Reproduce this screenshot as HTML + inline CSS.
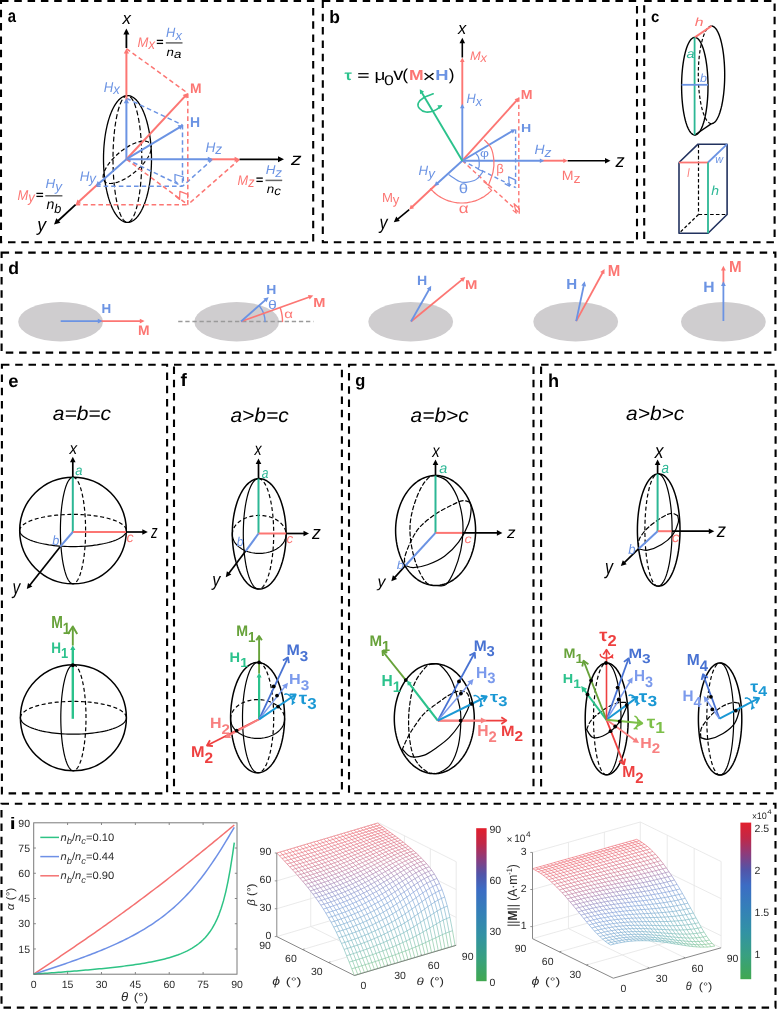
<!DOCTYPE html>
<html><head><meta charset="utf-8"><style>
html,body{margin:0;padding:0;background:#fff;}
svg{display:block;will-change:transform;}
text{font-family:"Liberation Sans",sans-serif;font-kerning:none;text-rendering:geometricPrecision;}
</style></head><body>
<svg width="777" height="1009" viewBox="0 0 777 1009">
<rect width="777" height="1009" fill="#fff"/>
<rect x="1" y="0.9" width="312.2" height="241.3" fill="none" stroke="#000" stroke-width="2.1" stroke-dasharray="7.5 5.8"/>
<rect x="322.8" y="0.9" width="314.2" height="241.3" fill="none" stroke="#000" stroke-width="2.1" stroke-dasharray="7.5 5.8"/>
<rect x="644.2" y="0.9" width="130.4" height="241.3" fill="none" stroke="#000" stroke-width="2.1" stroke-dasharray="7.5 5.8"/>
<rect x="1.6" y="252.6" width="773.8" height="100" fill="none" stroke="#000" stroke-width="2.1" stroke-dasharray="7.5 5.8"/>
<rect x="1.9" y="364.8" width="165.2" height="428.6" fill="none" stroke="#000" stroke-width="2.1" stroke-dasharray="7.5 5.8"/>
<rect x="174" y="364.8" width="167.9" height="428.5" fill="none" stroke="#000" stroke-width="2.1" stroke-dasharray="7.5 5.8"/>
<rect x="349" y="364.8" width="184.5" height="428.5" fill="none" stroke="#000" stroke-width="2.1" stroke-dasharray="7.5 5.8"/>
<rect x="541.1" y="364.8" width="234.5" height="428.5" fill="none" stroke="#000" stroke-width="2.1" stroke-dasharray="7.5 5.8"/>
<rect x="1.5" y="803.8" width="774" height="203.8" fill="none" stroke="#000" stroke-width="2.1" stroke-dasharray="7.5 5.8"/>
<text x="7.77" y="22.42" font-size="18.07" fill="#000" font-weight="bold" font-style="normal" textLength="8.24" lengthAdjust="spacingAndGlyphs" >a</text>
<text x="329.35" y="22.52" font-size="17.97" fill="#000" font-weight="bold" font-style="normal" textLength="10.67" lengthAdjust="spacingAndGlyphs" >b</text>
<text x="651.02" y="22.44" font-size="15.88" fill="#000" font-weight="bold" font-style="normal" textLength="8.32" lengthAdjust="spacingAndGlyphs" >c</text>
<text x="8.38" y="273.73" font-size="17.57" fill="#000" font-weight="bold" font-style="normal" textLength="10.79" lengthAdjust="spacingAndGlyphs" >d</text>
<text x="8.38" y="386.93" font-size="17.89" fill="#000" font-weight="bold" font-style="normal" textLength="10.25" lengthAdjust="spacingAndGlyphs" >e</text>
<text x="180.57" y="386" font-size="17.94" fill="#000" font-weight="bold" font-style="normal" textLength="6.39" lengthAdjust="spacingAndGlyphs" >f</text>
<text x="355.22" y="386.21" font-size="16.92" fill="#000" font-weight="bold" font-style="normal" textLength="10.08" lengthAdjust="spacingAndGlyphs" >g</text>
<text x="547.93" y="386.9" font-size="18.49" fill="#000" font-weight="bold" font-style="normal" textLength="11.09" lengthAdjust="spacingAndGlyphs" >h</text>
<text x="9.82" y="828.7" font-size="16.7" fill="#000" font-weight="bold" font-style="normal" textLength="5.87" lengthAdjust="spacingAndGlyphs" >i</text>
<polyline points="151.5,159 151.47,162.32 151.37,165.63 151.2,168.92 150.98,172.18 150.68,175.41 150.33,178.59 149.91,181.72 149.43,184.79 148.88,187.78 148.28,190.7 147.63,193.53 146.92,196.27 146.15,198.9 145.34,201.42 144.47,203.83 143.56,206.12 142.6,208.27 141.61,210.29 140.57,212.17 139.5,213.91 138.4,215.49 137.26,216.92 136.1,218.19 134.92,219.3 133.71,220.24 132.49,221.01 131.25,221.62 130.01,222.05 128.76,222.31 127.5,222.4 126.24,222.31 124.99,222.05 123.75,221.62 122.51,221.01 121.29,220.24 120.08,219.3 118.9,218.19 117.74,216.92 116.6,215.49 115.5,213.91 114.43,212.17 113.39,210.29 112.4,208.27 111.44,206.12 110.53,203.83 109.66,201.42 108.85,198.9 108.08,196.27 107.37,193.53 106.72,190.7 106.12,187.78 105.57,184.79 105.09,181.72 104.67,178.59 104.32,175.41 104.02,172.18 103.8,168.92 103.63,165.63 103.53,162.32 103.5,159 103.53,155.68 103.63,152.37 103.8,149.08 104.02,145.82 104.32,142.59 104.67,139.41 105.09,136.28 105.57,133.21 106.12,130.22 106.72,127.3 107.37,124.47 108.08,121.73 108.85,119.1 109.66,116.58 110.53,114.17 111.44,111.88 112.4,109.73 113.39,107.71 114.43,105.83 115.5,104.09 116.6,102.51 117.74,101.08 118.9,99.81 120.08,98.7 121.29,97.76 122.51,96.99 123.75,96.38 124.99,95.95 126.24,95.69 127.5,95.6 128.76,95.69 130.01,95.95 131.25,96.38 132.49,96.99 133.71,97.76 134.92,98.7 136.1,99.81 137.26,101.08 138.4,102.51 139.5,104.09 140.57,105.83 141.61,107.71 142.6,109.73 143.56,111.88 144.47,114.17 145.34,116.58 146.15,119.1 146.92,121.73 147.63,124.47 148.28,127.3 148.88,130.22 149.43,133.21 149.91,136.28 150.33,139.41 150.68,142.59 150.98,145.82 151.2,149.08 151.37,152.37 151.47,155.68 151.5,159" fill="none" stroke="#000" stroke-width="1.3" stroke-linejoin="round"/>
<polyline points="141.8,159 141.78,162.32 141.72,165.63 141.62,168.92 141.49,172.18 141.31,175.41 141.1,178.59 140.84,181.72 140.56,184.79 140.23,187.78 139.87,190.7 139.48,193.53 139.05,196.27 138.59,198.9 138.1,201.42 137.58,203.83 137.04,206.12 136.46,208.27 135.86,210.29 135.24,212.17 134.6,213.91 133.94,215.49 133.26,216.92 132.56,218.19 131.85,219.3 131.13,220.24 130.39,221.01 129.65,221.62 128.91,222.05 128.15,222.31 127.4,222.4 126.65,222.31 125.89,222.05 125.15,221.62 124.41,221.01 123.67,220.24 122.95,219.3 122.24,218.19 121.54,216.92 120.86,215.49 120.2,213.91 119.56,212.17 118.94,210.29 118.34,208.27 117.76,206.12 117.22,203.83 116.7,201.42 116.21,198.9 115.75,196.27 115.32,193.53 114.93,190.7 114.57,187.78 114.24,184.79 113.96,181.72 113.7,178.59 113.49,175.41 113.31,172.18 113.18,168.92 113.08,165.63 113.02,162.32 113,159 113.02,155.68 113.08,152.37 113.18,149.08 113.31,145.82 113.49,142.59 113.7,139.41 113.96,136.28 114.24,133.21 114.57,130.22 114.93,127.3 115.32,124.47 115.75,121.73 116.21,119.1 116.7,116.58 117.22,114.17 117.76,111.88 118.34,109.73 118.94,107.71 119.56,105.83 120.2,104.09 120.86,102.51 121.54,101.08 122.24,99.81 122.95,98.7 123.67,97.76 124.41,96.99 125.15,96.38 125.89,95.95 126.65,95.69 127.4,95.6 128.15,95.69 128.91,95.95 129.65,96.38 130.39,96.99 131.13,97.76 131.85,98.7 132.56,99.81 133.26,101.08 133.94,102.51 134.6,104.09 135.24,105.83 135.86,107.71 136.46,109.73 137.04,111.88 137.58,114.17 138.1,116.58 138.59,119.1 139.05,121.73 139.48,124.47 139.87,127.3 140.23,130.22 140.56,133.21 140.84,136.28 141.1,139.41 141.31,142.59 141.49,145.82 141.62,149.08 141.72,152.37 141.78,155.68 141.8,159" fill="none" stroke="#000" stroke-width="1.2" stroke-linejoin="round" stroke-dasharray="5 2.6"/>
<polyline points="149.94,143.35 150.33,143.88 150.65,144.45 150.9,145.08 151.09,145.75 151.22,146.46 151.28,147.22 151.28,148.03 151.2,148.87 151.07,149.74 150.86,150.65 150.6,151.6 150.26,152.57 149.87,153.57 149.41,154.59 148.89,155.64 148.32,156.7 147.68,157.78 146.99,158.87 146.24,159.97 145.44,161.08 144.6,162.19 143.7,163.3 142.76,164.4 141.78,165.51 140.75,166.6 139.69,167.68 138.6,168.75 137.47,169.79 136.32,170.82 135.14,171.83 133.94,172.81 132.72,173.76 131.48,174.67 130.24,175.56 128.98,176.41 127.72,177.22 126.46,177.98 125.2,178.71 123.95,179.39 122.7,180.02 121.47,180.61 120.25,181.14 119.06,181.63 117.88,182.06 116.73,182.43 115.61,182.76 114.52,183.02 113.47,183.23 112.45,183.38 111.47,183.47 110.54,183.51 109.65,183.48 108.81,183.4 108.02,183.26 107.29,183.07 106.61,182.81 105.98,182.5 105.41,182.14 104.91,181.72 104.46,181.25 104.07,180.72 103.75,180.15 103.5,179.52 103.31,178.85 103.18,178.14 103.12,177.38 103.12,176.57 103.2,175.73 103.33,174.86 103.54,173.95 103.8,173 104.14,172.03 104.53,171.03 104.99,170.01 105.51,168.96 106.08,167.9 106.72,166.82 107.41,165.73 108.16,164.63 108.96,163.52 109.8,162.41 110.7,161.3 111.64,160.2 112.62,159.09 113.65,158 114.71,156.92 115.8,155.85 116.93,154.81 118.08,153.78 119.26,152.77 120.46,151.79 121.68,150.84 122.92,149.93 124.16,149.04 125.42,148.19 126.68,147.38 127.94,146.62 129.2,145.89 130.45,145.21 131.7,144.58 132.93,143.99 134.15,143.46 135.34,142.97 136.52,142.54 137.67,142.17 138.79,141.84 139.88,141.58 140.93,141.37 141.95,141.22 142.93,141.13 143.86,141.09 144.75,141.12 145.59,141.2 146.38,141.34 147.11,141.53 147.79,141.79 148.42,142.1 148.99,142.46 149.49,142.88 149.94,143.35" fill="none" stroke="#000" stroke-width="1.2" stroke-linejoin="round" stroke-dasharray="4.2 2.4"/>
<line x1="126.4" y1="98.3" x2="182.5" y2="125" stroke="#6B93E3" stroke-width="1.5" stroke-linecap="butt" stroke-dasharray="4.6 3"/>
<line x1="182.5" y1="125" x2="182.5" y2="186.3" stroke="#6B93E3" stroke-width="1.5" stroke-linecap="butt" stroke-dasharray="4.6 3"/>
<line x1="96" y1="186.3" x2="182.5" y2="186.3" stroke="#6B93E3" stroke-width="1.5" stroke-linecap="butt" stroke-dasharray="4.6 3"/>
<line x1="212.5" y1="159.3" x2="182.5" y2="186.3" stroke="#6B93E3" stroke-width="1.5" stroke-linecap="butt" stroke-dasharray="4.6 3"/>
<line x1="126.4" y1="159.2" x2="182.5" y2="186.3" stroke="#6B93E3" stroke-width="1.5" stroke-linecap="butt" stroke-dasharray="4.6 3"/>
<line x1="126.4" y1="48.6" x2="187.8" y2="93.2" stroke="#FC7673" stroke-width="1.5" stroke-linecap="butt" stroke-dasharray="4.6 3"/>
<line x1="187.8" y1="93.5" x2="187.8" y2="204.7" stroke="#FC7673" stroke-width="1.5" stroke-linecap="butt" stroke-dasharray="4.6 3"/>
<line x1="75.6" y1="204.7" x2="187.8" y2="204.7" stroke="#FC7673" stroke-width="1.5" stroke-linecap="butt" stroke-dasharray="4.6 3"/>
<line x1="239.5" y1="159.3" x2="187.8" y2="204.7" stroke="#FC7673" stroke-width="1.5" stroke-linecap="butt" stroke-dasharray="4.6 3"/>
<line x1="126.4" y1="159.2" x2="187.8" y2="204.7" stroke="#FC7673" stroke-width="1.5" stroke-linecap="butt" stroke-dasharray="4.6 3"/>
<polyline points="183.4,181 183.4,177 175,174.5 175,181 177.5,183.3" fill="none" stroke="#6B93E3" stroke-width="1.3" stroke-linejoin="round"/>
<polyline points="175.4,195.9 179.6,199.4 179.9,191.3 187.7,194.3 187.7,198.4" fill="none" stroke="#FC7673" stroke-width="1.3" stroke-linejoin="round"/>
<line x1="126.4" y1="48" x2="126.4" y2="32.8" stroke="#000" stroke-width="1.8" stroke-linecap="butt"/>
<polygon points="126.4,28.6 129.4,34.6 123.4,34.6" fill="#000"/>
<line x1="239.5" y1="159.3" x2="279.8" y2="159.3" stroke="#000" stroke-width="1.8" stroke-linecap="butt"/>
<polygon points="284,159.3 278,162.3 278,156.3" fill="#000"/>
<line x1="75.6" y1="204.7" x2="57.09" y2="221.75" stroke="#000" stroke-width="1.8" stroke-linecap="butt"/>
<polygon points="54,224.6 56.38,218.33 60.45,222.74" fill="#000"/>
<line x1="126.4" y1="101" x2="126.4" y2="52.1" stroke="#FC7673" stroke-width="2" stroke-linecap="butt"/>
<polygon points="126.4,48.6 129,53.6 123.8,53.6" fill="#FC7673"/>
<line x1="210" y1="159.3" x2="236.1" y2="159.3" stroke="#FC7673" stroke-width="2" stroke-linecap="butt"/>
<polygon points="239.6,159.3 234.6,161.9 234.6,156.7" fill="#FC7673"/>
<line x1="97.5" y1="184.6" x2="78.18" y2="202.33" stroke="#FC7673" stroke-width="2" stroke-linecap="butt"/>
<polygon points="75.6,204.7 77.53,199.4 81.04,203.23" fill="#FC7673"/>
<line x1="126.4" y1="159.2" x2="126.4" y2="101.8" stroke="#6B93E3" stroke-width="2" stroke-linecap="butt"/>
<polygon points="126.4,98.3 129,103.3 123.8,103.3" fill="#6B93E3"/>
<line x1="126.4" y1="159.3" x2="209.3" y2="159.3" stroke="#6B93E3" stroke-width="2" stroke-linecap="butt"/>
<polygon points="212.8,159.3 207.8,161.9 207.8,156.7" fill="#6B93E3"/>
<line x1="126.4" y1="159.2" x2="98.32" y2="183.98" stroke="#6B93E3" stroke-width="2" stroke-linecap="butt"/>
<polygon points="95.7,186.3 97.73,181.04 101.17,184.94" fill="#6B93E3"/>
<line x1="126.4" y1="159.2" x2="185.62" y2="95.56" stroke="#FC7673" stroke-width="2" stroke-linecap="butt"/>
<polygon points="188,93 186.5,98.43 182.69,94.89" fill="#FC7673"/>
<line x1="126.4" y1="159.2" x2="180.3" y2="126.8" stroke="#6B93E3" stroke-width="2" stroke-linecap="butt"/>
<polygon points="183.3,125 180.35,129.8 177.68,125.35" fill="#6B93E3"/>
<text x="122.58" y="24.2" font-size="17.22" fill="#000" font-weight="normal" font-style="italic" textLength="8.43" lengthAdjust="spacingAndGlyphs" >x</text>
<text x="291.12" y="165" font-size="17.6" fill="#000" font-weight="normal" font-style="italic" textLength="10.57" lengthAdjust="spacingAndGlyphs" >z</text>
<text x="37.3" y="231.05" font-size="19.03" fill="#000" font-weight="normal" font-style="italic" textLength="8.81" lengthAdjust="spacingAndGlyphs" >y</text>
<text x="189.97" y="93.4" font-size="13.95" fill="#FC7673" font-weight="bold" font-style="normal" textLength="11.56" lengthAdjust="spacingAndGlyphs" >M</text>
<text x="189.97" y="126.9" font-size="14.24" fill="#6B93E3" font-weight="bold" font-style="normal" textLength="10.07" lengthAdjust="spacingAndGlyphs" >H</text>
<text x="103.79" y="91.67" font-size="14.06" fill="#6B93E3" font-weight="normal" font-style="italic" textLength="9.52" lengthAdjust="spacingAndGlyphs">H</text>
<text x="113.32" y="94.2" font-size="14.06" fill="#6B93E3" font-weight="normal" font-style="italic" textLength="6.59" lengthAdjust="spacingAndGlyphs">x</text>
<text x="205.48" y="151.62" font-size="13.99" fill="#6B93E3" font-weight="normal" font-style="italic" textLength="9.87" lengthAdjust="spacingAndGlyphs">H</text>
<text x="215.35" y="154" font-size="13.99" fill="#6B93E3" font-weight="normal" font-style="italic" textLength="6.84" lengthAdjust="spacingAndGlyphs">z</text>
<text x="79.69" y="180.6" font-size="13.95" fill="#6B93E3" font-weight="normal" font-style="italic" textLength="9.65" lengthAdjust="spacingAndGlyphs">H</text>
<text x="89.34" y="183.11" font-size="13.95" fill="#6B93E3" font-weight="normal" font-style="italic" textLength="6.68" lengthAdjust="spacingAndGlyphs">y</text>
<text x="137.6" y="47.02" font-size="13.99" fill="#FC7673" font-weight="normal" font-style="italic" textLength="10.89" lengthAdjust="spacingAndGlyphs">M</text>
<text x="148.48" y="49.4" font-size="13.99" fill="#FC7673" font-weight="normal" font-style="italic" textLength="6.53" lengthAdjust="spacingAndGlyphs">x</text>
<line x1="156.8" y1="40.4" x2="163.1" y2="40.4" stroke="#000" stroke-width="1.3" stroke-linecap="butt"/>
<line x1="156.8" y1="43.4" x2="163.1" y2="43.4" stroke="#000" stroke-width="1.3" stroke-linecap="butt"/>
<line x1="165.8" y1="42.9" x2="182.5" y2="42.9" stroke="#666" stroke-width="1.5" stroke-linecap="butt"/>
<text x="166.1" y="37" font-size="13.51" fill="#6B93E3" font-weight="normal" font-style="italic" textLength="9.29" lengthAdjust="spacingAndGlyphs">H</text>
<text x="175.39" y="39.7" font-size="13.51" fill="#6B93E3" font-weight="normal" font-style="italic" textLength="6.43" lengthAdjust="spacingAndGlyphs">x</text>
<text x="166.58" y="55.78" font-size="11.86" fill="#000" font-weight="normal" font-style="italic" textLength="7.39" lengthAdjust="spacingAndGlyphs">n</text>
<text x="173.97" y="58.38" font-size="11.86" fill="#000" font-weight="normal" font-style="italic" textLength="7.39" lengthAdjust="spacingAndGlyphs">a</text>
<text x="17.5" y="199.75" font-size="14.17" fill="#FC7673" font-weight="normal" font-style="italic" textLength="10.78" lengthAdjust="spacingAndGlyphs">M</text>
<text x="28.28" y="202.16" font-size="14.17" fill="#FC7673" font-weight="normal" font-style="italic" textLength="6.47" lengthAdjust="spacingAndGlyphs">y</text>
<line x1="36.4" y1="193.4" x2="43.1" y2="193.4" stroke="#000" stroke-width="1.3" stroke-linecap="butt"/>
<line x1="36.4" y1="196.4" x2="43.1" y2="196.4" stroke="#000" stroke-width="1.3" stroke-linecap="butt"/>
<line x1="45.3" y1="195.8" x2="62.4" y2="195.8" stroke="#666" stroke-width="1.5" stroke-linecap="butt"/>
<text x="45.49" y="187.93" font-size="13.27" fill="#6B93E3" font-weight="normal" font-style="italic" textLength="9.71" lengthAdjust="spacingAndGlyphs">H</text>
<text x="55.2" y="190.85" font-size="13.27" fill="#6B93E3" font-weight="normal" font-style="italic" textLength="6.72" lengthAdjust="spacingAndGlyphs">y</text>
<text x="46.47" y="209.06" font-size="14.25" fill="#000" font-weight="normal" font-style="italic" textLength="7.86" lengthAdjust="spacingAndGlyphs">n</text>
<text x="54.32" y="213.47" font-size="12.82" fill="#000" font-weight="normal" font-style="italic" textLength="7.07" lengthAdjust="spacingAndGlyphs">b</text>
<text x="237.61" y="184.72" font-size="13.99" fill="#FC7673" font-weight="normal" font-style="italic" textLength="10.6" lengthAdjust="spacingAndGlyphs">M</text>
<text x="248.21" y="187.1" font-size="13.99" fill="#FC7673" font-weight="normal" font-style="italic" textLength="6.36" lengthAdjust="spacingAndGlyphs">z</text>
<line x1="256.4" y1="178.1" x2="262.8" y2="178.1" stroke="#000" stroke-width="1.3" stroke-linecap="butt"/>
<line x1="256.4" y1="181.4" x2="262.8" y2="181.4" stroke="#000" stroke-width="1.3" stroke-linecap="butt"/>
<line x1="265.5" y1="180.4" x2="282.2" y2="180.4" stroke="#666" stroke-width="1.5" stroke-linecap="butt"/>
<text x="265.69" y="174.15" font-size="12.73" fill="#6B93E3" font-weight="normal" font-style="italic" textLength="9.69" lengthAdjust="spacingAndGlyphs">H</text>
<text x="275.38" y="176.7" font-size="12.73" fill="#6B93E3" font-weight="normal" font-style="italic" textLength="6.71" lengthAdjust="spacingAndGlyphs">z</text>
<text x="266.88" y="192.95" font-size="12.18" fill="#000" font-weight="normal" font-style="italic" textLength="7.46" lengthAdjust="spacingAndGlyphs">n</text>
<text x="274.34" y="195.38" font-size="12.18" fill="#000" font-weight="normal" font-style="italic" textLength="6.71" lengthAdjust="spacingAndGlyphs">c</text>
<line x1="462.3" y1="160.7" x2="518.8" y2="212.5" stroke="#FC7673" stroke-width="1.4" stroke-linecap="butt" stroke-dasharray="4.2 3"/>
<line x1="518.8" y1="97.5" x2="518.8" y2="212.5" stroke="#FC7673" stroke-width="1.4" stroke-linecap="butt" stroke-dasharray="4.2 3"/>
<line x1="462.3" y1="160.7" x2="515.6" y2="187.5" stroke="#6B93E3" stroke-width="1.4" stroke-linecap="butt" stroke-dasharray="4.2 3"/>
<line x1="515.6" y1="129.5" x2="515.6" y2="187.5" stroke="#6B93E3" stroke-width="1.4" stroke-linecap="butt" stroke-dasharray="4.2 3"/>
<polyline points="504.7,183.6 509.4,186.1 508.6,176.9 515.3,179.9 515.3,184.3" fill="none" stroke="#6B93E3" stroke-width="1.2" stroke-linejoin="round"/>
<polyline points="512.8,210.1 516.3,213.1 514.1,203.7 519.3,208.6 519.3,213.8" fill="none" stroke="#FC7673" stroke-width="1.2" stroke-linejoin="round"/>
<line x1="462.3" y1="57.5" x2="462.3" y2="41.65" stroke="#000" stroke-width="1.6" stroke-linecap="butt"/>
<polygon points="462.3,37.8 465.1,43.3 459.5,43.3" fill="#000"/>
<line x1="567.6" y1="160.7" x2="606.65" y2="160.7" stroke="#000" stroke-width="1.6" stroke-linecap="butt"/>
<polygon points="610.5,160.7 605,163.5 605,157.9" fill="#000"/>
<line x1="409.2" y1="209.6" x2="396.78" y2="219.76" stroke="#000" stroke-width="1.6" stroke-linecap="butt"/>
<polygon points="393.8,222.2 396.28,216.55 399.83,220.88" fill="#000"/>
<line x1="462.3" y1="106" x2="462.3" y2="60.55" stroke="#FC7673" stroke-width="1.9" stroke-linecap="butt"/>
<polygon points="462.3,57.4 464.6,61.9 460,61.9" fill="#FC7673"/>
<line x1="542" y1="160.7" x2="564.65" y2="160.7" stroke="#FC7673" stroke-width="1.9" stroke-linecap="butt"/>
<polygon points="567.8,160.7 563.3,163 563.3,158.4" fill="#FC7673"/>
<line x1="436" y1="184.5" x2="411.5" y2="207.45" stroke="#FC7673" stroke-width="1.9" stroke-linecap="butt"/>
<polygon points="409.2,209.6 410.91,204.85 414.06,208.2" fill="#FC7673"/>
<line x1="462.3" y1="160.7" x2="462.3" y2="106.95" stroke="#6B93E3" stroke-width="1.9" stroke-linecap="butt"/>
<polygon points="462.3,103.8 464.6,108.3 460,108.3" fill="#6B93E3"/>
<line x1="462.3" y1="160.7" x2="541.15" y2="160.7" stroke="#6B93E3" stroke-width="1.9" stroke-linecap="butt"/>
<polygon points="544.3,160.7 539.8,163 539.8,158.4" fill="#6B93E3"/>
<line x1="462.3" y1="160.7" x2="436.63" y2="183.98" stroke="#6B93E3" stroke-width="1.9" stroke-linecap="butt"/>
<polygon points="434.3,186.1 436.09,181.37 439.18,184.78" fill="#6B93E3"/>
<line x1="462.3" y1="160.7" x2="517.19" y2="99.84" stroke="#FC7673" stroke-width="1.9" stroke-linecap="butt"/>
<polygon points="519.3,97.5 517.99,102.38 514.58,99.3" fill="#FC7673"/>
<line x1="462.3" y1="160.7" x2="512.79" y2="130.8" stroke="#6B93E3" stroke-width="1.9" stroke-linecap="butt"/>
<polygon points="515.5,129.2 512.8,133.47 510.46,129.51" fill="#6B93E3"/>
<line x1="462.3" y1="160.7" x2="421.41" y2="91.91" stroke="#2BC28C" stroke-width="1.9" stroke-linecap="butt"/>
<polygon points="419.8,89.2 424.16,91.84 420.04,94.29" fill="#2BC28C"/>
<path d="M433.2,93.8 C431.67,94.42 426.48,95.97 424,97.5 C421.52,99.03 419.05,101.17 418.3,103 C417.55,104.83 418.22,107 419.5,108.5 C420.78,110 423.5,111.67 426,112 C428.5,112.33 431.92,111.53 434.5,110.5 C437.08,109.47 440.33,106.58 441.5,105.8" fill="none" stroke="#2BC28C" stroke-width="1.6" stroke-linejoin="round" stroke-linecap="round"/>
<polygon points="442,105.2 439.75,109.29 437.34,105.14" fill="#2BC28C"/>
<path d="M475.6,153.3 C476.03,153.83 477.62,155.27 478.2,156.5 C478.78,157.73 478.95,158.98 479.1,160.7 C479.25,162.42 479.25,165.38 479.1,166.8 C478.95,168.22 477.62,168.42 478.2,169.2 C478.78,169.98 482.2,170.57 482.6,171.5 C483,172.43 481.37,173.72 480.6,174.8 C479.83,175.88 479.05,177.05 478,178 C476.95,178.95 476.3,179.77 474.3,180.5 C472.3,181.23 468.55,182.28 466,182.4 C463.45,182.52 461.83,182.47 459,181.2 C456.17,179.93 450.67,175.87 449,174.8" fill="none" stroke="#6B93E3" stroke-width="1.2" stroke-linejoin="round" stroke-linecap="round"/>
<path d="M484.6,140.2 C485.67,141.45 489.45,144.3 491,147.7 C492.55,151.1 493.57,156.52 493.9,160.6 C494.23,164.68 493.9,168.1 493,172.2 C492.1,176.3 489.25,183.03 488.5,185.2" fill="none" stroke="#FC7673" stroke-width="1.2" stroke-linejoin="round" stroke-linecap="round"/>
<line x1="488.5" y1="185.2" x2="483.5" y2="181.6" stroke="#FC7673" stroke-width="1.2" stroke-linecap="butt"/>
<path d="M430.48,188.73 C430.74,189.01 431.5,189.87 432.03,190.42 C432.56,190.96 433.11,191.5 433.67,192.02 C434.24,192.53 434.81,193.04 435.4,193.52 C435.99,194.01 436.6,194.48 437.21,194.93 C437.83,195.38 438.46,195.82 439.1,196.24 C439.74,196.66 440.39,197.06 441.05,197.44 C441.71,197.82 442.39,198.19 443.07,198.53 C443.75,198.88 444.44,199.2 445.14,199.51 C445.84,199.82 446.55,200.1 447.27,200.37 C447.98,200.64 448.71,200.89 449.44,201.12 C450.17,201.34 450.9,201.55 451.64,201.74 C452.38,201.92 453.13,202.09 453.88,202.24 C454.63,202.38 455.39,202.51 456.14,202.61 C456.9,202.72 457.66,202.8 458.42,202.86 C459.19,202.92 459.95,202.97 460.71,202.99 C461.48,203.01 462.24,203 463.01,202.98 C463.77,202.96 464.54,202.92 465.3,202.85 C466.06,202.79 466.82,202.7 467.58,202.6 C468.33,202.49 469.09,202.36 469.84,202.21 C470.59,202.07 471.33,201.9 472.07,201.71 C472.81,201.52 473.55,201.31 474.28,201.08 C475.01,200.85 475.73,200.6 476.45,200.33 C477.16,200.06 477.87,199.77 478.57,199.46 C479.27,199.15 479.96,198.82 480.64,198.48 C481.32,198.13 481.99,197.76 482.65,197.38 C483.32,197 483.97,196.59 484.6,196.17 C485.24,195.75 485.87,195.31 486.49,194.86 C487.1,194.41 487.7,193.93 488.29,193.45 C488.88,192.96 489.45,192.45 490.01,191.93 C490.57,191.41 491.38,190.6 491.65,190.33" fill="none" stroke="#FC7673" stroke-width="1.2" stroke-linejoin="round" stroke-linecap="round"/>
<line x1="430.48" y1="188.73" x2="432.18" y2="190.33" stroke="#FC7673" stroke-width="1.2" stroke-linecap="butt"/>
<line x1="491.65" y1="190.33" x2="488.05" y2="186.93" stroke="#FC7673" stroke-width="1.2" stroke-linecap="butt"/>
<text x="457.96" y="33.5" font-size="17.04" fill="#000" font-weight="normal" font-style="italic" textLength="8.26" lengthAdjust="spacingAndGlyphs" >x</text>
<text x="615.41" y="166.8" font-size="18.55" fill="#000" font-weight="normal" font-style="italic" textLength="9.14" lengthAdjust="spacingAndGlyphs" >z</text>
<text x="379.51" y="229" font-size="19.3" fill="#000" font-weight="normal" font-style="italic" textLength="8.07" lengthAdjust="spacingAndGlyphs" >y</text>
<text x="520.65" y="99.3" font-size="13.08" fill="#FC7673" font-weight="bold" font-style="normal" textLength="11.79" lengthAdjust="spacingAndGlyphs" >M</text>
<text x="521.06" y="132" font-size="11.63" fill="#6B93E3" font-weight="bold" font-style="normal" textLength="10.2" lengthAdjust="spacingAndGlyphs" >H</text>
<text x="469.9" y="60.06" font-size="12.44" fill="#FC7673" font-weight="normal" font-style="italic" textLength="10.7" lengthAdjust="spacingAndGlyphs">M</text>
<text x="480.6" y="62.3" font-size="12.44" fill="#FC7673" font-weight="normal" font-style="italic" textLength="6.42" lengthAdjust="spacingAndGlyphs">x</text>
<text x="466.61" y="103.17" font-size="13.48" fill="#6B93E3" font-weight="normal" font-style="italic" textLength="9.17" lengthAdjust="spacingAndGlyphs">H</text>
<text x="475.78" y="105.6" font-size="13.48" fill="#6B93E3" font-weight="normal" font-style="italic" textLength="6.35" lengthAdjust="spacingAndGlyphs">x</text>
<text x="534.57" y="154.19" font-size="13.36" fill="#6B93E3" font-weight="normal" font-style="italic" textLength="10.06" lengthAdjust="spacingAndGlyphs">H</text>
<text x="544.63" y="156.6" font-size="13.36" fill="#6B93E3" font-weight="normal" font-style="italic" textLength="6.96" lengthAdjust="spacingAndGlyphs">z</text>
<text x="418.59" y="175.28" font-size="13.48" fill="#6B93E3" font-weight="normal" font-style="italic" textLength="9.6" lengthAdjust="spacingAndGlyphs">H</text>
<text x="428.19" y="177.7" font-size="13.48" fill="#6B93E3" font-weight="normal" font-style="italic" textLength="6.64" lengthAdjust="spacingAndGlyphs">y</text>
<text x="561.84" y="180.27" font-size="13.48" fill="#FC7673" font-weight="normal" font-style="normal" textLength="11.79" lengthAdjust="spacingAndGlyphs">M</text>
<text x="573.63" y="182.7" font-size="13.48" fill="#FC7673" font-weight="normal" font-style="normal" textLength="7.08" lengthAdjust="spacingAndGlyphs">z</text>
<text x="381.92" y="201.58" font-size="13.2" fill="#FC7673" font-weight="normal" font-style="normal" textLength="10.94" lengthAdjust="spacingAndGlyphs">M</text>
<text x="392.86" y="203.96" font-size="13.2" fill="#FC7673" font-weight="normal" font-style="normal" textLength="6.57" lengthAdjust="spacingAndGlyphs">y</text>
<text x="480.13" y="157" font-size="11.1" fill="#6B93E3" font-weight="normal" font-style="normal" textLength="8.95" lengthAdjust="spacingAndGlyphs" >φ</text>
<text x="496.29" y="173.05" font-size="12.77" fill="#FC7673" font-weight="normal" font-style="normal" textLength="7.52" lengthAdjust="spacingAndGlyphs" >β</text>
<text x="458.73" y="193.47" font-size="13.35" fill="#6B93E3" font-weight="normal" font-style="normal" textLength="9.34" lengthAdjust="spacingAndGlyphs" >θ</text>
<text x="458.88" y="213.16" font-size="14.05" fill="#FC7673" font-weight="normal" font-style="normal" textLength="9.91" lengthAdjust="spacingAndGlyphs" >α</text>
<text x="344.45" y="79.95" font-size="14.3" fill="#2BC28C" font-weight="bold" font-style="normal" textLength="7.42" lengthAdjust="spacingAndGlyphs" >τ</text>
<line x1="358.2" y1="73.7" x2="368.6" y2="73.7" stroke="#000" stroke-width="1.25" stroke-linecap="butt"/>
<line x1="358.2" y1="77.2" x2="368.6" y2="77.2" stroke="#000" stroke-width="1.25" stroke-linecap="butt"/>
<text x="374.53" y="79.52" font-size="15" fill="#000" font-weight="normal" font-style="normal" textLength="10.85" lengthAdjust="spacingAndGlyphs" >μ</text>
<text x="384.11" y="84.56" font-size="14.12" fill="#000" font-weight="normal" font-style="normal" textLength="9.89" lengthAdjust="spacingAndGlyphs" >0</text>
<text x="393.23" y="80.1" font-size="17.6" fill="#000" font-weight="normal" font-style="normal" textLength="10.14" lengthAdjust="spacingAndGlyphs" >v</text>
<text x="402.2" y="79.93" font-size="15.78" fill="#000" font-weight="normal" font-style="normal" textLength="5.9" lengthAdjust="spacingAndGlyphs" >(</text>
<text x="409.12" y="80.1" font-size="14.68" fill="#FC7673" font-weight="bold" font-style="normal" textLength="14.65" lengthAdjust="spacingAndGlyphs" >M</text>
<text x="422.64" y="81.62" font-size="16.58" fill="#000" font-weight="normal" font-style="normal" textLength="13.1" lengthAdjust="spacingAndGlyphs" >×</text>
<text x="435.27" y="80.1" font-size="14.68" fill="#6B93E3" font-weight="bold" font-style="normal" textLength="13.27" lengthAdjust="spacingAndGlyphs" >H</text>
<text x="448.8" y="79.93" font-size="15.78" fill="#000" font-weight="normal" font-style="normal" textLength="5.78" lengthAdjust="spacingAndGlyphs" >)</text>
<polyline points="708,86.2 707.98,88.75 707.93,91.3 707.84,93.83 707.71,96.35 707.55,98.83 707.35,101.28 707.12,103.69 706.86,106.05 706.56,108.35 706.23,110.6 705.87,112.78 705.48,114.88 705.06,116.91 704.61,118.85 704.13,120.71 703.63,122.47 703.11,124.12 702.56,125.68 701.99,127.13 701.4,128.46 700.79,129.68 700.17,130.78 699.53,131.76 698.88,132.61 698.22,133.34 697.54,133.93 696.86,134.4 696.18,134.73 695.49,134.93 694.8,135 694.11,134.93 693.42,134.73 692.74,134.4 692.06,133.93 691.38,133.34 690.72,132.61 690.07,131.76 689.43,130.78 688.81,129.68 688.2,128.46 687.61,127.13 687.04,125.68 686.49,124.12 685.97,122.47 685.47,120.71 684.99,118.85 684.54,116.91 684.12,114.88 683.73,112.78 683.37,110.6 683.04,108.35 682.74,106.05 682.48,103.69 682.25,101.28 682.05,98.83 681.89,96.35 681.76,93.83 681.67,91.3 681.62,88.75 681.6,86.2 681.62,83.65 681.67,81.1 681.76,78.57 681.89,76.05 682.05,73.57 682.25,71.12 682.48,68.71 682.74,66.35 683.04,64.05 683.37,61.8 683.73,59.62 684.12,57.52 684.54,55.49 684.99,53.55 685.47,51.69 685.97,49.93 686.49,48.28 687.04,46.72 687.61,45.27 688.2,43.94 688.81,42.72 689.43,41.62 690.07,40.64 690.72,39.79 691.38,39.06 692.06,38.47 692.74,38 693.42,37.67 694.11,37.47 694.8,37.4 695.49,37.47 696.18,37.67 696.86,38 697.54,38.47 698.22,39.06 698.88,39.79 699.53,40.64 700.17,41.62 700.79,42.72 701.4,43.94 701.99,45.27 702.56,46.72 703.11,48.28 703.63,49.93 704.13,51.69 704.61,53.55 705.06,55.49 705.48,57.52 705.87,59.62 706.23,61.8 706.56,64.05 706.86,66.35 707.12,68.71 707.35,71.12 707.55,73.57 707.71,76.05 707.84,78.57 707.93,81.1 707.98,83.65 708,86.2" fill="none" stroke="#000" stroke-width="1.4" stroke-linejoin="round"/>
<polyline points="711.5,26 712.19,26.07 712.88,26.27 713.56,26.6 714.24,27.07 714.92,27.66 715.58,28.39 716.23,29.24 716.87,30.22 717.49,31.32 718.1,32.54 718.69,33.87 719.26,35.32 719.81,36.88 720.33,38.53 720.83,40.29 721.31,42.15 721.76,44.09 722.18,46.12 722.57,48.22 722.93,50.4 723.26,52.65 723.56,54.95 723.82,57.31 724.05,59.72 724.25,62.17 724.41,64.65 724.54,67.17 724.63,69.7 724.68,72.25 724.7,74.8 724.68,77.35 724.63,79.9 724.54,82.43 724.41,84.95 724.25,87.43 724.05,89.88 723.82,92.29 723.56,94.65 723.26,96.95 722.93,99.2 722.57,101.38 722.18,103.48 721.76,105.51 721.31,107.45 720.83,109.31 720.33,111.07 719.81,112.72 719.26,114.28 718.69,115.73 718.1,117.06 717.49,118.28 716.87,119.38 716.23,120.36 715.58,121.21 714.92,121.94 714.24,122.53 713.56,123 712.88,123.33 712.19,123.53 711.5,123.6" fill="none" stroke="#000" stroke-width="1.4" stroke-linejoin="round"/>
<polyline points="711.5,123.6 710.81,123.53 710.12,123.33 709.44,123 708.76,122.53 708.08,121.94 707.42,121.21 706.77,120.36 706.13,119.38 705.51,118.28 704.9,117.06 704.31,115.73 703.74,114.28 703.19,112.72 702.67,111.07 702.17,109.31 701.69,107.45 701.24,105.51 700.82,103.48 700.43,101.38 700.07,99.2 699.74,96.95 699.44,94.65 699.18,92.29 698.95,89.88 698.75,87.43 698.59,84.95 698.46,82.43 698.37,79.9 698.32,77.35 698.3,74.8 698.32,72.25 698.37,69.7 698.46,67.17 698.59,64.65 698.75,62.17 698.95,59.72 699.18,57.31 699.44,54.95 699.74,52.65 700.07,50.4 700.43,48.22 700.82,46.12 701.24,44.09 701.69,42.15 702.17,40.29 702.67,38.53 703.19,36.88 703.74,35.32 704.31,33.87 704.9,32.54 705.51,31.32 706.13,30.22 706.77,29.24 707.42,28.39 708.08,27.66 708.76,27.07 709.44,26.6 710.12,26.27 710.81,26.07 711.5,26" fill="none" stroke="#000" stroke-width="1.2" stroke-linejoin="round" stroke-dasharray="3.5 2.2"/>
<line x1="694.8" y1="37.4" x2="711.5" y2="26" stroke="#FC7673" stroke-width="2" stroke-linecap="butt"/>
<line x1="694.8" y1="135" x2="711.5" y2="123.6" stroke="#000" stroke-width="1.4" stroke-linecap="butt"/>
<line x1="694.6" y1="37.4" x2="694.6" y2="135" stroke="#2CB795" stroke-width="1.8" stroke-linecap="butt"/>
<line x1="681.6" y1="84.8" x2="708" y2="84.8" stroke="#6B93E3" stroke-width="1.8" stroke-linecap="butt"/>
<text x="694.74" y="26" font-size="11.87" fill="#FC7673" font-weight="normal" font-style="italic" textLength="8.79" lengthAdjust="spacingAndGlyphs" >h</text>
<text x="686.48" y="58.08" font-size="12.59" fill="#2CB795" font-weight="normal" font-style="italic" textLength="8.02" lengthAdjust="spacingAndGlyphs" >a</text>
<text x="700.02" y="81.58" font-size="11.85" fill="#6B93E3" font-weight="normal" font-style="italic" textLength="6.96" lengthAdjust="spacingAndGlyphs" >b</text>
<line x1="698.5" y1="144.2" x2="698.5" y2="214.5" stroke="#000" stroke-width="1.2" stroke-linecap="butt" stroke-dasharray="3.6 2.2"/>
<line x1="698.5" y1="214.5" x2="727.1" y2="214.5" stroke="#000" stroke-width="1.2" stroke-linecap="butt" stroke-dasharray="3.6 2.2"/>
<line x1="698.5" y1="214.5" x2="679" y2="233.3" stroke="#000" stroke-width="1.2" stroke-linecap="butt" stroke-dasharray="3.2 2.2"/>
<polyline points="679,162.5 698,144.2 727.1,144.2 727.1,214.5 708,233.3 679,233.3 679,162.5" fill="none" stroke="#22325F" stroke-width="1.6" stroke-linejoin="round"/>
<line x1="727.1" y1="144.2" x2="708" y2="162.5" stroke="#6B93E3" stroke-width="1.8" stroke-linecap="butt"/>
<line x1="679" y1="162.5" x2="708" y2="162.5" stroke="#FC7673" stroke-width="1.8" stroke-linecap="butt"/>
<line x1="708" y1="162.5" x2="708" y2="233.3" stroke="#2CB795" stroke-width="1.8" stroke-linecap="butt"/>
<text x="687.34" y="177" font-size="12.14" fill="#FC7673" font-weight="normal" font-style="italic" textLength="2.24" lengthAdjust="spacingAndGlyphs" >l</text>
<text x="715.26" y="163" font-size="11.36" fill="#6B93E3" font-weight="normal" font-style="italic" textLength="7.86" lengthAdjust="spacingAndGlyphs" >w</text>
<text x="711.27" y="195" font-size="12.97" fill="#2CB795" font-weight="normal" font-style="italic" textLength="7.77" lengthAdjust="spacingAndGlyphs" >h</text>
<ellipse cx="60.6" cy="321.8" rx="42.4" ry="19.7" fill="#CFCDCF"/>
<ellipse cx="236.7" cy="321.8" rx="42.4" ry="19.7" fill="#CFCDCF"/>
<ellipse cx="410.7" cy="321.8" rx="42.4" ry="19.7" fill="#CFCDCF"/>
<ellipse cx="575.7" cy="321.8" rx="42.4" ry="19.7" fill="#CFCDCF"/>
<ellipse cx="723.4" cy="321.8" rx="42.4" ry="19.7" fill="#CFCDCF"/>
<line x1="178.2" y1="321.5" x2="313.5" y2="321.5" stroke="#9A9A9A" stroke-width="1.4" stroke-linecap="butt" stroke-dasharray="4.3 2.8"/>
<line x1="100" y1="321.1" x2="141.24" y2="321.1" stroke="#FC7673" stroke-width="1.8" stroke-linecap="butt"/>
<polygon points="144.6,321.1 139.8,323.5 139.8,318.7" fill="#FC7673"/>
<line x1="60.7" y1="321.1" x2="99.24" y2="321.1" stroke="#6B93E3" stroke-width="1.8" stroke-linecap="butt"/>
<polygon points="102.6,321.1 97.8,323.5 97.8,318.7" fill="#6B93E3"/>
<text x="101.4" y="313" font-size="13.08" fill="#6B93E3" font-weight="bold" font-style="normal" textLength="9.7" lengthAdjust="spacingAndGlyphs" >H</text>
<text x="138.07" y="335" font-size="13.95" fill="#FC7673" font-weight="bold" font-style="normal" textLength="11.56" lengthAdjust="spacingAndGlyphs" >M</text>
<path d="M265,321.5 C264.99,321.26 264.99,320.55 264.96,320.07 C264.93,319.59 264.89,319.12 264.83,318.64 C264.77,318.17 264.7,317.7 264.62,317.23 C264.53,316.76 264.43,316.29 264.32,315.83 C264.21,315.37 264.08,314.91 263.94,314.45 C263.8,313.99 263.65,313.54 263.48,313.1 C263.31,312.65 263.13,312.21 262.94,311.77 C262.75,311.33 262.54,310.9 262.32,310.48 C262.1,310.06 261.87,309.64 261.63,309.23 C261.38,308.82 261.13,308.42 260.86,308.02 C260.59,307.63 260.31,307.24 260.02,306.86 C259.73,306.48 259.26,305.94 259.11,305.75" fill="none" stroke="#6B93E3" stroke-width="1.4" stroke-linejoin="round" stroke-linecap="round"/>
<path d="M282.5,321.5 C282.5,321.27 282.49,320.58 282.48,320.12 C282.46,319.67 282.44,319.21 282.41,318.75 C282.38,318.29 282.34,317.83 282.29,317.38 C282.25,316.92 282.2,316.47 282.14,316.01 C282.07,315.56 282.01,315.1 281.93,314.65 C281.86,314.2 281.77,313.75 281.68,313.3 C281.59,312.85 281.49,312.4 281.39,311.95 C281.28,311.51 281.17,311.06 281.05,310.62 C280.93,310.18 280.8,309.74 280.67,309.3 C280.53,308.86 280.31,308.21 280.24,307.99" fill="none" stroke="#FC7673" stroke-width="1.4" stroke-linejoin="round" stroke-linecap="round"/>
<line x1="241" y1="321.5" x2="310.14" y2="296.73" stroke="#FC7673" stroke-width="1.8" stroke-linecap="butt"/>
<polygon points="313.3,295.6 309.59,299.48 307.97,294.96" fill="#FC7673"/>
<line x1="241" y1="321.5" x2="266.08" y2="299.42" stroke="#6B93E3" stroke-width="1.8" stroke-linecap="butt"/>
<polygon points="268.6,297.2 266.58,302.17 263.41,298.57" fill="#6B93E3"/>
<text x="266.27" y="293.7" font-size="12.94" fill="#6B93E3" font-weight="bold" font-style="normal" textLength="10.07" lengthAdjust="spacingAndGlyphs" >H</text>
<text x="313.22" y="306.7" font-size="12.94" fill="#FC7673" font-weight="bold" font-style="normal" textLength="12.15" lengthAdjust="spacingAndGlyphs" >M</text>
<text x="267.98" y="308.98" font-size="12.54" fill="#6B93E3" font-weight="normal" font-style="normal" textLength="8.85" lengthAdjust="spacingAndGlyphs" >θ</text>
<text x="284.27" y="317.68" font-size="12.05" fill="#FC7673" font-weight="normal" font-style="normal" textLength="8.66" lengthAdjust="spacingAndGlyphs" >α</text>
<line x1="411" y1="321.5" x2="462.7" y2="279.13" stroke="#FC7673" stroke-width="1.8" stroke-linecap="butt"/>
<polygon points="465.3,277 463.11,281.9 460.07,278.19" fill="#FC7673"/>
<line x1="411" y1="321.5" x2="429.55" y2="288.72" stroke="#6B93E3" stroke-width="1.8" stroke-linecap="butt"/>
<polygon points="431.2,285.8 430.93,291.16 426.75,288.8" fill="#6B93E3"/>
<text x="417.06" y="285.4" font-size="13.37" fill="#6B93E3" font-weight="bold" font-style="normal" textLength="10.2" lengthAdjust="spacingAndGlyphs" >H</text>
<text x="465.01" y="289" font-size="12.65" fill="#FC7673" font-weight="bold" font-style="normal" textLength="12.39" lengthAdjust="spacingAndGlyphs" >M</text>
<line x1="576.2" y1="321.1" x2="602.99" y2="271.95" stroke="#FC7673" stroke-width="1.8" stroke-linecap="butt"/>
<polygon points="604.6,269 604.41,274.36 600.2,272.07" fill="#FC7673"/>
<line x1="576.2" y1="321.1" x2="584" y2="284.49" stroke="#6B93E3" stroke-width="1.8" stroke-linecap="butt"/>
<polygon points="584.7,281.2 586.05,286.39 581.35,285.39" fill="#6B93E3"/>
<text x="566.29" y="289" font-size="14.54" fill="#6B93E3" font-weight="bold" font-style="normal" textLength="10.93" lengthAdjust="spacingAndGlyphs" >H</text>
<text x="607.7" y="275.8" font-size="15.84" fill="#FC7673" font-weight="bold" font-style="normal" textLength="12.51" lengthAdjust="spacingAndGlyphs" >M</text>
<line x1="723.4" y1="284" x2="723.4" y2="269.06" stroke="#FC7673" stroke-width="1.8" stroke-linecap="butt"/>
<polygon points="723.4,265.7 725.8,270.5 721,270.5" fill="#FC7673"/>
<line x1="723.4" y1="321" x2="723.4" y2="284.56" stroke="#6B93E3" stroke-width="1.8" stroke-linecap="butt"/>
<polygon points="723.4,281.2 725.8,286 721,286" fill="#6B93E3"/>
<text x="703.25" y="292.3" font-size="14.97" fill="#6B93E3" font-weight="bold" font-style="normal" textLength="11.3" lengthAdjust="spacingAndGlyphs" >H</text>
<text x="728.99" y="271.5" font-size="15.84" fill="#FC7673" font-weight="bold" font-style="normal" textLength="12.63" lengthAdjust="spacingAndGlyphs" >M</text>
<text x="52.73" y="420.41" font-size="19.61" fill="#000" font-weight="normal" font-style="italic" textLength="58.41" lengthAdjust="spacingAndGlyphs" >a=b=c</text>
<circle cx="73" cy="530.5" r="53.3" fill="none" stroke="#000" stroke-width="1.5"/>
<polyline points="126.3,530.5 126.23,531.34 126.01,532.18 125.64,533.02 125.14,533.85 124.48,534.67 123.69,535.48 122.76,536.27 121.69,537.05 120.49,537.81 119.16,538.55 117.7,539.27 116.12,539.96 114.42,540.63 112.61,541.27 110.69,541.88 108.66,542.46 106.54,543.01 104.33,543.53 102.03,544 99.65,544.44 97.2,544.85 94.68,545.21 92.1,545.53 89.47,545.81 86.8,546.05 84.08,546.25 81.34,546.4 78.57,546.51 75.79,546.58 73,546.6 70.21,546.58 67.43,546.51 64.66,546.4 61.92,546.25 59.2,546.05 56.53,545.81 53.9,545.53 51.32,545.21 48.8,544.85 46.35,544.44 43.97,544 41.67,543.53 39.46,543.01 37.34,542.46 35.31,541.88 33.39,541.27 31.58,540.63 29.88,539.96 28.3,539.27 26.84,538.55 25.51,537.81 24.31,537.05 23.24,536.27 22.31,535.48 21.52,534.67 20.86,533.85 20.36,533.02 19.99,532.18 19.77,531.34 19.7,530.5" fill="none" stroke="#000" stroke-width="1.2" stroke-linejoin="round"/>
<polyline points="19.7,530.5 19.77,529.66 19.99,528.82 20.36,527.98 20.86,527.15 21.52,526.33 22.31,525.52 23.24,524.73 24.31,523.95 25.51,523.19 26.84,522.45 28.3,521.73 29.88,521.04 31.58,520.37 33.39,519.73 35.31,519.12 37.34,518.54 39.46,517.99 41.67,517.47 43.97,517 46.35,516.56 48.8,516.15 51.32,515.79 53.9,515.47 56.53,515.19 59.2,514.95 61.92,514.75 64.66,514.6 67.43,514.49 70.21,514.42 73,514.4 75.79,514.42 78.57,514.49 81.34,514.6 84.08,514.75 86.8,514.95 89.47,515.19 92.1,515.47 94.68,515.79 97.2,516.15 99.65,516.56 102.03,517 104.33,517.47 106.54,517.99 108.66,518.54 110.69,519.12 112.61,519.73 114.42,520.37 116.12,521.04 117.7,521.73 119.16,522.45 120.49,523.19 121.69,523.95 122.76,524.73 123.69,525.52 124.48,526.33 125.14,527.15 125.64,527.98 126.01,528.82 126.23,529.66 126.3,530.5" fill="none" stroke="#000" stroke-width="1.2" stroke-linejoin="round" stroke-dasharray="4 2.6"/>
<polyline points="73,583.8 72.34,583.73 71.68,583.51 71.03,583.14 70.38,582.64 69.74,581.98 69.11,581.19 68.48,580.26 67.88,579.19 67.28,577.99 66.7,576.66 66.14,575.2 65.59,573.62 65.07,571.92 64.57,570.11 64.09,568.19 63.64,566.16 63.21,564.04 62.81,561.83 62.43,559.53 62.09,557.15 61.77,554.7 61.49,552.18 61.24,549.6 61.02,546.97 60.83,544.3 60.68,541.58 60.56,538.84 60.47,536.07 60.42,533.29 60.4,530.5 60.42,527.71 60.47,524.93 60.56,522.16 60.68,519.42 60.83,516.7 61.02,514.03 61.24,511.4 61.49,508.82 61.77,506.3 62.09,503.85 62.43,501.47 62.81,499.17 63.21,496.96 63.64,494.84 64.09,492.81 64.57,490.89 65.07,489.08 65.59,487.38 66.14,485.8 66.7,484.34 67.28,483.01 67.88,481.81 68.48,480.74 69.11,479.81 69.74,479.02 70.38,478.36 71.03,477.86 71.68,477.49 72.34,477.27 73,477.2" fill="none" stroke="#000" stroke-width="1.2" stroke-linejoin="round"/>
<polyline points="73,477.2 73.66,477.27 74.32,477.49 74.97,477.86 75.62,478.36 76.26,479.02 76.89,479.81 77.52,480.74 78.12,481.81 78.72,483.01 79.3,484.34 79.86,485.8 80.41,487.38 80.93,489.08 81.43,490.89 81.91,492.81 82.36,494.84 82.79,496.96 83.19,499.17 83.57,501.47 83.91,503.85 84.23,506.3 84.51,508.82 84.76,511.4 84.98,514.03 85.17,516.7 85.32,519.42 85.44,522.16 85.53,524.93 85.58,527.71 85.6,530.5 85.58,533.29 85.53,536.07 85.44,538.84 85.32,541.58 85.17,544.3 84.98,546.97 84.76,549.6 84.51,552.18 84.23,554.7 83.91,557.15 83.57,559.53 83.19,561.83 82.79,564.04 82.36,566.16 81.91,568.19 81.43,570.11 80.93,571.92 80.41,573.62 79.86,575.2 79.3,576.66 78.72,577.99 78.12,579.19 77.52,580.26 76.89,581.19 76.26,581.98 75.62,582.64 74.97,583.14 74.32,583.51 73.66,583.73 73,583.8" fill="none" stroke="#000" stroke-width="1.2" stroke-linejoin="round" stroke-dasharray="4 2.6"/>
<line x1="72.8" y1="477.3" x2="72.8" y2="460.65" stroke="#000" stroke-width="1.7" stroke-linecap="butt"/>
<polygon points="72.8,456.8 75.6,462.3 70,462.3" fill="#000"/>
<line x1="126" y1="532" x2="143.95" y2="532" stroke="#000" stroke-width="1.7" stroke-linecap="butt"/>
<polygon points="147.8,532 142.3,534.8 142.3,529.2" fill="#000"/>
<line x1="60.2" y1="546.7" x2="29.18" y2="586.08" stroke="#000" stroke-width="1.7" stroke-linecap="butt"/>
<polygon points="26.8,589.1 28,583.05 32.4,586.51" fill="#000"/>
<line x1="72.8" y1="532" x2="72.8" y2="477.3" stroke="#2CB795" stroke-width="2" stroke-linecap="butt"/>
<line x1="72.8" y1="532" x2="126" y2="532" stroke="#FC7673" stroke-width="2" stroke-linecap="butt"/>
<line x1="72.8" y1="532" x2="60.2" y2="546.7" stroke="#6B93E3" stroke-width="2" stroke-linecap="butt"/>
<text x="69.61" y="453.7" font-size="16.47" fill="#000" font-weight="normal" font-style="italic" textLength="7.64" lengthAdjust="spacingAndGlyphs" >x</text>
<text x="151.08" y="538" font-size="18.93" fill="#000" font-weight="normal" font-style="italic" textLength="6.6" lengthAdjust="spacingAndGlyphs" >z</text>
<text x="12.48" y="594.14" font-size="20.52" fill="#000" font-weight="normal" font-style="italic" textLength="7.74" lengthAdjust="spacingAndGlyphs" >y</text>
<text x="75.21" y="475.46" font-size="13.87" fill="#2CB795" font-weight="normal" font-style="italic" textLength="7.24" lengthAdjust="spacingAndGlyphs" >a</text>
<text x="126.53" y="542.16" font-size="13.87" fill="#FC7673" font-weight="normal" font-style="italic" textLength="7.13" lengthAdjust="spacingAndGlyphs" >c</text>
<text x="52.32" y="545.47" font-size="13.34" fill="#6B93E3" font-weight="normal" font-style="italic" textLength="7.07" lengthAdjust="spacingAndGlyphs" >b</text>
<circle cx="73.4" cy="717.8" r="53" fill="none" stroke="#000" stroke-width="1.5"/>
<polyline points="126.4,717.8 126.33,718.66 126.11,719.51 125.75,720.37 125.24,721.21 124.59,722.04 123.81,722.87 122.88,723.68 121.82,724.47 120.62,725.25 119.3,726 117.85,726.73 116.28,727.44 114.59,728.12 112.79,728.77 110.88,729.4 108.86,729.99 106.75,730.55 104.55,731.07 102.27,731.55 99.9,732 97.46,732.41 94.96,732.78 92.39,733.11 89.78,733.4 87.12,733.64 84.42,733.84 81.69,734 78.94,734.11 76.17,734.18 73.4,734.2 70.63,734.18 67.86,734.11 65.11,734 62.38,733.84 59.68,733.64 57.02,733.4 54.41,733.11 51.84,732.78 49.34,732.41 46.9,732 44.53,731.55 42.25,731.07 40.05,730.55 37.94,729.99 35.92,729.4 34.01,728.77 32.21,728.12 30.52,727.44 28.95,726.73 27.5,726 26.18,725.25 24.98,724.47 23.92,723.68 22.99,722.87 22.21,722.04 21.56,721.21 21.05,720.37 20.69,719.51 20.47,718.66 20.4,717.8" fill="none" stroke="#000" stroke-width="1.2" stroke-linejoin="round"/>
<polyline points="20.4,717.8 20.47,716.94 20.69,716.09 21.05,715.23 21.56,714.39 22.21,713.56 22.99,712.73 23.92,711.92 24.98,711.13 26.18,710.35 27.5,709.6 28.95,708.87 30.52,708.16 32.21,707.48 34.01,706.83 35.92,706.2 37.94,705.61 40.05,705.05 42.25,704.53 44.53,704.05 46.9,703.6 49.34,703.19 51.84,702.82 54.41,702.49 57.02,702.2 59.68,701.96 62.38,701.76 65.11,701.6 67.86,701.49 70.63,701.42 73.4,701.4 76.17,701.42 78.94,701.49 81.69,701.6 84.42,701.76 87.12,701.96 89.78,702.2 92.39,702.49 94.96,702.82 97.46,703.19 99.9,703.6 102.27,704.05 104.55,704.53 106.75,705.05 108.86,705.61 110.88,706.2 112.79,706.83 114.59,707.48 116.28,708.16 117.85,708.87 119.3,709.6 120.62,710.35 121.82,711.13 122.88,711.92 123.81,712.73 124.59,713.56 125.24,714.39 125.75,715.23 126.11,716.09 126.33,716.94 126.4,717.8" fill="none" stroke="#000" stroke-width="1.2" stroke-linejoin="round" stroke-dasharray="4 2.6"/>
<polyline points="73.4,770.8 72.74,770.73 72.08,770.51 71.43,770.15 70.78,769.64 70.14,768.99 69.51,768.21 68.88,767.28 68.28,766.22 67.68,765.02 67.1,763.7 66.54,762.25 65.99,760.68 65.47,758.99 64.97,757.19 64.49,755.28 64.04,753.26 63.61,751.15 63.21,748.95 62.83,746.67 62.49,744.3 62.17,741.86 61.89,739.36 61.64,736.79 61.42,734.18 61.23,731.52 61.08,728.82 60.96,726.09 60.87,723.34 60.82,720.57 60.8,717.8 60.82,715.03 60.87,712.26 60.96,709.51 61.08,706.78 61.23,704.08 61.42,701.42 61.64,698.81 61.89,696.24 62.17,693.74 62.49,691.3 62.83,688.93 63.21,686.65 63.61,684.45 64.04,682.34 64.49,680.32 64.97,678.41 65.47,676.61 65.99,674.92 66.54,673.35 67.1,671.9 67.68,670.58 68.28,669.38 68.88,668.32 69.51,667.39 70.14,666.61 70.78,665.96 71.43,665.45 72.08,665.09 72.74,664.87 73.4,664.8" fill="none" stroke="#000" stroke-width="1.2" stroke-linejoin="round"/>
<polyline points="73.4,664.8 74.06,664.87 74.72,665.09 75.37,665.45 76.02,665.96 76.66,666.61 77.29,667.39 77.92,668.32 78.52,669.38 79.12,670.58 79.7,671.9 80.26,673.35 80.81,674.92 81.33,676.61 81.83,678.41 82.31,680.32 82.76,682.34 83.19,684.45 83.59,686.65 83.97,688.93 84.31,691.3 84.63,693.74 84.91,696.24 85.16,698.81 85.38,701.42 85.57,704.08 85.72,706.78 85.84,709.51 85.93,712.26 85.98,715.03 86,717.8 85.98,720.57 85.93,723.34 85.84,726.09 85.72,728.82 85.57,731.52 85.38,734.18 85.16,736.79 84.91,739.36 84.63,741.86 84.31,744.3 83.97,746.67 83.59,748.95 83.19,751.15 82.76,753.26 82.31,755.28 81.83,757.19 81.33,758.99 80.81,760.68 80.26,762.25 79.7,763.7 79.12,765.02 78.52,766.22 77.92,767.28 77.29,768.21 76.66,768.99 76.02,769.64 75.37,770.15 74.72,770.51 74.06,770.73 73.4,770.8" fill="none" stroke="#000" stroke-width="1.2" stroke-linejoin="round" stroke-dasharray="4 2.6"/>
<line x1="72.8" y1="718.8" x2="72.8" y2="648" stroke="#2BC28C" stroke-width="2.4" stroke-linecap="butt"/>
<polygon points="72.8,645.3 75.4,649.9 70.2,649.9" fill="#2BC28C"/>
<line x1="72.8" y1="645.5" x2="72.8" y2="627" stroke="#67A23A" stroke-width="1.9" stroke-linecap="butt"/>
<polyline points="67.9,634 72.8,626.4 77.2,634" fill="none" stroke="#67A23A" stroke-width="1.9" stroke-linejoin="round"/>
<circle cx="72.8" cy="665.2" r="2" fill="#000"/>
<text x="51.17" y="628.03" font-size="17.34" fill="#67A23A" font-weight="bold" font-style="normal" textLength="11.63" lengthAdjust="spacingAndGlyphs">M</text>
<text x="62.79" y="634.1" font-size="16.47" fill="#67A23A" font-weight="bold" font-style="normal" textLength="7.38" lengthAdjust="spacingAndGlyphs">1</text>
<text x="51.19" y="652.97" font-size="15.22" fill="#2BC28C" font-weight="bold" font-style="normal" textLength="9.8" lengthAdjust="spacingAndGlyphs">H</text>
<text x="60.99" y="658.3" font-size="14.46" fill="#2BC28C" font-weight="bold" font-style="normal" textLength="7.17" lengthAdjust="spacingAndGlyphs">1</text>
<text x="230.43" y="422.11" font-size="19.88" fill="#000" font-weight="normal" font-style="italic" textLength="58.31" lengthAdjust="spacingAndGlyphs" >a&gt;b=c</text>
<polyline points="286.1,533.8 286.06,536.69 285.95,539.57 285.77,542.44 285.51,545.28 285.18,548.09 284.78,550.86 284.31,553.58 283.77,556.25 283.17,558.86 282.5,561.4 281.76,563.86 280.96,566.25 280.11,568.54 279.19,570.74 278.22,572.83 277.2,574.82 276.13,576.7 275.01,578.46 273.85,580.09 272.65,581.6 271.41,582.98 270.14,584.23 268.84,585.33 267.51,586.3 266.16,587.12 264.79,587.79 263.41,588.32 262.01,588.7 260.61,588.92 259.2,589 257.79,588.92 256.39,588.7 254.99,588.32 253.61,587.79 252.24,587.12 250.89,586.3 249.56,585.33 248.26,584.23 246.99,582.98 245.75,581.6 244.55,580.09 243.39,578.46 242.27,576.7 241.2,574.82 240.18,572.83 239.21,570.74 238.29,568.54 237.44,566.25 236.64,563.86 235.9,561.4 235.23,558.86 234.63,556.25 234.09,553.58 233.62,550.86 233.22,548.09 232.89,545.28 232.63,542.44 232.45,539.57 232.34,536.69 232.3,533.8 232.34,530.91 232.45,528.03 232.63,525.16 232.89,522.32 233.22,519.51 233.62,516.74 234.09,514.02 234.63,511.35 235.23,508.74 235.9,506.2 236.64,503.74 237.44,501.35 238.29,499.06 239.21,496.86 240.18,494.77 241.2,492.78 242.27,490.9 243.39,489.14 244.55,487.51 245.75,486 246.99,484.62 248.26,483.37 249.56,482.27 250.89,481.3 252.24,480.48 253.61,479.81 254.99,479.28 256.39,478.9 257.79,478.68 259.2,478.6 260.61,478.68 262.01,478.9 263.41,479.28 264.79,479.81 266.16,480.48 267.51,481.3 268.84,482.27 270.14,483.37 271.41,484.62 272.65,486 273.85,487.51 275.01,489.14 276.13,490.9 277.2,492.78 278.22,494.77 279.19,496.86 280.11,499.06 280.96,501.35 281.76,503.74 282.5,506.2 283.17,508.74 283.77,511.35 284.31,514.02 284.78,516.74 285.18,519.51 285.51,522.32 285.77,525.16 285.95,528.03 286.06,530.91 286.1,533.8" fill="none" stroke="#000" stroke-width="1.5" stroke-linejoin="round"/>
<polyline points="286.1,534.4 286.06,535.39 285.95,536.39 285.77,537.37 285.51,538.35 285.18,539.32 284.78,540.27 284.31,541.21 283.77,542.13 283.17,543.03 282.5,543.9 281.76,544.75 280.96,545.57 280.11,546.36 279.19,547.11 278.22,547.84 277.2,548.52 276.13,549.17 275.01,549.77 273.85,550.33 272.65,550.85 271.41,551.33 270.14,551.76 268.84,552.14 267.51,552.47 266.16,552.75 264.79,552.98 263.41,553.17 262.01,553.3 260.61,553.37 259.2,553.4 257.79,553.37 256.39,553.3 254.99,553.17 253.61,552.98 252.24,552.75 250.89,552.47 249.56,552.14 248.26,551.76 246.99,551.33 245.75,550.85 244.55,550.33 243.39,549.77 242.27,549.17 241.2,548.52 240.18,547.84 239.21,547.11 238.29,546.36 237.44,545.57 236.64,544.75 235.9,543.9 235.23,543.03 234.63,542.13 234.09,541.21 233.62,540.27 233.22,539.32 232.89,538.35 232.63,537.37 232.45,536.39 232.34,535.39 232.3,534.4" fill="none" stroke="#000" stroke-width="1.2" stroke-linejoin="round"/>
<polyline points="232.3,534.4 232.34,533.41 232.45,532.41 232.63,531.43 232.89,530.45 233.22,529.48 233.62,528.53 234.09,527.59 234.63,526.67 235.23,525.77 235.9,524.9 236.64,524.05 237.44,523.23 238.29,522.44 239.21,521.69 240.18,520.96 241.2,520.28 242.27,519.63 243.39,519.03 244.55,518.47 245.75,517.95 246.99,517.47 248.26,517.04 249.56,516.66 250.89,516.33 252.24,516.05 253.61,515.82 254.99,515.63 256.39,515.5 257.79,515.43 259.2,515.4 260.61,515.43 262.01,515.5 263.41,515.63 264.79,515.82 266.16,516.05 267.51,516.33 268.84,516.66 270.14,517.04 271.41,517.47 272.65,517.95 273.85,518.47 275.01,519.03 276.13,519.63 277.2,520.28 278.22,520.96 279.19,521.69 280.11,522.44 280.96,523.23 281.76,524.05 282.5,524.9 283.17,525.77 283.77,526.67 284.31,527.59 284.78,528.53 285.18,529.48 285.51,530.45 285.77,531.43 285.95,532.41 286.06,533.41 286.1,534.4" fill="none" stroke="#000" stroke-width="1.2" stroke-linejoin="round" stroke-dasharray="4 2.6"/>
<polyline points="258.5,589 257.7,588.92 256.91,588.7 256.12,588.32 255.34,587.79 254.57,587.12 253.8,586.3 253.05,585.33 252.32,584.23 251.6,582.98 250.9,581.6 250.22,580.09 249.57,578.46 248.93,576.7 248.33,574.82 247.75,572.83 247.2,570.74 246.69,568.54 246.2,566.25 245.75,563.86 245.34,561.4 244.96,558.86 244.61,556.25 244.31,553.58 244.04,550.86 243.82,548.09 243.63,545.28 243.49,542.44 243.38,539.57 243.32,536.69 243.3,533.8 243.32,530.91 243.38,528.03 243.49,525.16 243.63,522.32 243.82,519.51 244.04,516.74 244.31,514.02 244.61,511.35 244.96,508.74 245.34,506.2 245.75,503.74 246.2,501.35 246.69,499.06 247.2,496.86 247.75,494.77 248.33,492.78 248.93,490.9 249.57,489.14 250.22,487.51 250.9,486 251.6,484.62 252.32,483.37 253.05,482.27 253.8,481.3 254.57,480.48 255.34,479.81 256.12,479.28 256.91,478.9 257.7,478.68 258.5,478.6" fill="none" stroke="#000" stroke-width="1.2" stroke-linejoin="round"/>
<polyline points="258.5,478.6 259.3,478.68 260.09,478.9 260.88,479.28 261.66,479.81 262.43,480.48 263.2,481.3 263.95,482.27 264.68,483.37 265.4,484.62 266.1,486 266.78,487.51 267.43,489.14 268.07,490.9 268.67,492.78 269.25,494.77 269.8,496.86 270.31,499.06 270.8,501.35 271.25,503.74 271.66,506.2 272.04,508.74 272.39,511.35 272.69,514.02 272.96,516.74 273.18,519.51 273.37,522.32 273.51,525.16 273.62,528.03 273.68,530.91 273.7,533.8 273.68,536.69 273.62,539.57 273.51,542.44 273.37,545.28 273.18,548.09 272.96,550.86 272.69,553.58 272.39,556.25 272.04,558.86 271.66,561.4 271.25,563.86 270.8,566.25 270.31,568.54 269.8,570.74 269.25,572.83 268.67,574.82 268.07,576.7 267.43,578.46 266.78,580.09 266.1,581.6 265.4,582.98 264.68,584.23 263.95,585.33 263.2,586.3 262.43,587.12 261.66,587.79 260.88,588.32 260.09,588.7 259.3,588.92 258.5,589" fill="none" stroke="#000" stroke-width="1.2" stroke-linejoin="round" stroke-dasharray="4 2.6"/>
<line x1="258.5" y1="478.6" x2="258.5" y2="462.35" stroke="#000" stroke-width="1.7" stroke-linecap="butt"/>
<polygon points="258.5,458.5 261.3,464 255.7,464" fill="#000"/>
<line x1="286.1" y1="533.5" x2="305.15" y2="533.5" stroke="#000" stroke-width="1.7" stroke-linecap="butt"/>
<polygon points="309,533.5 303.5,536.3 303.5,530.7" fill="#000"/>
<line x1="245.7" y1="551.1" x2="228.13" y2="574.23" stroke="#000" stroke-width="1.7" stroke-linecap="butt"/>
<polygon points="225.8,577.3 226.9,571.23 231.36,574.61" fill="#000"/>
<line x1="258.5" y1="533.5" x2="258.5" y2="478.6" stroke="#2CB795" stroke-width="2" stroke-linecap="butt"/>
<line x1="258.5" y1="533.5" x2="286.1" y2="533.5" stroke="#FC7673" stroke-width="2" stroke-linecap="butt"/>
<line x1="258.5" y1="533.5" x2="245.7" y2="551.1" stroke="#6B93E3" stroke-width="2" stroke-linecap="butt"/>
<text x="254.47" y="455.2" font-size="17.6" fill="#000" font-weight="normal" font-style="italic" textLength="7.11" lengthAdjust="spacingAndGlyphs" >x</text>
<text x="311.9" y="539" font-size="19.12" fill="#000" font-weight="normal" font-style="italic" textLength="8.84" lengthAdjust="spacingAndGlyphs" >z</text>
<text x="212.21" y="585.72" font-size="19.16" fill="#000" font-weight="normal" font-style="italic" textLength="8.07" lengthAdjust="spacingAndGlyphs" >y</text>
<text x="261.73" y="478.45" font-size="14.97" fill="#2CB795" font-weight="normal" font-style="italic" textLength="6.68" lengthAdjust="spacingAndGlyphs" >a</text>
<text x="286.56" y="542.87" font-size="12.96" fill="#FC7673" font-weight="normal" font-style="italic" textLength="6.69" lengthAdjust="spacingAndGlyphs" >c</text>
<text x="236.83" y="546.27" font-size="12.8" fill="#6B93E3" font-weight="normal" font-style="italic" textLength="6.85" lengthAdjust="spacingAndGlyphs" >b</text>
<polyline points="284.6,717.6 284.56,720.49 284.45,723.37 284.27,726.24 284.01,729.08 283.68,731.89 283.28,734.66 282.81,737.38 282.27,740.05 281.66,742.66 280.98,745.2 280.24,747.66 279.44,750.05 278.58,752.34 277.66,754.54 276.69,756.63 275.67,758.62 274.59,760.5 273.47,762.26 272.31,763.89 271.1,765.4 269.86,766.78 268.58,768.03 267.28,769.13 265.94,770.1 264.59,770.92 263.21,771.59 261.82,772.12 260.42,772.5 259.01,772.72 257.6,772.8 256.19,772.72 254.78,772.5 253.38,772.12 251.99,771.59 250.61,770.92 249.26,770.1 247.92,769.13 246.62,768.03 245.34,766.78 244.1,765.4 242.89,763.89 241.73,762.26 240.61,760.5 239.53,758.62 238.51,756.63 237.54,754.54 236.62,752.34 235.76,750.05 234.96,747.66 234.22,745.2 233.54,742.66 232.93,740.05 232.39,737.38 231.92,734.66 231.52,731.89 231.19,729.08 230.93,726.24 230.75,723.37 230.64,720.49 230.6,717.6 230.64,714.71 230.75,711.83 230.93,708.96 231.19,706.12 231.52,703.31 231.92,700.54 232.39,697.82 232.93,695.15 233.54,692.54 234.22,690 234.96,687.54 235.76,685.15 236.62,682.86 237.54,680.66 238.51,678.57 239.53,676.58 240.61,674.7 241.73,672.94 242.89,671.31 244.1,669.8 245.34,668.42 246.62,667.17 247.92,666.07 249.26,665.1 250.61,664.28 251.99,663.61 253.38,663.08 254.78,662.7 256.19,662.48 257.6,662.4 259.01,662.48 260.42,662.7 261.82,663.08 263.21,663.61 264.59,664.28 265.94,665.1 267.28,666.07 268.58,667.17 269.86,668.42 271.1,669.8 272.31,671.31 273.47,672.94 274.59,674.7 275.67,676.58 276.69,678.57 277.66,680.66 278.58,682.86 279.44,685.15 280.24,687.54 280.98,690 281.66,692.54 282.27,695.15 282.81,697.82 283.28,700.54 283.68,703.31 284.01,706.12 284.27,708.96 284.45,711.83 284.56,714.71 284.6,717.6" fill="none" stroke="#000" stroke-width="1.5" stroke-linejoin="round"/>
<polyline points="284.6,719 284.56,720.02 284.45,721.03 284.27,722.03 284.01,723.03 283.68,724.02 283.28,724.99 282.81,725.95 282.27,726.89 281.66,727.81 280.98,728.7 280.24,729.57 279.44,730.4 278.58,731.21 277.66,731.98 276.69,732.72 275.67,733.42 274.59,734.08 273.47,734.69 272.31,735.27 271.1,735.8 269.86,736.29 268.58,736.72 267.28,737.11 265.94,737.45 264.59,737.74 263.21,737.98 261.82,738.16 260.42,738.29 259.01,738.37 257.6,738.4 256.19,738.37 254.78,738.29 253.38,738.16 251.99,737.98 250.61,737.74 249.26,737.45 247.92,737.11 246.62,736.72 245.34,736.29 244.1,735.8 242.89,735.27 241.73,734.69 240.61,734.08 239.53,733.42 238.51,732.72 237.54,731.98 236.62,731.21 235.76,730.4 234.96,729.57 234.22,728.7 233.54,727.81 232.93,726.89 232.39,725.95 231.92,724.99 231.52,724.02 231.19,723.03 230.93,722.03 230.75,721.03 230.64,720.02 230.6,719" fill="none" stroke="#000" stroke-width="1.2" stroke-linejoin="round"/>
<polyline points="230.6,719 230.64,717.98 230.75,716.97 230.93,715.97 231.19,714.97 231.52,713.98 231.92,713.01 232.39,712.05 232.93,711.11 233.54,710.19 234.22,709.3 234.96,708.43 235.76,707.6 236.62,706.79 237.54,706.02 238.51,705.28 239.53,704.58 240.61,703.92 241.73,703.31 242.89,702.73 244.1,702.2 245.34,701.71 246.62,701.28 247.92,700.89 249.26,700.55 250.61,700.26 251.99,700.02 253.38,699.84 254.78,699.71 256.19,699.63 257.6,699.6 259.01,699.63 260.42,699.71 261.82,699.84 263.21,700.02 264.59,700.26 265.94,700.55 267.28,700.89 268.58,701.28 269.86,701.71 271.1,702.2 272.31,702.73 273.47,703.31 274.59,703.92 275.67,704.58 276.69,705.28 277.66,706.02 278.58,706.79 279.44,707.6 280.24,708.43 280.98,709.3 281.66,710.19 282.27,711.11 282.81,712.05 283.28,713.01 283.68,713.98 284.01,714.97 284.27,715.97 284.45,716.97 284.56,717.98 284.6,719" fill="none" stroke="#000" stroke-width="1.2" stroke-linejoin="round" stroke-dasharray="4 2.6"/>
<polyline points="258.1,772.8 257.28,772.72 256.47,772.5 255.66,772.12 254.86,771.59 254.06,770.92 253.28,770.1 252.51,769.13 251.75,768.03 251.02,766.78 250.3,765.4 249.6,763.89 248.93,762.26 248.28,760.5 247.66,758.62 247.07,756.63 246.51,754.54 245.98,752.34 245.48,750.05 245.02,747.66 244.59,745.2 244.2,742.66 243.85,740.05 243.54,737.38 243.26,734.66 243.03,731.89 242.84,729.08 242.69,726.24 242.59,723.37 242.52,720.49 242.5,717.6 242.52,714.71 242.59,711.83 242.69,708.96 242.84,706.12 243.03,703.31 243.26,700.54 243.54,697.82 243.85,695.15 244.2,692.54 244.59,690 245.02,687.54 245.48,685.15 245.98,682.86 246.51,680.66 247.07,678.57 247.66,676.58 248.28,674.7 248.93,672.94 249.6,671.31 250.3,669.8 251.02,668.42 251.75,667.17 252.51,666.07 253.28,665.1 254.06,664.28 254.86,663.61 255.66,663.08 256.47,662.7 257.28,662.48 258.1,662.4" fill="none" stroke="#000" stroke-width="1.2" stroke-linejoin="round"/>
<polyline points="258.1,662.4 258.92,662.48 259.73,662.7 260.54,663.08 261.34,663.61 262.14,664.28 262.92,665.1 263.69,666.07 264.45,667.17 265.18,668.42 265.9,669.8 266.6,671.31 267.27,672.94 267.92,674.7 268.54,676.58 269.13,678.57 269.69,680.66 270.22,682.86 270.72,685.15 271.18,687.54 271.61,690 272,692.54 272.35,695.15 272.66,697.82 272.94,700.54 273.17,703.31 273.36,706.12 273.51,708.96 273.61,711.83 273.68,714.71 273.7,717.6 273.68,720.49 273.61,723.37 273.51,726.24 273.36,729.08 273.17,731.89 272.94,734.66 272.66,737.38 272.35,740.05 272,742.66 271.61,745.2 271.18,747.66 270.72,750.05 270.22,752.34 269.69,754.54 269.13,756.63 268.54,758.62 267.92,760.5 267.27,762.26 266.6,763.89 265.9,765.4 265.18,766.78 264.45,768.03 263.69,769.13 262.92,770.1 262.14,770.92 261.34,771.59 260.54,772.12 259.73,772.5 258.92,772.72 258.1,772.8" fill="none" stroke="#000" stroke-width="1.2" stroke-linejoin="round" stroke-dasharray="4 2.6"/>
<line x1="259.1" y1="719.3" x2="207" y2="745.5" stroke="#EE4040" stroke-width="1.8" stroke-linecap="butt"/>
<polyline points="209.98,740.31 207,745.5 212.95,746.2" fill="none" stroke="#EE4040" stroke-width="1.8" stroke-linejoin="round"/>
<line x1="259.1" y1="719.3" x2="228.07" y2="736.07" stroke="#F88080" stroke-width="1.8" stroke-linecap="butt"/>
<polygon points="224.5,738 228.18,732.6 231.03,737.88" fill="#F88080"/>
<line x1="259.1" y1="719.3" x2="259.1" y2="676" stroke="#2BC28C" stroke-width="2.2" stroke-linecap="butt"/>
<polygon points="259.1,672.8 261.6,677.4 256.6,677.4" fill="#2BC28C"/>
<line x1="259.1" y1="673.5" x2="259.1" y2="636.1" stroke="#67A23A" stroke-width="1.9" stroke-linecap="butt"/>
<polyline points="261.9,640.3 259.1,636.1 256.3,640.3" fill="none" stroke="#67A23A" stroke-width="1.9" stroke-linejoin="round"/>
<line x1="259.1" y1="719.3" x2="288" y2="657.3" stroke="#4872D2" stroke-width="1.8" stroke-linecap="butt"/>
<polyline points="288.88,663.23 288,657.3 282.9,660.44" fill="none" stroke="#4872D2" stroke-width="1.8" stroke-linejoin="round"/>
<line x1="259.1" y1="719.3" x2="285.48" y2="685.89" stroke="#7B9AEC" stroke-width="1.5" stroke-linecap="butt"/>
<polygon points="288,682.7 286.76,689.11 282.05,685.39" fill="#7B9AEC"/>
<line x1="259.1" y1="719.3" x2="295.6" y2="694.5" stroke="#1A98D4" stroke-width="2" stroke-linecap="butt"/>
<polyline points="293.32,700.04 295.6,694.5 289.61,694.58" fill="none" stroke="#1A98D4" stroke-width="2" stroke-linejoin="round"/>
<path d="M284.82,694.33 C284.9,694.29 285.14,694.14 285.32,694.08 C285.51,694.02 285.7,693.98 285.91,693.96 C286.11,693.94 286.33,693.94 286.55,693.97 C286.77,694 287,694.05 287.23,694.12 C287.46,694.19 287.7,694.29 287.94,694.4 C288.18,694.52 288.42,694.65 288.66,694.81 C288.9,694.96 289.14,695.14 289.37,695.33 C289.6,695.52 289.83,695.73 290.06,695.95 C290.28,696.17 290.49,696.41 290.7,696.66 C290.9,696.91 291.1,697.17 291.28,697.44 C291.46,697.7 291.63,697.98 291.79,698.26 C291.94,698.54 292.08,698.83 292.21,699.12 C292.33,699.41 292.44,699.7 292.54,699.99 C292.63,700.27 292.7,700.56 292.76,700.84 C292.81,701.12 292.85,701.39 292.87,701.66 C292.89,701.92 292.89,702.18 292.87,702.42 C292.85,702.66 292.81,702.9 292.76,703.11 C292.7,703.33 292.63,703.53 292.53,703.71 C292.44,703.9 292.26,704.13 292.21,704.21" fill="none" stroke="#1A98D4" stroke-width="1.5" stroke-linejoin="round" stroke-linecap="round"/>
<polygon points="291.78,704.59 291.84,700.32 295.68,702.84" fill="#1A98D4"/>
<circle cx="259.1" cy="662.4" r="1.9" fill="#000"/>
<circle cx="273.7" cy="686.4" r="1.9" fill="#000"/>
<circle cx="277" cy="695.6" r="1.9" fill="#000"/>
<circle cx="278.1" cy="706.6" r="1.9" fill="#000"/>
<circle cx="236.6" cy="730.6" r="1.9" fill="#000"/>
<text x="236.25" y="636.27" font-size="15.22" fill="#67A23A" font-weight="bold" font-style="normal" textLength="11.82" lengthAdjust="spacingAndGlyphs">M</text>
<text x="248.08" y="641.6" font-size="14.46" fill="#67A23A" font-weight="bold" font-style="normal" textLength="7.5" lengthAdjust="spacingAndGlyphs">1</text>
<text x="229.62" y="661.91" font-size="13.68" fill="#2BC28C" font-weight="bold" font-style="normal" textLength="10.55" lengthAdjust="spacingAndGlyphs">H</text>
<text x="240.17" y="666.7" font-size="13" fill="#2BC28C" font-weight="bold" font-style="normal" textLength="7.72" lengthAdjust="spacingAndGlyphs">1</text>
<text x="286.43" y="655.33" font-size="15.16" fill="#4872D2" font-weight="bold" font-style="normal" textLength="13.35" lengthAdjust="spacingAndGlyphs">M</text>
<text x="299.78" y="660.64" font-size="14.4" fill="#4872D2" font-weight="bold" font-style="normal" textLength="8.47" lengthAdjust="spacingAndGlyphs">3</text>
<text x="289.12" y="684.44" font-size="14.59" fill="#7B9AEC" font-weight="bold" font-style="normal" textLength="11.69" lengthAdjust="spacingAndGlyphs">H</text>
<text x="300.8" y="689.54" font-size="13.86" fill="#7B9AEC" font-weight="bold" font-style="normal" textLength="8.55" lengthAdjust="spacingAndGlyphs">3</text>
<text x="298.73" y="703.86" font-size="17.72" fill="#1A98D4" font-weight="bold" font-style="normal" textLength="8.43" lengthAdjust="spacingAndGlyphs">τ</text>
<text x="307.16" y="708.82" font-size="15.95" fill="#1A98D4" font-weight="bold" font-style="normal" textLength="9.45" lengthAdjust="spacingAndGlyphs">3</text>
<text x="209.93" y="728.34" font-size="14.74" fill="#F88080" font-weight="bold" font-style="normal" textLength="11.54" lengthAdjust="spacingAndGlyphs">H</text>
<text x="221.47" y="733.5" font-size="14" fill="#F88080" font-weight="bold" font-style="normal" textLength="8.44" lengthAdjust="spacingAndGlyphs">2</text>
<text x="191.01" y="757.47" font-size="15.8" fill="#EE4040" font-weight="bold" font-style="normal" textLength="13.53" lengthAdjust="spacingAndGlyphs">M</text>
<text x="204.54" y="763" font-size="15.01" fill="#EE4040" font-weight="bold" font-style="normal" textLength="8.58" lengthAdjust="spacingAndGlyphs">2</text>
<text x="410.63" y="421.61" font-size="19.88" fill="#000" font-weight="normal" font-style="italic" textLength="58.1" lengthAdjust="spacingAndGlyphs" >a=b&gt;c</text>
<polyline points="475.6,530.5 475.55,533.38 475.38,536.25 475.11,539.1 474.73,541.94 474.24,544.74 473.64,547.5 472.94,550.21 472.14,552.87 471.24,555.47 470.24,558 469.15,560.46 467.96,562.83 466.69,565.11 465.33,567.3 463.88,569.39 462.37,571.37 460.77,573.24 459.11,575 457.39,576.63 455.6,578.13 453.76,579.51 451.87,580.75 449.93,581.85 447.96,582.81 445.95,583.63 443.92,584.3 441.86,584.82 439.78,585.2 437.69,585.42 435.6,585.5 433.51,585.42 431.42,585.2 429.34,584.82 427.28,584.3 425.25,583.63 423.24,582.81 421.27,581.85 419.33,580.75 417.44,579.51 415.6,578.13 413.81,576.63 412.09,575 410.43,573.24 408.83,571.37 407.32,569.39 405.87,567.3 404.51,565.11 403.24,562.83 402.05,560.46 400.96,558 399.96,555.47 399.06,552.87 398.26,550.21 397.56,547.5 396.96,544.74 396.47,541.94 396.09,539.1 395.82,536.25 395.65,533.38 395.6,530.5 395.65,527.62 395.82,524.75 396.09,521.9 396.47,519.06 396.96,516.26 397.56,513.5 398.26,510.79 399.06,508.13 399.96,505.53 400.96,503 402.05,500.54 403.24,498.17 404.51,495.89 405.87,493.7 407.32,491.61 408.83,489.63 410.43,487.76 412.09,486 413.81,484.37 415.6,482.87 417.44,481.49 419.33,480.25 421.27,479.15 423.24,478.19 425.25,477.37 427.28,476.7 429.34,476.18 431.42,475.8 433.51,475.58 435.6,475.5 437.69,475.58 439.78,475.8 441.86,476.18 443.92,476.7 445.95,477.37 447.96,478.19 449.93,479.15 451.87,480.25 453.76,481.49 455.6,482.87 457.39,484.37 459.11,486 460.77,487.76 462.37,489.63 463.88,491.61 465.33,493.7 466.69,495.89 467.96,498.17 469.15,500.54 470.24,503 471.24,505.53 472.14,508.13 472.94,510.79 473.64,513.5 474.24,516.26 474.73,519.06 475.11,521.9 475.38,524.75 475.55,527.62 475.6,530.5" fill="none" stroke="#000" stroke-width="1.5" stroke-linejoin="round"/>
<path d="M435.5,475.6 C437.47,476.53 443.68,477.67 447.3,481.2 C450.92,484.73 454.72,490.9 457.2,496.8 C459.68,502.7 461.25,510.58 462.2,516.6 C463.15,522.62 463.15,527.23 462.9,532.9 C462.65,538.57 462.12,544.35 460.7,550.6 C459.28,556.85 456.87,564.73 454.4,570.4 C451.93,576.07 448.8,582.08 445.9,584.6 C443,587.12 438.48,585.35 437,585.5" fill="none" stroke="#000" stroke-width="1.2" stroke-linejoin="round" stroke-linecap="round"/>
<path d="M435.5,475.6 C434.47,475.85 431.72,475.05 429.3,477.1 C426.88,479.15 423.58,483.13 421,487.9 C418.42,492.67 415.6,499.75 413.8,505.7 C412,511.65 410.7,517.65 410.2,523.6 C409.7,529.55 410,535.25 410.8,541.4 C411.6,547.55 413.3,554.93 415,560.5 C416.7,566.07 419.02,571.03 421,574.8 C422.98,578.57 424.9,581.32 426.9,583.1 C428.9,584.88 431.98,585.1 433,585.5" fill="none" stroke="#000" stroke-width="1.2" stroke-linejoin="round" stroke-linecap="round" stroke-dasharray="4 2.6"/>
<path d="M405.5,565.5 C406.8,565.85 409.63,567.72 413.3,567.6 C416.97,567.48 422.3,566.68 427.5,564.8 C432.7,562.92 439.32,560.08 444.5,556.3 C449.68,552.52 454.6,547.53 458.6,542.1 C462.6,536.67 466.4,529.37 468.5,523.7 C470.6,518.03 471.03,511.72 471.2,508.1 C471.37,504.48 469.78,503.02 469.5,502" fill="none" stroke="#000" stroke-width="1.2" stroke-linejoin="round" stroke-linecap="round"/>
<path d="M469.5,502 C468.25,501.8 465,500.25 462,500.8 C459,501.35 455.83,503.13 451.5,505.3 C447.17,507.47 441.18,510.27 436,513.8 C430.82,517.33 424.5,522.1 420.4,526.5 C416.3,530.9 414,535.12 411.4,540.2 C408.8,545.28 405.78,552.78 404.8,557 C403.82,561.22 405.38,564.08 405.5,565.5" fill="none" stroke="#000" stroke-width="1.2" stroke-linejoin="round" stroke-linecap="round" stroke-dasharray="4 2.6"/>
<line x1="435.5" y1="475.6" x2="435.5" y2="463.45" stroke="#000" stroke-width="1.7" stroke-linecap="butt"/>
<polygon points="435.5,459.6 438.3,465.1 432.7,465.1" fill="#000"/>
<line x1="462.2" y1="532.9" x2="498.55" y2="532.9" stroke="#000" stroke-width="1.7" stroke-linecap="butt"/>
<polygon points="502.4,532.9 496.9,535.7 496.9,530.1" fill="#000"/>
<line x1="405.5" y1="565.5" x2="393.88" y2="578.34" stroke="#000" stroke-width="1.7" stroke-linecap="butt"/>
<polygon points="391.3,581.2 392.91,575.24 397.07,579" fill="#000"/>
<line x1="435.5" y1="532.9" x2="435.5" y2="475.6" stroke="#2CB795" stroke-width="2" stroke-linecap="butt"/>
<line x1="435.5" y1="532.9" x2="462.2" y2="532.9" stroke="#FC7673" stroke-width="2" stroke-linecap="butt"/>
<line x1="435.5" y1="532.9" x2="405.5" y2="565.5" stroke="#6B93E3" stroke-width="2" stroke-linecap="butt"/>
<text x="432.19" y="457.4" font-size="18.17" fill="#000" font-weight="normal" font-style="italic" textLength="7.38" lengthAdjust="spacingAndGlyphs" >x</text>
<text x="507.1" y="537.6" font-size="15.9" fill="#000" font-weight="normal" font-style="italic" textLength="8.53" lengthAdjust="spacingAndGlyphs" >z</text>
<text x="377.4" y="586.84" font-size="16.17" fill="#000" font-weight="normal" font-style="italic" textLength="7.91" lengthAdjust="spacingAndGlyphs" >y</text>
<text x="439.18" y="473.46" font-size="14.42" fill="#2CB795" font-weight="normal" font-style="italic" textLength="8.02" lengthAdjust="spacingAndGlyphs" >a</text>
<text x="464.63" y="543.48" font-size="12.23" fill="#FC7673" font-weight="normal" font-style="italic" textLength="7.13" lengthAdjust="spacingAndGlyphs" >c</text>
<text x="396.71" y="568.59" font-size="11.44" fill="#6B93E3" font-weight="normal" font-style="italic" textLength="7.29" lengthAdjust="spacingAndGlyphs" >b</text>
<polyline points="474.3,718.7 474.25,721.58 474.08,724.45 473.81,727.3 473.43,730.14 472.94,732.94 472.34,735.7 471.64,738.41 470.84,741.07 469.94,743.67 468.94,746.2 467.85,748.66 466.66,751.03 465.39,753.31 464.03,755.5 462.58,757.59 461.07,759.57 459.47,761.44 457.81,763.2 456.09,764.83 454.3,766.33 452.46,767.71 450.57,768.95 448.63,770.05 446.66,771.01 444.65,771.83 442.62,772.5 440.56,773.02 438.48,773.4 436.39,773.62 434.3,773.7 432.21,773.62 430.12,773.4 428.04,773.02 425.98,772.5 423.95,771.83 421.94,771.01 419.97,770.05 418.03,768.95 416.14,767.71 414.3,766.33 412.51,764.83 410.79,763.2 409.13,761.44 407.53,759.57 406.02,757.59 404.57,755.5 403.21,753.31 401.94,751.03 400.75,748.66 399.66,746.2 398.66,743.67 397.76,741.07 396.96,738.41 396.26,735.7 395.66,732.94 395.17,730.14 394.79,727.3 394.52,724.45 394.35,721.58 394.3,718.7 394.35,715.82 394.52,712.95 394.79,710.1 395.17,707.26 395.66,704.46 396.26,701.7 396.96,698.99 397.76,696.33 398.66,693.73 399.66,691.2 400.75,688.74 401.94,686.37 403.21,684.09 404.57,681.9 406.02,679.81 407.53,677.83 409.13,675.96 410.79,674.2 412.51,672.57 414.3,671.07 416.14,669.69 418.03,668.45 419.97,667.35 421.94,666.39 423.95,665.57 425.98,664.9 428.04,664.38 430.12,664 432.21,663.78 434.3,663.7 436.39,663.78 438.48,664 440.56,664.38 442.62,664.9 444.65,665.57 446.66,666.39 448.63,667.35 450.57,668.45 452.46,669.69 454.3,671.07 456.09,672.57 457.81,674.2 459.47,675.96 461.07,677.83 462.58,679.81 464.03,681.9 465.39,684.09 466.66,686.37 467.85,688.74 468.94,691.2 469.94,693.73 470.84,696.33 471.64,698.99 472.34,701.7 472.94,704.46 473.43,707.26 473.81,710.1 474.08,712.95 474.25,715.82 474.3,718.7" fill="none" stroke="#000" stroke-width="1.5" stroke-linejoin="round"/>
<path d="M433,664 C434.22,664.22 437.15,662.52 440.3,665.3 C443.45,668.08 448.68,673.83 451.9,680.7 C455.12,687.57 458.1,699.85 459.6,706.5 C461.1,713.15 461.1,714.17 460.9,720.6 C460.7,727.03 460.12,737.8 458.4,745.1 C456.68,752.4 453.82,759.78 450.6,764.4 C447.38,769.02 441.87,771.3 439.1,772.8 C436.33,774.3 434.85,773.3 434,773.4" fill="none" stroke="#000" stroke-width="1.2" stroke-linejoin="round" stroke-linecap="round"/>
<path d="M433,664 C431.87,664.43 429.27,663.38 426.2,666.6 C423.13,669.82 417.38,676.65 414.6,683.3 C411.82,689.95 410.47,698.78 409.5,706.5 C408.53,714.22 408.38,722.1 408.8,729.6 C409.22,737.1 410.38,745.7 412,751.5 C413.62,757.3 415.92,760.97 418.5,764.4 C421.08,767.83 425.25,770.6 427.5,772.1 C429.75,773.6 431.25,773.18 432,773.4" fill="none" stroke="#000" stroke-width="1.2" stroke-linejoin="round" stroke-linecap="round" stroke-dasharray="4 2.6"/>
<path d="M403,750 C404.28,751.12 407.27,755.8 410.7,756.7 C414.13,757.6 419.3,756.9 423.6,755.4 C427.9,753.9 432.2,750.7 436.5,747.7 C440.8,744.7 445.55,741.27 449.4,737.4 C453.25,733.53 456.6,729.02 459.6,724.5 C462.6,719.98 465.68,713.95 467.4,710.3 C469.12,706.65 469.48,703.88 469.9,702.6" fill="none" stroke="#000" stroke-width="1.2" stroke-linejoin="round" stroke-linecap="round"/>
<path d="M469.9,702.6 C469.48,701.1 469.12,695.53 467.4,693.6 C465.68,691.67 462.6,690.78 459.6,691 C456.6,691.22 453.25,692.75 449.4,694.9 C445.55,697.05 440.8,700.68 436.5,703.9 C432.2,707.12 427.9,709.48 423.6,714.2 C419.3,718.92 414.13,726.62 410.7,732.2 C407.27,737.78 404.28,744.73 403,747.7 C401.72,750.67 403,749.62 403,750" fill="none" stroke="#000" stroke-width="1.2" stroke-linejoin="round" stroke-linecap="round" stroke-dasharray="4 2.6"/>
<line x1="437.8" y1="720.6" x2="506.3" y2="720.6" stroke="#EE4040" stroke-width="1.8" stroke-linecap="butt"/>
<polyline points="501.3,723.9 506.3,720.6 501.3,717.3" fill="none" stroke="#EE4040" stroke-width="1.8" stroke-linejoin="round"/>
<line x1="437.8" y1="720.6" x2="482.64" y2="720.6" stroke="#F88080" stroke-width="1.8" stroke-linecap="butt"/>
<polygon points="486.7,720.6 480.9,723.6 480.9,717.6" fill="#F88080"/>
<line x1="437.8" y1="720.6" x2="408.5" y2="682.6" stroke="#2BC28C" stroke-width="2.2" stroke-linecap="butt"/>
<polygon points="407,680.6 411.79,682.72 407.82,685.77" fill="#2BC28C"/>
<line x1="405.8" y1="680.1" x2="382.5" y2="651" stroke="#67A23A" stroke-width="1.9" stroke-linecap="butt"/>
<polyline points="387.31,652.53 382.5,651 382.94,656.03" fill="none" stroke="#67A23A" stroke-width="1.9" stroke-linejoin="round"/>
<line x1="437.8" y1="720.6" x2="474.7" y2="652.7" stroke="#4872D2" stroke-width="1.8" stroke-linecap="butt"/>
<polyline points="475.21,658.67 474.7,652.7 469.41,655.52" fill="none" stroke="#4872D2" stroke-width="1.8" stroke-linejoin="round"/>
<line x1="437.8" y1="720.6" x2="470.86" y2="682.08" stroke="#7B9AEC" stroke-width="1.5" stroke-linecap="butt"/>
<polygon points="473.5,679 472,685.36 467.45,681.45" fill="#7B9AEC"/>
<line x1="437.8" y1="720.6" x2="486.7" y2="696.5" stroke="#1A98D4" stroke-width="2" stroke-linecap="butt"/>
<polyline points="483.67,701.67 486.7,696.5 480.76,695.75" fill="none" stroke="#1A98D4" stroke-width="2" stroke-linejoin="round"/>
<path d="M474.18,695.76 C474.27,695.73 474.53,695.61 474.72,695.58 C474.91,695.54 475.11,695.53 475.31,695.54 C475.52,695.55 475.73,695.58 475.94,695.64 C476.16,695.7 476.38,695.78 476.6,695.89 C476.82,695.99 477.05,696.12 477.27,696.26 C477.49,696.41 477.71,696.58 477.92,696.76 C478.14,696.95 478.35,697.16 478.55,697.38 C478.76,697.6 478.96,697.84 479.14,698.09 C479.33,698.34 479.51,698.6 479.68,698.88 C479.85,699.15 480.01,699.44 480.15,699.73 C480.29,700.02 480.42,700.32 480.54,700.62 C480.65,700.92 480.75,701.22 480.84,701.52 C480.92,701.83 480.99,702.13 481.04,702.43 C481.09,702.72 481.13,703.02 481.14,703.3 C481.16,703.58 481.16,703.86 481.14,704.13 C481.12,704.39 481.09,704.65 481.04,704.88 C480.98,705.12 480.91,705.35 480.83,705.55 C480.74,705.76 480.64,705.95 480.52,706.12 C480.41,706.29 480.2,706.49 480.13,706.56" fill="none" stroke="#1A98D4" stroke-width="1.5" stroke-linejoin="round" stroke-linecap="round"/>
<polygon points="479.66,706.88 480.31,702.66 483.76,705.69" fill="#1A98D4"/>
<circle cx="405.8" cy="680.1" r="1.9" fill="#000"/>
<circle cx="459" cy="681.4" r="1.9" fill="#000"/>
<circle cx="460.9" cy="693.6" r="1.9" fill="#000"/>
<circle cx="471.9" cy="703.9" r="1.9" fill="#000"/>
<circle cx="460.7" cy="720.6" r="1.9" fill="#000"/>
<text x="369.49" y="645.6" font-size="15.41" fill="#67A23A" font-weight="bold" font-style="normal" textLength="12.61" lengthAdjust="spacingAndGlyphs">M</text>
<text x="382.1" y="651" font-size="14.64" fill="#67A23A" font-weight="bold" font-style="normal" textLength="8" lengthAdjust="spacingAndGlyphs">1</text>
<text x="381.46" y="686.07" font-size="16.09" fill="#2BC28C" font-weight="bold" font-style="normal" textLength="11.23" lengthAdjust="spacingAndGlyphs">H</text>
<text x="392.69" y="691.7" font-size="15.28" fill="#2BC28C" font-weight="bold" font-style="normal" textLength="8.22" lengthAdjust="spacingAndGlyphs">1</text>
<text x="473.66" y="650.7" font-size="15.26" fill="#4872D2" font-weight="bold" font-style="normal" textLength="12.96" lengthAdjust="spacingAndGlyphs">M</text>
<text x="486.62" y="656.04" font-size="14.49" fill="#4872D2" font-weight="bold" font-style="normal" textLength="8.22" lengthAdjust="spacingAndGlyphs">3</text>
<text x="475.95" y="677.62" font-size="16.02" fill="#7B9AEC" font-weight="bold" font-style="normal" textLength="11.31" lengthAdjust="spacingAndGlyphs">H</text>
<text x="487.26" y="683.23" font-size="15.22" fill="#7B9AEC" font-weight="bold" font-style="normal" textLength="8.27" lengthAdjust="spacingAndGlyphs">3</text>
<text x="490.14" y="701.83" font-size="15.4" fill="#1A98D4" font-weight="bold" font-style="normal" textLength="8.23" lengthAdjust="spacingAndGlyphs">τ</text>
<text x="498.37" y="706.14" font-size="13.86" fill="#1A98D4" font-weight="bold" font-style="normal" textLength="9.23" lengthAdjust="spacingAndGlyphs">3</text>
<text x="477.25" y="736.37" font-size="16.09" fill="#F88080" font-weight="bold" font-style="normal" textLength="11.28" lengthAdjust="spacingAndGlyphs">H</text>
<text x="488.54" y="742" font-size="15.28" fill="#F88080" font-weight="bold" font-style="normal" textLength="8.26" lengthAdjust="spacingAndGlyphs">2</text>
<text x="501.11" y="735.57" font-size="14.93" fill="#EE4040" font-weight="bold" font-style="normal" textLength="13.53" lengthAdjust="spacingAndGlyphs">M</text>
<text x="514.64" y="740.8" font-size="14.19" fill="#EE4040" font-weight="bold" font-style="normal" textLength="8.58" lengthAdjust="spacingAndGlyphs">2</text>
<text x="626.03" y="420.31" font-size="19.61" fill="#000" font-weight="normal" font-style="italic" textLength="58.31" lengthAdjust="spacingAndGlyphs" >a&gt;b&gt;c</text>
<polyline points="680,530 679.97,532.94 679.88,535.87 679.74,538.79 679.53,541.68 679.27,544.55 678.96,547.37 678.59,550.14 678.16,552.86 677.68,555.51 677.15,558.1 676.56,560.61 675.93,563.03 675.25,565.37 674.53,567.61 673.76,569.74 672.95,571.76 672.1,573.68 671.22,575.47 670.3,577.13 669.35,578.67 668.37,580.07 667.36,581.34 666.33,582.47 665.28,583.45 664.21,584.29 663.13,584.97 662.03,585.51 660.93,585.89 659.81,586.12 658.7,586.2 657.59,586.12 656.47,585.89 655.37,585.51 654.27,584.97 653.19,584.29 652.12,583.45 651.07,582.47 650.04,581.34 649.03,580.07 648.05,578.67 647.1,577.13 646.18,575.47 645.3,573.68 644.45,571.76 643.64,569.74 642.87,567.61 642.15,565.37 641.47,563.03 640.84,560.61 640.25,558.1 639.72,555.51 639.24,552.86 638.81,550.14 638.44,547.37 638.13,544.55 637.87,541.68 637.66,538.79 637.52,535.87 637.43,532.94 637.4,530 637.43,527.06 637.52,524.13 637.66,521.21 637.87,518.32 638.13,515.45 638.44,512.63 638.81,509.86 639.24,507.14 639.72,504.49 640.25,501.9 640.84,499.39 641.47,496.97 642.15,494.63 642.87,492.39 643.64,490.26 644.45,488.24 645.3,486.32 646.18,484.53 647.1,482.87 648.05,481.33 649.03,479.93 650.04,478.66 651.07,477.53 652.12,476.55 653.19,475.71 654.27,475.03 655.37,474.49 656.47,474.11 657.59,473.88 658.7,473.8 659.81,473.88 660.93,474.11 662.03,474.49 663.13,475.03 664.21,475.71 665.28,476.55 666.33,477.53 667.36,478.66 668.37,479.93 669.35,481.33 670.3,482.87 671.22,484.53 672.1,486.32 672.95,488.24 673.76,490.26 674.53,492.39 675.25,494.63 675.93,496.97 676.56,499.39 677.15,501.9 677.68,504.49 678.16,507.14 678.59,509.86 678.96,512.63 679.27,515.45 679.53,518.32 679.74,521.21 679.88,524.13 679.97,527.06 680,530" fill="none" stroke="#000" stroke-width="1.5" stroke-linejoin="round"/>
<polyline points="657.9,473.8 658.64,473.88 659.38,474.11 660.12,474.49 660.85,475.03 661.58,475.71 662.29,476.55 662.99,477.53 663.68,478.66 664.35,479.93 665,481.33 665.63,482.87 666.25,484.53 666.84,486.32 667.4,488.24 667.94,490.26 668.45,492.39 668.94,494.63 669.39,496.97 669.81,499.39 670.2,501.9 670.55,504.49 670.87,507.14 671.16,509.86 671.41,512.63 671.62,515.45 671.79,518.32 671.93,521.21 672.02,524.13 672.08,527.06 672.1,530 672.08,532.94 672.02,535.87 671.93,538.79 671.79,541.68 671.62,544.55 671.41,547.37 671.16,550.14 670.87,552.86 670.55,555.51 670.2,558.1 669.81,560.61 669.39,563.03 668.94,565.37 668.45,567.61 667.94,569.74 667.4,571.76 666.84,573.68 666.25,575.47 665.63,577.13 665,578.67 664.35,580.07 663.68,581.34 662.99,582.47 662.29,583.45 661.58,584.29 660.85,584.97 660.12,585.51 659.38,585.89 658.64,586.12 657.9,586.2" fill="none" stroke="#000" stroke-width="1.2" stroke-linejoin="round"/>
<polyline points="657.9,586.2 657.22,586.12 656.54,585.89 655.87,585.51 655.2,584.97 654.54,584.29 653.88,583.45 653.24,582.47 652.61,581.34 652,580.07 651.4,578.67 650.82,577.13 650.26,575.47 649.72,573.68 649.2,571.76 648.71,569.74 648.24,567.61 647.8,565.37 647.38,563.03 647,560.61 646.64,558.1 646.32,555.51 646.02,552.86 645.76,550.14 645.54,547.37 645.34,544.55 645.18,541.68 645.06,538.79 644.97,535.87 644.92,532.94 644.9,530 644.92,527.06 644.97,524.13 645.06,521.21 645.18,518.32 645.34,515.45 645.54,512.63 645.76,509.86 646.02,507.14 646.32,504.49 646.64,501.9 647,499.39 647.38,496.97 647.8,494.63 648.24,492.39 648.71,490.26 649.2,488.24 649.72,486.32 650.26,484.53 650.82,482.87 651.4,481.33 652,479.93 652.61,478.66 653.24,477.53 653.88,476.55 654.54,475.71 655.2,475.03 655.87,474.49 656.54,474.11 657.22,473.88 657.9,473.8" fill="none" stroke="#000" stroke-width="1.2" stroke-linejoin="round" stroke-dasharray="4 2.6"/>
<path d="M638.7,548.8 C640.2,549.03 643.88,550.9 647.7,550.2 C651.52,549.5 657.43,547.15 661.6,544.6 C665.77,542.05 669.92,538.6 672.7,534.9 C675.48,531.2 677.48,525.63 678.3,522.4 C679.12,519.17 677.72,516.65 677.6,515.5" fill="none" stroke="#000" stroke-width="1.2" stroke-linejoin="round" stroke-linecap="round"/>
<path d="M677.6,515.5 C676.55,515.15 673.97,513.05 671.3,513.4 C668.63,513.75 665.53,515.17 661.6,517.6 C657.67,520.03 651.4,524.43 647.7,528 C644,531.57 640.9,535.53 639.4,539 C637.9,542.47 638.82,547.17 638.7,548.8" fill="none" stroke="#000" stroke-width="1.2" stroke-linejoin="round" stroke-linecap="round" stroke-dasharray="4 2.6"/>
<line x1="657.6" y1="473.9" x2="657.6" y2="463.45" stroke="#000" stroke-width="1.7" stroke-linecap="butt"/>
<polygon points="657.6,459.6 660.4,465.1 654.8,465.1" fill="#000"/>
<line x1="671.6" y1="531.2" x2="710.45" y2="531.2" stroke="#000" stroke-width="1.7" stroke-linecap="butt"/>
<polygon points="714.3,531.2 708.8,534 708.8,528.4" fill="#000"/>
<line x1="638.7" y1="548.7" x2="623.57" y2="563.32" stroke="#000" stroke-width="1.7" stroke-linecap="butt"/>
<polygon points="620.8,566 622.81,560.16 626.7,564.19" fill="#000"/>
<line x1="657.6" y1="531.2" x2="657.6" y2="473.9" stroke="#2CB795" stroke-width="2" stroke-linecap="butt"/>
<line x1="657.6" y1="531.2" x2="671.6" y2="531.2" stroke="#FC7673" stroke-width="2" stroke-linecap="butt"/>
<line x1="657.6" y1="531.2" x2="638.7" y2="548.7" stroke="#6B93E3" stroke-width="2" stroke-linecap="butt"/>
<text x="654.7" y="458.2" font-size="20.25" fill="#000" font-weight="normal" font-style="italic" textLength="8.78" lengthAdjust="spacingAndGlyphs" >x</text>
<text x="716.71" y="537.1" font-size="20.06" fill="#000" font-weight="normal" font-style="italic" textLength="9.24" lengthAdjust="spacingAndGlyphs" >z</text>
<text x="605.11" y="573.91" font-size="20.66" fill="#000" font-weight="normal" font-style="italic" textLength="7.99" lengthAdjust="spacingAndGlyphs" >y</text>
<text x="661.6" y="473.25" font-size="15.52" fill="#2CB795" font-weight="normal" font-style="italic" textLength="7.46" lengthAdjust="spacingAndGlyphs" >a</text>
<text x="671.7" y="541.56" font-size="14.05" fill="#FC7673" font-weight="normal" font-style="italic" textLength="7.67" lengthAdjust="spacingAndGlyphs" >c</text>
<text x="628.31" y="553.77" font-size="13.75" fill="#6B93E3" font-weight="normal" font-style="italic" textLength="7.29" lengthAdjust="spacingAndGlyphs" >b</text>
<polyline points="628.2,718.9 628.17,721.83 628.08,724.74 627.94,727.64 627.73,730.52 627.47,733.37 627.15,736.17 626.77,738.93 626.34,741.64 625.86,744.28 625.32,746.85 624.73,749.35 624.09,751.76 623.41,754.08 622.68,756.3 621.9,758.43 621.09,760.44 620.23,762.34 619.34,764.12 618.41,765.78 617.45,767.31 616.46,768.71 615.44,769.97 614.4,771.09 613.34,772.06 612.26,772.9 611.17,773.58 610.06,774.11 608.95,774.49 607.83,774.72 606.7,774.8 605.57,774.72 604.45,774.49 603.34,774.11 602.23,773.58 601.14,772.9 600.06,772.06 599,771.09 597.96,769.97 596.94,768.71 595.95,767.31 594.99,765.78 594.06,764.12 593.17,762.34 592.31,760.44 591.5,758.43 590.72,756.3 589.99,754.08 589.31,751.76 588.67,749.35 588.08,746.85 587.54,744.28 587.06,741.64 586.63,738.93 586.25,736.17 585.93,733.37 585.67,730.52 585.46,727.64 585.32,724.74 585.23,721.83 585.2,718.9 585.23,715.97 585.32,713.06 585.46,710.16 585.67,707.28 585.93,704.43 586.25,701.63 586.63,698.87 587.06,696.16 587.54,693.52 588.08,690.95 588.67,688.45 589.31,686.04 589.99,683.72 590.72,681.5 591.5,679.37 592.31,677.36 593.17,675.46 594.06,673.68 594.99,672.02 595.95,670.49 596.94,669.09 597.96,667.83 599,666.71 600.06,665.74 601.14,664.9 602.23,664.22 603.34,663.69 604.45,663.31 605.57,663.08 606.7,663 607.83,663.08 608.95,663.31 610.06,663.69 611.17,664.22 612.26,664.9 613.34,665.74 614.4,666.71 615.44,667.83 616.46,669.09 617.45,670.49 618.41,672.02 619.34,673.68 620.23,675.46 621.09,677.36 621.9,679.37 622.68,681.5 623.41,683.72 624.09,686.04 624.73,688.45 625.32,690.95 625.86,693.52 626.34,696.16 626.77,698.87 627.15,701.63 627.47,704.43 627.73,707.28 627.94,710.16 628.08,713.06 628.17,715.97 628.2,718.9" fill="none" stroke="#000" stroke-width="1.5" stroke-linejoin="round"/>
<polyline points="606.5,663 607.26,663.08 608.02,663.31 608.77,663.69 609.51,664.22 610.25,664.9 610.98,665.74 611.7,666.71 612.4,667.83 613.08,669.09 613.75,670.49 614.4,672.02 615.02,673.68 615.63,675.46 616.2,677.36 616.75,679.37 617.28,681.5 617.77,683.72 618.23,686.04 618.66,688.45 619.06,690.95 619.42,693.52 619.75,696.16 620.04,698.87 620.29,701.63 620.51,704.43 620.68,707.28 620.82,710.16 620.92,713.06 620.98,715.97 621,718.9 620.98,721.83 620.92,724.74 620.82,727.64 620.68,730.52 620.51,733.37 620.29,736.17 620.04,738.93 619.75,741.64 619.42,744.28 619.06,746.85 618.66,749.35 618.23,751.76 617.77,754.08 617.28,756.3 616.75,758.43 616.2,760.44 615.63,762.34 615.02,764.12 614.4,765.78 613.75,767.31 613.08,768.71 612.4,769.97 611.7,771.09 610.98,772.06 610.25,772.9 609.51,773.58 608.77,774.11 608.02,774.49 607.26,774.72 606.5,774.8" fill="none" stroke="#000" stroke-width="1.2" stroke-linejoin="round"/>
<polyline points="606.5,774.8 605.82,774.72 605.14,774.49 604.47,774.11 603.8,773.58 603.14,772.9 602.48,772.06 601.84,771.09 601.21,769.97 600.6,768.71 600,767.31 599.42,765.78 598.86,764.12 598.32,762.34 597.8,760.44 597.31,758.43 596.84,756.3 596.4,754.08 595.98,751.76 595.6,749.35 595.24,746.85 594.92,744.28 594.62,741.64 594.36,738.93 594.14,736.17 593.94,733.37 593.78,730.52 593.66,727.64 593.57,724.74 593.52,721.83 593.5,718.9 593.52,715.97 593.57,713.06 593.66,710.16 593.78,707.28 593.94,704.43 594.14,701.63 594.36,698.87 594.62,696.16 594.92,693.52 595.24,690.95 595.6,688.45 595.98,686.04 596.4,683.72 596.84,681.5 597.31,679.37 597.8,677.36 598.32,675.46 598.86,673.68 599.42,672.02 600,670.49 600.6,669.09 601.21,667.83 601.84,666.71 602.48,665.74 603.14,664.9 603.8,664.22 604.47,663.69 605.14,663.31 605.82,663.08 606.5,663" fill="none" stroke="#000" stroke-width="1.2" stroke-linejoin="round" stroke-dasharray="4 2.6"/>
<path d="M586.7,729.6 C587.75,730.92 589.83,736.7 593,737.5 C596.17,738.3 601.47,736.77 605.7,734.4 C609.93,732.03 614.97,727.8 618.4,723.3 C621.83,718.8 624.8,710.87 626.3,707.4 C627.8,703.93 627.22,703.32 627.4,702.5" fill="none" stroke="#000" stroke-width="1.2" stroke-linejoin="round" stroke-linecap="round"/>
<path d="M586.7,729.6 C587.25,728.33 588.42,724.37 590,722 C591.58,719.63 593.32,717.83 596.2,715.4 C599.08,712.97 603.6,709.52 607.3,707.4 C611,705.28 615.05,703.52 618.4,702.7 C621.75,701.88 625.9,702.53 627.4,702.5" fill="none" stroke="#000" stroke-width="1.2" stroke-linejoin="round" stroke-linecap="round" stroke-dasharray="4 2.6"/>
<line x1="606.5" y1="719.8" x2="624" y2="764.5" stroke="#EE4040" stroke-width="1.8" stroke-linecap="butt"/>
<polyline points="619.1,761.05 624,764.5 625.25,758.64" fill="none" stroke="#EE4040" stroke-width="1.8" stroke-linejoin="round"/>
<line x1="606.5" y1="719.8" x2="635.7" y2="740.73" stroke="#F88080" stroke-width="1.8" stroke-linecap="butt"/>
<polygon points="639,743.1 632.54,742.16 636.03,737.28" fill="#F88080"/>
<line x1="606.5" y1="719.8" x2="583.63" y2="689.25" stroke="#2BC28C" stroke-width="2" stroke-linecap="butt"/>
<polygon points="581.2,686 587.08,688.85 582.27,692.44" fill="#2BC28C"/>
<line x1="606.5" y1="719.8" x2="583.5" y2="660.7" stroke="#67A23A" stroke-width="1.8" stroke-linecap="butt"/>
<polyline points="588.39,664.16 583.5,660.7 582.24,666.56" fill="none" stroke="#67A23A" stroke-width="1.8" stroke-linejoin="round"/>
<line x1="606.5" y1="719.8" x2="628.7" y2="658.3" stroke="#4872D2" stroke-width="1.8" stroke-linecap="butt"/>
<polyline points="630.11,664.12 628.7,658.3 623.9,661.88" fill="none" stroke="#4872D2" stroke-width="1.8" stroke-linejoin="round"/>
<line x1="606.5" y1="719.8" x2="630.57" y2="680.76" stroke="#7B9AEC" stroke-width="1.5" stroke-linecap="butt"/>
<polygon points="632.7,677.3 632.21,683.81 627.1,680.66" fill="#7B9AEC"/>
<line x1="606.5" y1="719.8" x2="637.4" y2="697.1" stroke="#1A98D4" stroke-width="2" stroke-linecap="butt"/>
<polyline points="635.32,702.72 637.4,697.1 631.42,697.4" fill="none" stroke="#1A98D4" stroke-width="2" stroke-linejoin="round"/>
<line x1="606.5" y1="719.8" x2="642.2" y2="723.3" stroke="#7CBF48" stroke-width="2" stroke-linecap="butt"/>
<polyline points="636.9,726.1 642.2,723.3 637.55,719.53" fill="none" stroke="#7CBF48" stroke-width="2" stroke-linejoin="round"/>
<line x1="606.5" y1="719.8" x2="606.5" y2="649.6" stroke="#EE4040" stroke-width="1.6" stroke-linecap="butt"/>
<polyline points="609.8,654.6 606.5,649.6 603.2,654.6" fill="none" stroke="#EE4040" stroke-width="1.6" stroke-linejoin="round"/>
<path d="M600.3,654.51 C600.31,654.61 600.33,654.89 600.38,655.08 C600.43,655.26 600.5,655.45 600.6,655.63 C600.7,655.8 600.83,655.98 600.98,656.15 C601.12,656.32 601.29,656.48 601.48,656.63 C601.67,656.78 601.89,656.93 602.12,657.06 C602.34,657.19 602.59,657.32 602.86,657.43 C603.12,657.54 603.4,657.64 603.69,657.72 C603.97,657.81 604.28,657.88 604.58,657.94 C604.89,658 605.21,658.04 605.53,658.07 C605.85,658.1 606.18,658.11 606.5,658.11 C606.82,658.11 607.15,658.1 607.47,658.07 C607.79,658.04 608.11,658 608.42,657.94 C608.72,657.88 609.03,657.81 609.31,657.72 C609.6,657.64 609.88,657.54 610.14,657.43 C610.41,657.32 610.66,657.19 610.88,657.06 C611.11,656.93 611.33,656.78 611.52,656.63 C611.71,656.48 611.88,656.32 612.02,656.15 C612.17,655.98 612.3,655.8 612.4,655.63 C612.5,655.45 612.59,655.17 612.62,655.08" fill="none" stroke="#EE4040" stroke-width="1.5" stroke-linejoin="round" stroke-linecap="round"/>
<polygon points="612.7,654.51 613.45,658.72 609.2,656.96" fill="#EE4040"/>
<path d="M629.09,695.51 C629.18,695.46 629.41,695.31 629.59,695.24 C629.77,695.17 629.97,695.12 630.17,695.09 C630.37,695.07 630.59,695.07 630.81,695.09 C631.03,695.1 631.27,695.15 631.5,695.21 C631.74,695.27 631.98,695.36 632.22,695.46 C632.46,695.57 632.71,695.7 632.95,695.84 C633.2,695.99 633.44,696.16 633.68,696.34 C633.92,696.52 634.16,696.72 634.39,696.93 C634.62,697.15 634.84,697.38 635.06,697.62 C635.27,697.86 635.47,698.11 635.67,698.37 C635.86,698.63 636.04,698.91 636.2,699.18 C636.37,699.46 636.52,699.74 636.66,700.02 C636.79,700.3 636.91,700.59 637.02,700.87 C637.12,701.16 637.2,701.44 637.27,701.72 C637.34,701.99 637.38,702.27 637.41,702.53 C637.44,702.79 637.45,703.05 637.44,703.29 C637.43,703.54 637.4,703.77 637.35,703.99 C637.3,704.21 637.24,704.41 637.15,704.6 C637.07,704.78 636.9,705.02 636.84,705.11" fill="none" stroke="#1A98D4" stroke-width="1.5" stroke-linejoin="round" stroke-linecap="round"/>
<polygon points="636.44,705.5 636.34,701.23 640.27,703.62" fill="#1A98D4"/>
<path d="M634.95,716.36 C635.04,716.38 635.32,716.42 635.5,716.49 C635.68,716.56 635.86,716.65 636.03,716.77 C636.2,716.89 636.36,717.03 636.51,717.19 C636.66,717.35 636.81,717.54 636.94,717.74 C637.07,717.95 637.2,718.17 637.31,718.42 C637.42,718.66 637.52,718.92 637.6,719.19 C637.68,719.46 637.76,719.75 637.81,720.04 C637.87,720.34 637.91,720.65 637.94,720.96 C637.97,721.27 637.98,721.59 637.98,721.91 C637.98,722.23 637.96,722.56 637.93,722.88 C637.9,723.2 637.85,723.53 637.79,723.84 C637.73,724.16 637.65,724.47 637.57,724.77 C637.48,725.07 637.38,725.37 637.26,725.64 C637.15,725.92 637.02,726.19 636.89,726.44 C636.75,726.69 636.61,726.93 636.45,727.14 C636.3,727.36 636.13,727.55 635.96,727.73 C635.79,727.9 635.61,728.06 635.43,728.19 C635.25,728.32 635.07,728.42 634.88,728.51 C634.69,728.59 634.4,728.65 634.31,728.68" fill="none" stroke="#7CBF48" stroke-width="1.5" stroke-linejoin="round" stroke-linecap="round"/>
<polygon points="633.74,728.7 636.52,725.45 637.85,729.86" fill="#7CBF48"/>
<circle cx="606" cy="663" r="1.9" fill="#000"/>
<circle cx="591.1" cy="680.5" r="1.9" fill="#000"/>
<circle cx="587.5" cy="694.4" r="1.9" fill="#000"/>
<circle cx="617.6" cy="687.6" r="1.9" fill="#000"/>
<circle cx="618.7" cy="699.5" r="1.9" fill="#000"/>
<circle cx="626.7" cy="705" r="1.9" fill="#000"/>
<circle cx="619.7" cy="721.4" r="1.9" fill="#000"/>
<circle cx="615.2" cy="726.5" r="1.9" fill="#000"/>
<circle cx="610.5" cy="731.2" r="1.9" fill="#000"/>
<text x="599.24" y="640.65" font-size="17.69" fill="#EE4040" font-weight="bold" font-style="normal" textLength="8.21" lengthAdjust="spacingAndGlyphs">τ</text>
<text x="607.45" y="645.6" font-size="15.92" fill="#EE4040" font-weight="bold" font-style="normal" textLength="9.21" lengthAdjust="spacingAndGlyphs">2</text>
<text x="563.54" y="658.21" font-size="13.68" fill="#67A23A" font-weight="bold" font-style="normal" textLength="11.96" lengthAdjust="spacingAndGlyphs">M</text>
<text x="575.5" y="663" font-size="13" fill="#67A23A" font-weight="bold" font-style="normal" textLength="7.58" lengthAdjust="spacingAndGlyphs">1</text>
<text x="562.73" y="683.01" font-size="13.1" fill="#2BC28C" font-weight="bold" font-style="normal" textLength="10.42" lengthAdjust="spacingAndGlyphs">H</text>
<text x="573.16" y="687.6" font-size="12.45" fill="#2BC28C" font-weight="bold" font-style="normal" textLength="7.62" lengthAdjust="spacingAndGlyphs">1</text>
<text x="628.41" y="658.12" font-size="13.54" fill="#4872D2" font-weight="bold" font-style="normal" textLength="13.62" lengthAdjust="spacingAndGlyphs">M</text>
<text x="642.02" y="662.86" font-size="12.86" fill="#4872D2" font-weight="bold" font-style="normal" textLength="8.64" lengthAdjust="spacingAndGlyphs">3</text>
<text x="633.98" y="681.02" font-size="16.02" fill="#7B9AEC" font-weight="bold" font-style="normal" textLength="11" lengthAdjust="spacingAndGlyphs">H</text>
<text x="644.98" y="686.63" font-size="15.22" fill="#7B9AEC" font-weight="bold" font-style="normal" textLength="8.04" lengthAdjust="spacingAndGlyphs">3</text>
<text x="638.83" y="701.85" font-size="16.37" fill="#1A98D4" font-weight="bold" font-style="normal" textLength="8.62" lengthAdjust="spacingAndGlyphs">τ</text>
<text x="647.46" y="706.43" font-size="14.74" fill="#1A98D4" font-weight="bold" font-style="normal" textLength="9.67" lengthAdjust="spacingAndGlyphs">3</text>
<text x="646.83" y="727.85" font-size="17.69" fill="#7CBF48" font-weight="bold" font-style="normal" textLength="8.51" lengthAdjust="spacingAndGlyphs">τ</text>
<text x="655.34" y="732.8" font-size="15.92" fill="#7CBF48" font-weight="bold" font-style="normal" textLength="9.54" lengthAdjust="spacingAndGlyphs">1</text>
<text x="640.34" y="748.31" font-size="14.55" fill="#F88080" font-weight="bold" font-style="normal" textLength="11.47" lengthAdjust="spacingAndGlyphs">H</text>
<text x="651.81" y="753.4" font-size="13.82" fill="#F88080" font-weight="bold" font-style="normal" textLength="8.39" lengthAdjust="spacingAndGlyphs">2</text>
<text x="622.15" y="777.1" font-size="15.99" fill="#EE4040" font-weight="bold" font-style="normal" textLength="13.13" lengthAdjust="spacingAndGlyphs">M</text>
<text x="635.27" y="782.7" font-size="15.19" fill="#EE4040" font-weight="bold" font-style="normal" textLength="8.33" lengthAdjust="spacingAndGlyphs">2</text>
<polyline points="741.8,719 741.77,721.93 741.68,724.85 741.53,727.76 741.33,730.64 741.06,733.49 740.74,736.3 740.36,739.07 739.92,741.78 739.43,744.42 738.89,747 738.3,749.5 737.66,751.92 736.96,754.24 736.23,756.47 735.44,758.6 734.62,760.62 733.76,762.52 732.85,764.3 731.92,765.97 730.95,767.5 729.95,768.9 728.93,770.16 727.88,771.28 726.81,772.26 725.72,773.09 724.61,773.78 723.49,774.31 722.37,774.69 721.24,774.92 720.1,775 718.96,774.92 717.83,774.69 716.71,774.31 715.59,773.78 714.48,773.09 713.39,772.26 712.32,771.28 711.27,770.16 710.25,768.9 709.25,767.5 708.28,765.97 707.35,764.3 706.44,762.52 705.58,760.62 704.76,758.6 703.97,756.47 703.24,754.24 702.54,751.92 701.9,749.5 701.31,747 700.77,744.42 700.28,741.78 699.84,739.07 699.46,736.3 699.14,733.49 698.87,730.64 698.67,727.76 698.52,724.85 698.43,721.93 698.4,719 698.43,716.07 698.52,713.15 698.67,710.24 698.87,707.36 699.14,704.51 699.46,701.7 699.84,698.93 700.28,696.22 700.77,693.58 701.31,691 701.9,688.5 702.54,686.08 703.24,683.76 703.97,681.53 704.76,679.4 705.58,677.38 706.44,675.48 707.35,673.7 708.28,672.03 709.25,670.5 710.25,669.1 711.27,667.84 712.32,666.72 713.39,665.74 714.48,664.91 715.59,664.22 716.71,663.69 717.83,663.31 718.96,663.08 720.1,663 721.24,663.08 722.37,663.31 723.49,663.69 724.61,664.22 725.72,664.91 726.81,665.74 727.88,666.72 728.93,667.84 729.95,669.1 730.95,670.5 731.92,672.03 732.85,673.7 733.76,675.48 734.62,677.38 735.44,679.4 736.23,681.53 736.96,683.76 737.66,686.08 738.3,688.5 738.89,691 739.43,693.58 739.92,696.22 740.36,698.93 740.74,701.7 741.06,704.51 741.33,707.36 741.53,710.24 741.68,713.15 741.77,716.07 741.8,719" fill="none" stroke="#000" stroke-width="1.5" stroke-linejoin="round"/>
<polyline points="720,663 720.72,663.08 721.43,663.31 722.14,663.69 722.85,664.22 723.55,664.91 724.23,665.74 724.91,666.72 725.57,667.84 726.22,669.1 726.85,670.5 727.46,672.03 728.05,673.7 728.62,675.48 729.17,677.38 729.69,679.4 730.18,681.53 730.65,683.76 731.08,686.08 731.49,688.5 731.86,691 732.21,693.58 732.52,696.22 732.79,698.93 733.03,701.7 733.23,704.51 733.4,707.36 733.53,710.24 733.62,713.15 733.68,716.07 733.7,719 733.68,721.93 733.62,724.85 733.53,727.76 733.4,730.64 733.23,733.49 733.03,736.3 732.79,739.07 732.52,741.78 732.21,744.42 731.86,747 731.49,749.5 731.08,751.92 730.65,754.24 730.18,756.47 729.69,758.6 729.17,760.62 728.62,762.52 728.05,764.3 727.46,765.97 726.85,767.5 726.22,768.9 725.57,770.16 724.91,771.28 724.23,772.26 723.55,773.09 722.85,773.78 722.14,774.31 721.43,774.69 720.72,774.92 720,775" fill="none" stroke="#000" stroke-width="1.2" stroke-linejoin="round"/>
<polyline points="720,775 719.31,774.92 718.62,774.69 717.94,774.31 717.26,773.78 716.58,773.09 715.92,772.26 715.27,771.28 714.63,770.16 714.01,768.9 713.4,767.5 712.81,765.97 712.24,764.3 711.69,762.52 711.17,760.62 710.67,758.6 710.19,756.47 709.74,754.24 709.32,751.92 708.93,749.5 708.57,747 708.24,744.42 707.94,741.78 707.68,739.07 707.45,736.3 707.25,733.49 707.09,730.64 706.96,727.76 706.87,724.85 706.82,721.93 706.8,719 706.82,716.07 706.87,713.15 706.96,710.24 707.09,707.36 707.25,704.51 707.45,701.7 707.68,698.93 707.94,696.22 708.24,693.58 708.57,691 708.93,688.5 709.32,686.08 709.74,683.76 710.19,681.53 710.67,679.4 711.17,677.38 711.69,675.48 712.24,673.7 712.81,672.03 713.4,670.5 714.01,669.1 714.63,667.84 715.27,666.72 715.92,665.74 716.58,664.91 717.26,664.22 717.94,663.69 718.62,663.31 719.31,663.08 720,663" fill="none" stroke="#000" stroke-width="1.2" stroke-linejoin="round" stroke-dasharray="4 2.6"/>
<path d="M700.8,737.7 C702.12,737.95 704.98,739.92 708.7,739.2 C712.42,738.48 718.78,736.05 723.1,733.4 C727.42,730.75 731.85,727.37 734.6,723.3 C737.35,719.23 738.88,712.35 739.6,709 C740.32,705.65 739.02,704.17 738.9,703.2" fill="none" stroke="#000" stroke-width="1.2" stroke-linejoin="round" stroke-linecap="round"/>
<path d="M700.8,737.7 C700.93,736.03 699.8,731.53 701.6,727.7 C703.4,723.87 708.02,718.3 711.6,714.7 C715.18,711.1 719.5,708.13 723.1,706.1 C726.7,704.07 730.57,702.98 733.2,702.5 C735.83,702.02 737.95,703.08 738.9,703.2" fill="none" stroke="#000" stroke-width="1.2" stroke-linejoin="round" stroke-linecap="round" stroke-dasharray="4 2.6"/>
<line x1="719.5" y1="718.7" x2="703" y2="674.2" stroke="#4872D2" stroke-width="1.8" stroke-linecap="butt"/>
<polyline points="707.83,677.74 703,674.2 701.64,680.04" fill="none" stroke="#4872D2" stroke-width="1.8" stroke-linejoin="round"/>
<line x1="719.5" y1="718.7" x2="706.02" y2="699.33" stroke="#7B9AEC" stroke-width="1.5" stroke-linecap="butt"/>
<polygon points="703.7,696 709.48,699.05 704.55,702.47" fill="#7B9AEC"/>
<line x1="719.5" y1="718.7" x2="759" y2="698.2" stroke="#1A98D4" stroke-width="2" stroke-linecap="butt"/>
<polyline points="756.08,703.43 759,698.2 753.04,697.57" fill="none" stroke="#1A98D4" stroke-width="2" stroke-linejoin="round"/>
<path d="M745.48,698.23 C745.57,698.2 745.83,698.08 746.01,698.04 C746.2,698 746.4,697.98 746.61,697.99 C746.81,698 747.02,698.03 747.24,698.08 C747.46,698.13 747.68,698.21 747.9,698.31 C748.12,698.41 748.35,698.53 748.57,698.67 C748.8,698.81 749.02,698.98 749.24,699.16 C749.46,699.34 749.68,699.54 749.89,699.76 C750.09,699.98 750.3,700.21 750.49,700.46 C750.68,700.7 750.87,700.97 751.04,701.24 C751.22,701.51 751.38,701.79 751.53,702.08 C751.68,702.36 751.82,702.66 751.94,702.96 C752.06,703.25 752.17,703.56 752.26,703.86 C752.35,704.16 752.42,704.46 752.48,704.76 C752.54,705.05 752.58,705.35 752.6,705.63 C752.62,705.91 752.63,706.19 752.61,706.45 C752.6,706.72 752.57,706.97 752.52,707.21 C752.48,707.45 752.41,707.68 752.33,707.89 C752.25,708.09 752.15,708.29 752.04,708.46 C751.93,708.63 751.72,708.84 751.66,708.91" fill="none" stroke="#1A98D4" stroke-width="1.5" stroke-linejoin="round" stroke-linecap="round"/>
<polygon points="751.19,709.24 751.75,705 755.27,707.97" fill="#1A98D4"/>
<circle cx="710.9" cy="696.8" r="1.9" fill="#000"/>
<circle cx="712.3" cy="709.4" r="1.9" fill="#000"/>
<circle cx="735.8" cy="710.7" r="1.9" fill="#000"/>
<text x="686.86" y="665.34" font-size="15.9" fill="#4872D2" font-weight="bold" font-style="normal" textLength="12.99" lengthAdjust="spacingAndGlyphs">M</text>
<text x="699.84" y="670.9" font-size="15.1" fill="#4872D2" font-weight="bold" font-style="normal" textLength="8.24" lengthAdjust="spacingAndGlyphs">4</text>
<text x="682.58" y="701.47" font-size="15.22" fill="#7B9AEC" font-weight="bold" font-style="normal" textLength="11.03" lengthAdjust="spacingAndGlyphs">H</text>
<text x="693.61" y="706.8" font-size="14.46" fill="#7B9AEC" font-weight="bold" font-style="normal" textLength="8.07" lengthAdjust="spacingAndGlyphs">4</text>
<text x="750.24" y="691.53" font-size="15.96" fill="#1A98D4" font-weight="bold" font-style="normal" textLength="7.94" lengthAdjust="spacingAndGlyphs">τ</text>
<text x="758.18" y="696" font-size="14.36" fill="#1A98D4" font-weight="bold" font-style="normal" textLength="8.9" lengthAdjust="spacingAndGlyphs">4</text>
<polyline points="33.7,974.2 35.96,972.69 38.22,971.17 40.48,969.66 42.74,968.14 44.99,966.63 47.25,965.11 49.51,963.59 51.77,962.07 54.03,960.55 56.29,959.03 58.55,957.51 60.81,955.98 63.07,954.45 65.32,952.92 67.58,951.39 69.84,949.86 72.1,948.32 74.36,946.78 76.62,945.24 78.88,943.69 81.14,942.14 83.4,940.59 85.65,939.03 87.91,937.47 90.17,935.9 92.43,934.33 94.69,932.76 96.95,931.18 99.21,929.6 101.47,928.01 103.73,926.42 105.98,924.82 108.24,923.22 110.5,921.61 112.76,920 115.02,918.38 117.28,916.76 119.54,915.13 121.8,913.5 124.06,911.86 126.31,910.21 128.57,908.56 130.83,906.9 133.09,905.24 135.35,903.57 137.61,901.89 139.87,900.21 142.13,898.52 144.39,896.83 146.64,895.13 148.9,893.42 151.16,891.71 153.42,889.99 155.68,888.26 157.94,886.53 160.2,884.79 162.46,883.05 164.72,881.29 166.97,879.54 169.23,877.78 171.49,876.01 173.75,874.23 176.01,872.45 178.27,870.67 180.53,868.88 182.79,867.08 185.05,865.28 187.3,863.47 189.56,861.66 191.82,859.84 194.08,858.02 196.34,856.19 198.6,854.36 200.86,852.53 203.12,850.69 205.38,848.85 207.63,847 209.89,845.15 212.15,843.3 214.41,841.45 216.67,839.59 218.93,837.73 221.19,835.87 223.45,834.01 225.71,832.14 227.96,830.27 230.22,828.41 232.48,826.54 234.29,825.04" fill="none" stroke="#F47171" stroke-width="1.5" stroke-linejoin="round"/>
<polyline points="33.7,974.2 35.96,973.46 38.22,972.72 40.48,971.98 42.74,971.24 44.99,970.49 47.25,969.75 49.51,969 51.77,968.25 54.03,967.49 56.29,966.74 58.55,965.98 60.81,965.21 63.07,964.44 65.32,963.67 67.58,962.89 69.84,962.1 72.1,961.31 74.36,960.51 76.62,959.71 78.88,958.89 81.14,958.07 83.4,957.24 85.65,956.4 87.91,955.55 90.17,954.7 92.43,953.82 94.69,952.94 96.95,952.05 99.21,951.14 101.47,950.22 103.73,949.29 105.98,948.34 108.24,947.37 110.5,946.39 112.76,945.39 115.02,944.38 117.28,943.34 119.54,942.29 121.8,941.21 124.06,940.11 126.31,938.99 128.57,937.84 130.83,936.67 133.09,935.47 135.35,934.25 137.61,932.99 139.87,931.71 142.13,930.39 144.39,929.04 146.64,927.65 148.9,926.23 151.16,924.76 153.42,923.26 155.68,921.72 157.94,920.13 160.2,918.49 162.46,916.8 164.72,915.07 166.97,913.28 169.23,911.43 171.49,909.53 173.75,907.57 176.01,905.54 178.27,903.45 180.53,901.3 182.79,899.07 185.05,896.77 187.3,894.39 189.56,891.94 191.82,889.41 194.08,886.8 196.34,884.11 198.6,881.33 200.86,878.47 203.12,875.52 205.38,872.49 207.63,869.37 209.89,866.18 212.15,862.9 214.41,859.54 216.67,856.1 218.93,852.6 221.19,849.03 223.45,845.4 225.71,841.72 227.96,837.99 230.22,834.23 232.48,830.43 234.29,827.39" fill="none" stroke="#6E90E6" stroke-width="1.5" stroke-linejoin="round"/>
<polyline points="33.7,974.2 35.96,974.03 38.22,973.86 40.48,973.69 42.74,973.53 44.99,973.36 47.25,973.19 49.51,973.02 51.77,972.85 54.03,972.67 56.29,972.5 58.55,972.33 60.81,972.15 63.07,971.98 65.32,971.8 67.58,971.62 69.84,971.44 72.1,971.25 74.36,971.07 76.62,970.88 78.88,970.69 81.14,970.5 83.4,970.31 85.65,970.11 87.91,969.91 90.17,969.71 92.43,969.5 94.69,969.29 96.95,969.08 99.21,968.86 101.47,968.64 103.73,968.42 105.98,968.19 108.24,967.95 110.5,967.71 112.76,967.46 115.02,967.21 117.28,966.95 119.54,966.68 121.8,966.41 124.06,966.13 126.31,965.84 128.57,965.54 130.83,965.24 133.09,964.92 135.35,964.59 137.61,964.25 139.87,963.9 142.13,963.54 144.39,963.16 146.64,962.77 148.9,962.36 151.16,961.93 153.42,961.48 155.68,961.02 157.94,960.53 160.2,960.01 162.46,959.47 164.72,958.9 166.97,958.3 169.23,957.67 171.49,957 173.75,956.28 176.01,955.52 178.27,954.71 180.53,953.84 182.79,952.91 185.05,951.9 187.3,950.81 189.56,949.64 191.82,948.36 194.08,946.96 196.34,945.42 198.6,943.73 200.86,941.86 203.12,939.77 205.38,937.44 207.63,934.8 209.89,931.82 212.15,928.4 214.41,924.48 216.67,919.92 218.93,914.59 221.19,908.32 223.45,900.9 225.71,892.08 227.96,881.62 230.22,869.33 232.48,855.18 234.29,842.7" fill="none" stroke="#2EC385" stroke-width="1.5" stroke-linejoin="round"/>
<rect x="33.7" y="822.8" width="203.3" height="151.4" fill="none" stroke="#7A7A7A" stroke-width="1"/>
<text x="33.7" y="987.9" font-size="10.5" fill="#2b2b2b" font-weight="normal" font-style="normal" text-anchor="middle" >0</text>
<line x1="67.58" y1="974.2" x2="67.58" y2="972" stroke="#7A7A7A" stroke-width="0.9" stroke-linecap="butt"/>
<line x1="67.58" y1="822.8" x2="67.58" y2="825" stroke="#7A7A7A" stroke-width="0.9" stroke-linecap="butt"/>
<line x1="33.7" y1="948.97" x2="35.9" y2="948.97" stroke="#7A7A7A" stroke-width="0.9" stroke-linecap="butt"/>
<line x1="237" y1="948.97" x2="234.8" y2="948.97" stroke="#7A7A7A" stroke-width="0.9" stroke-linecap="butt"/>
<text x="67.58" y="987.9" font-size="10.5" fill="#2b2b2b" font-weight="normal" font-style="normal" text-anchor="middle" >15</text>
<text x="30" y="952.67" font-size="10.5" fill="#2b2b2b" font-weight="normal" font-style="normal" text-anchor="end" >15</text>
<line x1="101.47" y1="974.2" x2="101.47" y2="972" stroke="#7A7A7A" stroke-width="0.9" stroke-linecap="butt"/>
<line x1="101.47" y1="822.8" x2="101.47" y2="825" stroke="#7A7A7A" stroke-width="0.9" stroke-linecap="butt"/>
<line x1="33.7" y1="923.73" x2="35.9" y2="923.73" stroke="#7A7A7A" stroke-width="0.9" stroke-linecap="butt"/>
<line x1="237" y1="923.73" x2="234.8" y2="923.73" stroke="#7A7A7A" stroke-width="0.9" stroke-linecap="butt"/>
<text x="101.47" y="987.9" font-size="10.5" fill="#2b2b2b" font-weight="normal" font-style="normal" text-anchor="middle" >30</text>
<text x="30" y="927.43" font-size="10.5" fill="#2b2b2b" font-weight="normal" font-style="normal" text-anchor="end" >30</text>
<line x1="135.35" y1="974.2" x2="135.35" y2="972" stroke="#7A7A7A" stroke-width="0.9" stroke-linecap="butt"/>
<line x1="135.35" y1="822.8" x2="135.35" y2="825" stroke="#7A7A7A" stroke-width="0.9" stroke-linecap="butt"/>
<line x1="33.7" y1="898.5" x2="35.9" y2="898.5" stroke="#7A7A7A" stroke-width="0.9" stroke-linecap="butt"/>
<line x1="237" y1="898.5" x2="234.8" y2="898.5" stroke="#7A7A7A" stroke-width="0.9" stroke-linecap="butt"/>
<text x="135.35" y="987.9" font-size="10.5" fill="#2b2b2b" font-weight="normal" font-style="normal" text-anchor="middle" >45</text>
<text x="30" y="902.2" font-size="10.5" fill="#2b2b2b" font-weight="normal" font-style="normal" text-anchor="end" >45</text>
<line x1="169.23" y1="974.2" x2="169.23" y2="972" stroke="#7A7A7A" stroke-width="0.9" stroke-linecap="butt"/>
<line x1="169.23" y1="822.8" x2="169.23" y2="825" stroke="#7A7A7A" stroke-width="0.9" stroke-linecap="butt"/>
<line x1="33.7" y1="873.27" x2="35.9" y2="873.27" stroke="#7A7A7A" stroke-width="0.9" stroke-linecap="butt"/>
<line x1="237" y1="873.27" x2="234.8" y2="873.27" stroke="#7A7A7A" stroke-width="0.9" stroke-linecap="butt"/>
<text x="169.23" y="987.9" font-size="10.5" fill="#2b2b2b" font-weight="normal" font-style="normal" text-anchor="middle" >60</text>
<text x="30" y="876.97" font-size="10.5" fill="#2b2b2b" font-weight="normal" font-style="normal" text-anchor="end" >60</text>
<line x1="203.12" y1="974.2" x2="203.12" y2="972" stroke="#7A7A7A" stroke-width="0.9" stroke-linecap="butt"/>
<line x1="203.12" y1="822.8" x2="203.12" y2="825" stroke="#7A7A7A" stroke-width="0.9" stroke-linecap="butt"/>
<line x1="33.7" y1="848.03" x2="35.9" y2="848.03" stroke="#7A7A7A" stroke-width="0.9" stroke-linecap="butt"/>
<line x1="237" y1="848.03" x2="234.8" y2="848.03" stroke="#7A7A7A" stroke-width="0.9" stroke-linecap="butt"/>
<text x="203.12" y="987.9" font-size="10.5" fill="#2b2b2b" font-weight="normal" font-style="normal" text-anchor="middle" >75</text>
<text x="30" y="851.73" font-size="10.5" fill="#2b2b2b" font-weight="normal" font-style="normal" text-anchor="end" >75</text>
<text x="237" y="987.9" font-size="10.5" fill="#2b2b2b" font-weight="normal" font-style="normal" text-anchor="middle" >90</text>
<text x="30" y="826.5" font-size="10.5" fill="#2b2b2b" font-weight="normal" font-style="normal" text-anchor="end" >90</text>
<text x="120.95" y="1001.48" font-size="12.53" fill="#2b2b2b" font-weight="normal" font-style="italic" textLength="7.17" lengthAdjust="spacingAndGlyphs" >θ</text>
<text x="133.87" y="1000.64" font-size="11.38" fill="#2b2b2b" font-weight="normal" font-style="normal" textLength="14.26" lengthAdjust="spacingAndGlyphs" >(°)</text>
<text x="-910.2" y="14.3" font-size="11" fill="#2b2b2b" textLength="22.4" lengthAdjust="spacingAndGlyphs" transform="rotate(-90)"><tspan font-style="italic">α</tspan>  (°)</text>
<line x1="40.3" y1="837.4" x2="59" y2="837.4" stroke="#2EC385" stroke-width="1.5" stroke-linecap="butt"/>
<text x="60.6" y="840.7" font-size="10.8" fill="#2b2b2b" font-weight="normal" font-style="normal" text-anchor="start" textLength="53.7" lengthAdjust="spacingAndGlyphs"><tspan font-style="italic">n</tspan><tspan font-style="italic" font-size="9" dy="3.6">b</tspan><tspan dy="-3.6">/</tspan><tspan font-style="italic">n</tspan><tspan font-style="italic" font-size="9" dy="3.6">c</tspan><tspan dy="-3.6">=</tspan>0.10</text>
<line x1="40.3" y1="856.6" x2="59" y2="856.6" stroke="#6E90E6" stroke-width="1.5" stroke-linecap="butt"/>
<text x="60.6" y="859.9" font-size="10.8" fill="#2b2b2b" font-weight="normal" font-style="normal" text-anchor="start" textLength="53.7" lengthAdjust="spacingAndGlyphs"><tspan font-style="italic">n</tspan><tspan font-style="italic" font-size="9" dy="3.6">b</tspan><tspan dy="-3.6">/</tspan><tspan font-style="italic">n</tspan><tspan font-style="italic" font-size="9" dy="3.6">c</tspan><tspan dy="-3.6">=</tspan>0.44</text>
<line x1="40.3" y1="875.8" x2="59" y2="875.8" stroke="#F47171" stroke-width="1.5" stroke-linecap="butt"/>
<text x="60.6" y="879.1" font-size="10.8" fill="#2b2b2b" font-weight="normal" font-style="normal" text-anchor="start" textLength="53.7" lengthAdjust="spacingAndGlyphs"><tspan font-style="italic">n</tspan><tspan font-style="italic" font-size="9" dy="3.6">b</tspan><tspan dy="-3.6">/</tspan><tspan font-style="italic">n</tspan><tspan font-style="italic" font-size="9" dy="3.6">c</tspan><tspan dy="-3.6">=</tspan>0.90</text>
<line x1="310.73" y1="926.53" x2="310.73" y2="842.93" stroke="#E4E4E4" stroke-width="0.8" stroke-linecap="butt"/>
<line x1="430.33" y1="932.33" x2="430.33" y2="848.73" stroke="#E4E4E4" stroke-width="0.8" stroke-linecap="butt"/>
<line x1="276.8" y1="908.73" x2="378.6" y2="878.53" stroke="#E4E4E4" stroke-width="0.8" stroke-linecap="butt"/>
<line x1="456.2" y1="917.43" x2="378.6" y2="878.53" stroke="#E4E4E4" stroke-width="0.8" stroke-linecap="butt"/>
<line x1="328.53" y1="962.53" x2="430.33" y2="932.33" stroke="#E4E4E4" stroke-width="0.8" stroke-linecap="butt"/>
<line x1="388.33" y1="965.43" x2="310.73" y2="926.53" stroke="#E4E4E4" stroke-width="0.8" stroke-linecap="butt"/>
<line x1="344.67" y1="916.47" x2="344.67" y2="832.87" stroke="#E4E4E4" stroke-width="0.8" stroke-linecap="butt"/>
<line x1="404.47" y1="919.37" x2="404.47" y2="835.77" stroke="#E4E4E4" stroke-width="0.8" stroke-linecap="butt"/>
<line x1="276.8" y1="880.87" x2="378.6" y2="850.67" stroke="#E4E4E4" stroke-width="0.8" stroke-linecap="butt"/>
<line x1="456.2" y1="889.57" x2="378.6" y2="850.67" stroke="#E4E4E4" stroke-width="0.8" stroke-linecap="butt"/>
<line x1="302.67" y1="949.57" x2="404.47" y2="919.37" stroke="#E4E4E4" stroke-width="0.8" stroke-linecap="butt"/>
<line x1="422.27" y1="955.37" x2="344.67" y2="916.47" stroke="#E4E4E4" stroke-width="0.8" stroke-linecap="butt"/>
<line x1="378.6" y1="906.4" x2="378.6" y2="822.8" stroke="#E4E4E4" stroke-width="0.8" stroke-linecap="butt"/>
<line x1="456.2" y1="945.3" x2="456.2" y2="861.7" stroke="#E4E4E4" stroke-width="0.8" stroke-linecap="butt"/>
<line x1="276.8" y1="853" x2="378.6" y2="822.8" stroke="#E4E4E4" stroke-width="0.8" stroke-linecap="butt"/>
<line x1="456.2" y1="861.7" x2="378.6" y2="822.8" stroke="#E4E4E4" stroke-width="0.8" stroke-linecap="butt"/>
<line x1="276.8" y1="936.6" x2="378.6" y2="906.4" stroke="#E4E4E4" stroke-width="0.8" stroke-linecap="butt"/>
<line x1="456.2" y1="945.3" x2="378.6" y2="906.4" stroke="#E4E4E4" stroke-width="0.8" stroke-linecap="butt"/>
<polygon points="354.4,975.5 357.76,974.5 361.11,973.51 364.47,972.51 367.82,971.52 371.18,970.52 374.53,969.53 377.89,968.53 381.25,967.54 384.6,966.54 387.96,965.55 391.31,964.55 394.67,963.55 398.02,962.56 401.38,961.56 404.73,960.57 408.09,959.57 411.45,958.58 414.8,957.58 418.16,956.59 421.51,955.59 424.87,954.59 428.22,953.6 431.58,952.6 434.94,951.61 438.29,950.61 441.65,949.62 445,948.62 448.36,947.63 451.71,946.63 455.07,945.64 455.07,945.64 452.48,930.71 449.9,917.31 447.31,906.12 444.72,897.05 442.14,889.7 439.55,883.64 436.96,878.54 434.38,874.15 431.79,870.29 429.2,866.83 426.62,863.69 424.03,860.78 421.44,858.08 418.86,855.52 416.27,853.1 413.68,850.78 411.1,848.54 408.51,846.38 405.92,844.28 403.34,842.23 400.75,840.21 398.16,838.24 395.58,836.29 392.99,834.37 390.4,832.47 387.82,830.59 385.23,828.71 382.64,826.85 380.06,824.99 377.47,823.14 377.47,823.14 374.11,824.13 370.76,825.13 367.4,826.12 364.05,827.12 360.69,828.11 357.34,829.11 353.98,830.1 350.62,831.1 347.27,832.09 343.91,833.09 340.56,834.09 337.2,835.08 333.85,836.08 330.49,837.07 327.13,838.07 323.78,839.06 320.42,840.06 317.07,841.05 313.71,842.05 310.36,843.05 307,844.04 303.65,845.04 300.29,846.03 296.93,847.03 293.58,848.02 290.22,849.02 286.87,850.01 283.51,851.01 280.16,852 276.8,853 276.8,853 279.39,855.73 281.97,858.46 284.56,861.2 287.15,863.97 289.73,866.75 292.32,869.57 294.91,872.42 297.49,875.32 300.08,878.27 302.67,881.29 305.25,884.37 307.84,887.54 310.43,890.8 313.01,894.18 315.6,897.67 318.19,901.3 320.77,905.09 323.36,909.05 325.95,913.21 328.53,917.59 331.12,922.2 333.71,927.08 336.29,932.23 338.88,937.66 341.47,943.39 344.05,949.4 346.64,955.67 349.23,962.15 351.81,968.78 354.4,975.5" fill="#fff" stroke="none" stroke-width="0" stroke-linejoin="round"/>
<path d="M354.4 975.5L357.8 974.5M357.8 974.5L361.1 973.5M361.1 973.5L364.5 972.5M364.5 972.5L367.8 971.5M367.8 971.5L371.2 970.5M371.2 970.5L374.5 969.5M374.5 969.5L377.9 968.5M377.9 968.5L381.2 967.5M381.2 967.5L384.6 966.5M384.6 966.5L388.0 965.5M388.0 965.5L391.3 964.5M391.3 964.5L394.7 963.6M394.7 963.6L398.0 962.6M398.0 962.6L401.4 961.6M401.4 961.6L404.7 960.6M404.7 960.6L408.1 959.6M408.1 959.6L411.4 958.6M411.4 958.6L414.8 957.6M414.8 957.6L418.2 956.6M418.2 956.6L421.5 955.6M421.5 955.6L424.9 954.6M424.9 954.6L428.2 953.6M428.2 953.6L431.6 952.6M431.6 952.6L434.9 951.6M434.9 951.6L438.3 950.6M438.3 950.6L441.6 949.6M441.6 949.6L445.0 948.6M445.0 948.6L448.4 947.6M448.4 947.6L451.7 946.6M451.7 946.6L455.1 945.6" stroke="#79c284" stroke-width="0.6" fill="none"/>
<path d="M354.4 975.5L351.8 968.8M357.8 974.5L355.2 967.8M361.1 973.5L358.5 966.8M364.5 972.5L361.9 965.7M367.8 971.5L365.2 964.7M371.2 970.5L368.6 963.6M374.5 969.5L371.9 962.6M377.9 968.5L375.3 961.5M381.2 967.5L378.7 960.4M384.6 966.5L382.0 959.3M388.0 965.5L385.4 958.2M391.3 964.5L388.7 957.0" stroke="#79c18a" stroke-width="0.6" fill="none"/>
<path d="M394.7 963.6L392.1 955.8M398.0 962.6L395.4 954.7M401.4 961.6L398.8 953.4M404.7 960.6L402.1 952.2M408.1 959.6L405.5 950.9M411.4 958.6L408.9 949.6M414.8 957.6L412.2 948.3M418.2 956.6L415.6 946.9M421.5 955.6L418.9 945.5M424.9 954.6L422.3 944.0M428.2 953.6L425.6 942.5M431.6 952.6L429.0 940.9" stroke="#77c090" stroke-width="0.6" fill="none"/>
<path d="M351.8 968.8L355.2 967.8M355.2 967.8L358.5 966.8M358.5 966.8L361.9 965.7M361.9 965.7L365.2 964.7M365.2 964.7L368.6 963.6M368.6 963.6L371.9 962.6M371.9 962.6L375.3 961.5M375.3 961.5L378.7 960.4M378.7 960.4L382.0 959.3M382.0 959.3L385.4 958.2M385.4 958.2L388.7 957.0M388.7 957.0L392.1 955.8M392.1 955.8L395.4 954.7M395.4 954.7L398.8 953.4M398.8 953.4L402.1 952.2M402.1 952.2L405.5 950.9M434.9 951.6L432.3 939.4M438.3 950.6L435.7 937.8M441.6 949.6L439.1 936.2M445.0 948.6L442.4 934.6M448.4 947.6L445.8 933.2M451.7 946.6L449.1 931.9M455.1 945.6L452.5 930.7" stroke="#76bf95" stroke-width="0.6" fill="none"/>
<path d="M405.5 950.9L408.9 949.6M408.9 949.6L412.2 948.3M412.2 948.3L415.6 946.9M415.6 946.9L418.9 945.5M418.9 945.5L422.3 944.0M351.8 968.8L349.2 962.1M355.2 967.8L352.6 961.1M358.5 966.8L355.9 960.1M361.9 965.7L359.3 959.1M365.2 964.7L362.6 958.0M368.6 963.6L366.0 956.9M371.9 962.6L369.4 955.7M375.3 961.5L372.7 954.6M378.7 960.4L376.1 953.4M382.0 959.3L379.4 952.2M385.4 958.2L382.8 950.9M388.7 957.0L386.1 949.6" stroke="#76bf9b" stroke-width="0.6" fill="none"/>
<path d="M422.3 944.0L425.6 942.5M425.6 942.5L429.0 940.9M429.0 940.9L432.3 939.4M432.3 939.4L435.7 937.8M349.2 962.1L352.6 961.1M352.6 961.1L355.9 960.1M355.9 960.1L359.3 959.1M359.3 959.1L362.6 958.0M362.6 958.0L366.0 956.9M366.0 956.9L369.4 955.7M369.4 955.7L372.7 954.6M372.7 954.6L376.1 953.4M392.1 955.8L389.5 948.3M395.4 954.7L392.8 946.9M398.8 953.4L396.2 945.5M402.1 952.2L399.6 944.0M405.5 950.9L402.9 942.5M408.9 949.6L406.3 940.9" stroke="#74bda0" stroke-width="0.6" fill="none"/>
<path d="M435.7 937.8L439.1 936.2M439.1 936.2L442.4 934.6M442.4 934.6L445.8 933.2M445.8 933.2L449.1 931.9M449.1 931.9L452.5 930.7M376.1 953.4L379.4 952.2M379.4 952.2L382.8 950.9M382.8 950.9L386.1 949.6M386.1 949.6L389.5 948.3M389.5 948.3L392.8 946.9M392.8 946.9L396.2 945.5M349.2 962.1L346.6 955.7M352.6 961.1L350.0 954.7M355.9 960.1L353.4 953.6M359.3 959.1L356.7 952.5M412.2 948.3L409.6 939.3M415.6 946.9L413.0 937.5M418.9 945.5L416.3 935.8" stroke="#74bca6" stroke-width="0.6" fill="none"/>
<path d="M396.2 945.5L399.6 944.0M399.6 944.0L402.9 942.5M402.9 942.5L406.3 940.9M406.3 940.9L409.6 939.3M362.6 958.0L360.1 951.4M366.0 956.9L363.4 950.3M369.4 955.7L366.8 949.1M372.7 954.6L370.1 947.8M376.1 953.4L373.5 946.6M379.4 952.2L376.8 945.2M382.8 950.9L380.2 943.9M386.1 949.6L383.6 942.5M389.5 948.3L386.9 941.0M422.3 944.0L419.7 933.9M425.6 942.5L423.1 932.0M429.0 940.9L426.4 930.0" stroke="#73bbaa" stroke-width="0.6" fill="none"/>
<path d="M409.6 939.3L413.0 937.5M413.0 937.5L416.3 935.8M416.3 935.8L419.7 933.9M346.6 955.7L350.0 954.7M350.0 954.7L353.4 953.6M353.4 953.6L356.7 952.5M356.7 952.5L360.1 951.4M360.1 951.4L363.4 950.3M363.4 950.3L366.8 949.1M366.8 949.1L370.1 947.8M370.1 947.8L373.5 946.6M373.5 946.6L376.8 945.2M376.8 945.2L380.2 943.9M392.8 946.9L390.3 939.5M396.2 945.5L393.6 937.9M399.6 944.0L397.0 936.2M432.3 939.4L429.8 927.9M435.7 937.8L433.1 925.9M439.1 936.2L436.5 923.9" stroke="#72b9ae" stroke-width="0.6" fill="none"/>
<path d="M419.7 933.9L423.1 932.0M423.1 932.0L426.4 930.0M380.2 943.9L383.6 942.5M383.6 942.5L386.9 941.0M386.9 941.0L390.3 939.5M390.3 939.5L393.6 937.9M346.6 955.7L344.1 949.4M350.0 954.7L347.4 948.4M353.4 953.6L350.8 947.3M356.7 952.5L354.1 946.2M360.1 951.4L357.5 945.1M363.4 950.3L360.8 943.9M366.8 949.1L364.2 942.6M370.1 947.8L367.5 941.4M373.5 946.6L370.9 940.0M402.9 942.5L400.3 934.5M406.3 940.9L403.7 932.7M409.6 939.3L407.0 930.8M442.4 934.6L439.8 921.9M445.8 933.2L443.2 920.1M449.1 931.9L446.5 918.6M452.5 930.7L449.9 917.3" stroke="#72b8b3" stroke-width="0.6" fill="none"/>
<path d="M426.4 930.0L429.8 927.9M429.8 927.9L433.1 925.9M393.6 937.9L397.0 936.2M397.0 936.2L400.3 934.5M400.3 934.5L403.7 932.7M344.1 949.4L347.4 948.4M347.4 948.4L350.8 947.3M350.8 947.3L354.1 946.2M354.1 946.2L357.5 945.1M357.5 945.1L360.8 943.9M360.8 943.9L364.2 942.6M364.2 942.6L367.5 941.4M376.8 945.2L374.3 938.6M380.2 943.9L377.6 937.2M383.6 942.5L381.0 935.7M386.9 941.0L384.3 934.1M413.0 937.5L410.4 928.8M416.3 935.8L413.8 926.8" stroke="#71b6b7" stroke-width="0.6" fill="none"/>
<path d="M433.1 925.9L436.5 923.9M436.5 923.9L439.8 921.9M403.7 932.7L407.0 930.8M407.0 930.8L410.4 928.8M367.5 941.4L370.9 940.0M370.9 940.0L374.3 938.6M374.3 938.6L377.6 937.2M377.6 937.2L381.0 935.7M381.0 935.7L384.3 934.1M344.1 949.4L341.5 943.4M347.4 948.4L344.8 942.4M350.8 947.3L348.2 941.3M354.1 946.2L351.5 940.2M357.5 945.1L354.9 939.0M360.8 943.9L358.2 937.8M390.3 939.5L387.7 932.4M393.6 937.9L391.0 930.7M397.0 936.2L394.4 928.9M419.7 933.9L417.1 924.6M423.1 932.0L420.5 922.4" stroke="#70b4bb" stroke-width="0.6" fill="none"/>
<path d="M439.8 921.9L443.2 920.1M443.2 920.1L446.5 918.6M446.5 918.6L449.9 917.3M410.4 928.8L413.8 926.8M413.8 926.8L417.1 924.6M384.3 934.1L387.7 932.4M387.7 932.4L391.0 930.7M391.0 930.7L394.4 928.9M341.5 943.4L344.8 942.4M344.8 942.4L348.2 941.3M348.2 941.3L351.5 940.2M351.5 940.2L354.9 939.0M364.2 942.6L361.6 936.5M367.5 941.4L365.0 935.2M370.9 940.0L368.3 933.8M374.3 938.6L371.7 932.3M377.6 937.2L375.0 930.8M400.3 934.5L397.7 927.0M403.7 932.7L401.1 925.1M407.0 930.8L404.5 923.0M426.4 930.0L423.8 920.1M429.8 927.9L427.2 917.8" stroke="#70b3bf" stroke-width="0.6" fill="none"/>
<path d="M417.1 924.6L420.5 922.4M420.5 922.4L423.8 920.1M394.4 928.9L397.7 927.0M397.7 927.0L401.1 925.1M354.9 939.0L358.2 937.8M358.2 937.8L361.6 936.5M361.6 936.5L365.0 935.2M365.0 935.2L368.3 933.8M368.3 933.8L371.7 932.3M371.7 932.3L375.0 930.8M341.5 943.4L338.9 937.7M344.8 942.4L342.2 936.6M348.2 941.3L345.6 935.6M351.5 940.2L348.9 934.4M381.0 935.7L378.4 929.2M384.3 934.1L381.7 927.6M387.7 932.4L385.1 925.8M410.4 928.8L407.8 920.9M433.1 925.9L430.5 915.5M436.5 923.9L433.9 913.2" stroke="#70b1c1" stroke-width="0.6" fill="none"/>
<path d="M423.8 920.1L427.2 917.8M401.1 925.1L404.5 923.0M404.5 923.0L407.8 920.9M375.0 930.8L378.4 929.2M378.4 929.2L381.7 927.6M381.7 927.6L385.1 925.8M338.9 937.7L342.2 936.6M342.2 936.6L345.6 935.6M345.6 935.6L348.9 934.4M354.9 939.0L352.3 933.2M358.2 937.8L355.7 932.0M361.6 936.5L359.0 930.7M365.0 935.2L362.4 929.3M368.3 933.8L365.7 927.9M371.7 932.3L369.1 926.4M391.0 930.7L388.4 924.0M394.4 928.9L391.8 922.2M397.7 927.0L395.2 920.2M413.8 926.8L411.2 918.7M417.1 924.6L414.5 916.3M439.8 921.9L437.2 911.0M443.2 920.1L440.6 909.1" stroke="#70aec4" stroke-width="0.6" fill="none"/>
<path d="M427.2 917.8L430.5 915.5M430.5 915.5L433.9 913.2M407.8 920.9L411.2 918.7M385.1 925.8L388.4 924.0M388.4 924.0L391.8 922.2M348.9 934.4L352.3 933.2M352.3 933.2L355.7 932.0M355.7 932.0L359.0 930.7M359.0 930.7L362.4 929.3M362.4 929.3L365.7 927.9M365.7 927.9L369.1 926.4M338.9 937.7L336.3 932.2M342.2 936.6L339.6 931.2M345.6 935.6L343.0 930.1M348.9 934.4L346.4 929.0M375.0 930.8L372.4 924.8M378.4 929.2L375.8 923.2M381.7 927.6L379.1 921.5M401.1 925.1L398.5 918.1M404.5 923.0L401.9 916.0M420.5 922.4L417.9 914.0M423.8 920.1L421.2 911.5M446.5 918.6L444.0 907.4M449.9 917.3L447.3 906.1" stroke="#70acc6" stroke-width="0.6" fill="none"/>
<path d="M433.9 913.2L437.2 911.0M437.2 911.0L440.6 909.1M411.2 918.7L414.5 916.3M414.5 916.3L417.9 914.0M391.8 922.2L395.2 920.2M395.2 920.2L398.5 918.1M369.1 926.4L372.4 924.8M372.4 924.8L375.8 923.2M375.8 923.2L379.1 921.5M336.3 932.2L339.6 931.2M339.6 931.2L343.0 930.1M343.0 930.1L346.4 929.0M352.3 933.2L349.7 927.8M355.7 932.0L353.1 926.5M359.0 930.7L356.4 925.2M362.4 929.3L359.8 923.8M365.7 927.9L363.1 922.4M385.1 925.8L382.5 919.7M388.4 924.0L385.9 917.9M391.8 922.2L389.2 915.9M407.8 920.9L405.2 913.7M427.2 917.8L424.6 909.1" stroke="#70aac8" stroke-width="0.6" fill="none"/>
<path d="M440.6 909.1L444.0 907.4M444.0 907.4L447.3 906.1M417.9 914.0L421.2 911.5M398.5 918.1L401.9 916.0M401.9 916.0L405.2 913.7M379.1 921.5L382.5 919.7M382.5 919.7L385.9 917.9M385.9 917.9L389.2 915.9M346.4 929.0L349.7 927.8M349.7 927.8L353.1 926.5M353.1 926.5L356.4 925.2M356.4 925.2L359.8 923.8M359.8 923.8L363.1 922.4M363.1 922.4L366.5 920.8M336.3 932.2L333.7 927.1M339.6 931.2L337.1 926.0M343.0 930.1L340.4 925.0M346.4 929.0L343.8 923.8M369.1 926.4L366.5 920.8M372.4 924.8L369.8 919.3M375.8 923.2L373.2 917.6M379.1 921.5L376.6 915.9M395.2 920.2L392.6 913.9M398.5 918.1L395.9 911.8M411.2 918.7L408.6 911.4M414.5 916.3L411.9 909.0M430.5 915.5L427.9 906.6M433.9 913.2L431.3 904.3" stroke="#71a8cb" stroke-width="0.6" fill="none"/>
<path d="M421.2 911.5L424.6 909.1M424.6 909.1L427.9 906.6M405.2 913.7L408.6 911.4M408.6 911.4L411.9 909.0M389.2 915.9L392.6 913.9M392.6 913.9L395.9 911.8M366.5 920.8L369.8 919.3M369.8 919.3L373.2 917.6M373.2 917.6L376.6 915.9M333.7 927.1L337.1 926.0M337.1 926.0L340.4 925.0M340.4 925.0L343.8 923.8M343.8 923.8L347.1 922.6M349.7 927.8L347.1 922.6M353.1 926.5L350.5 921.3M356.4 925.2L353.8 920.0M359.8 923.8L357.2 918.6M363.1 922.4L360.6 917.2M366.5 920.8L363.9 915.6M382.5 919.7L379.9 914.1M385.9 917.9L383.3 912.2M401.9 916.0L399.3 909.6M417.9 914.0L415.3 906.6M437.2 911.0L434.7 902.0M440.6 909.1L438.0 900.1" stroke="#71a6cd" stroke-width="0.6" fill="none"/>
<path d="M427.9 906.6L431.3 904.3M411.9 909.0L415.3 906.6M395.9 911.8L399.3 909.6M376.6 915.9L379.9 914.1M379.9 914.1L383.3 912.2M347.1 922.6L350.5 921.3M350.5 921.3L353.8 920.0M353.8 920.0L357.2 918.6M357.2 918.6L360.6 917.2M360.6 917.2L363.9 915.6M333.7 927.1L331.1 922.2M337.1 926.0L334.5 921.2M340.4 925.0L337.8 920.1M343.8 923.8L341.2 918.9M347.1 922.6L344.5 917.7M350.5 921.3L347.9 916.5M369.8 919.3L367.3 914.0M373.2 917.6L370.6 912.4M376.6 915.9L374.0 910.6M389.2 915.9L386.6 910.2M392.6 913.9L390.0 908.2M405.2 913.7L402.6 907.4M408.6 911.4L406.0 905.0M421.2 911.5L418.6 904.1M424.6 909.1L422.0 901.6M444.0 907.4L441.4 898.4M447.3 906.1L444.7 897.1" stroke="#72a4cf" stroke-width="0.6" fill="none"/>
<path d="M431.3 904.3L434.7 902.0M434.7 902.0L438.0 900.1M438.0 900.1L441.4 898.4M415.3 906.6L418.6 904.1M418.6 904.1L422.0 901.6M399.3 909.6L402.6 907.4M402.6 907.4L406.0 905.0M383.3 912.2L386.6 910.2M386.6 910.2L390.0 908.2M363.9 915.6L367.3 914.0M367.3 914.0L370.6 912.4M370.6 912.4L374.0 910.6M331.1 922.2L334.5 921.2M334.5 921.2L337.8 920.1M337.8 920.1L341.2 918.9M341.2 918.9L344.5 917.7M344.5 917.7L347.9 916.5M347.9 916.5L351.3 915.1M353.8 920.0L351.3 915.1M357.2 918.6L354.6 913.7M360.6 917.2L358.0 912.3M363.9 915.6L361.3 910.7M379.9 914.1L377.3 908.8M383.3 912.2L380.7 906.9M395.9 911.8L393.3 906.1M399.3 909.6L396.7 903.9M411.9 909.0L409.3 902.6M427.9 906.6L425.4 899.2" stroke="#73a1d0" stroke-width="0.6" fill="none"/>
<path d="M441.4 898.4L444.7 897.1M422.0 901.6L425.4 899.2M406.0 905.0L409.3 902.6M409.3 902.6L412.7 900.2M390.0 908.2L393.3 906.1M393.3 906.1L396.7 903.9M374.0 910.6L377.3 908.8M377.3 908.8L380.7 906.9M380.7 906.9L384.0 905.0M351.3 915.1L354.6 913.7M354.6 913.7L358.0 912.3M358.0 912.3L361.3 910.7M361.3 910.7L364.7 909.2M331.1 922.2L328.5 917.6M334.5 921.2L331.9 916.6M337.8 920.1L335.2 915.5M341.2 918.9L338.6 914.3M344.5 917.7L342.0 913.1M347.9 916.5L345.3 911.9M351.3 915.1L348.7 910.5M354.6 913.7L352.0 909.1M367.3 914.0L364.7 909.2M370.6 912.4L368.0 907.5M374.0 910.6L371.4 905.8M386.6 910.2L384.0 905.0M390.0 908.2L387.4 903.0M402.6 907.4L400.1 901.6M415.3 906.6L412.7 900.2M418.6 904.1L416.1 897.7M431.3 904.3L428.7 896.8M434.7 902.0L432.1 894.6" stroke="#749fd2" stroke-width="0.6" fill="none"/>
<path d="M425.4 899.2L428.7 896.8M428.7 896.8L432.1 894.6M412.7 900.2L416.1 897.7M396.7 903.9L400.1 901.6M400.1 901.6L403.4 899.3M384.0 905.0L387.4 903.0M387.4 903.0L390.8 900.9M364.7 909.2L368.0 907.5M368.0 907.5L371.4 905.8M371.4 905.8L374.7 904.0M328.5 917.6L331.9 916.6M331.9 916.6L335.2 915.5M335.2 915.5L338.6 914.3M338.6 914.3L342.0 913.1M342.0 913.1L345.3 911.9M345.3 911.9L348.7 910.5M348.7 910.5L352.0 909.1M352.0 909.1L355.4 907.7M328.5 917.6L325.9 913.2M331.9 916.6L329.3 912.2M335.2 915.5L332.7 911.1M338.6 914.3L336.0 910.0M342.0 913.1L339.4 908.8M358.0 912.3L355.4 907.7M361.3 910.7L358.7 906.2M364.7 909.2L362.1 904.6M368.0 907.5L365.4 902.9M377.3 908.8L374.7 904.0M380.7 906.9L378.1 902.1M384.0 905.0L381.5 900.2M393.3 906.1L390.8 900.9M396.7 903.9L394.1 898.7M406.0 905.0L403.4 899.3M409.3 902.6L406.8 897.0M422.0 901.6L419.4 895.3M438.0 900.1L435.4 892.7M441.4 898.4L438.8 891.0M444.7 897.1L442.1 889.7" stroke="#749dd3" stroke-width="0.6" fill="none"/>
<path d="M432.1 894.6L435.4 892.7M435.4 892.7L438.8 891.0M416.1 897.7L419.4 895.3M403.4 899.3L406.8 897.0M390.8 900.9L394.1 898.7M394.1 898.7L397.5 896.5M374.7 904.0L378.1 902.1M378.1 902.1L381.5 900.2M355.4 907.7L358.7 906.2M358.7 906.2L362.1 904.6M362.1 904.6L365.4 902.9M365.4 902.9L368.8 901.2M325.9 913.2L329.3 912.2M329.3 912.2L332.7 911.1M332.7 911.1L336.0 910.0M336.0 910.0L339.4 908.8M339.4 908.8L342.7 907.5M342.7 907.5L346.1 906.2M345.3 911.9L342.7 907.5M348.7 910.5L346.1 906.2M352.0 909.1L349.4 904.8M355.4 907.7L352.8 903.4M358.7 906.2L356.1 901.9M371.4 905.8L368.8 901.2M374.7 904.0L372.2 899.5M387.4 903.0L384.8 898.2M390.8 900.9L388.2 896.1M400.1 901.6L397.5 896.5M403.4 899.3L400.8 894.2M412.7 900.2L410.1 894.6M425.4 899.2L422.8 892.9M428.7 896.8L426.1 890.6" stroke="#769ad4" stroke-width="0.6" fill="none"/>
<path d="M438.8 891.0L442.1 889.7M419.4 895.3L422.8 892.9M422.8 892.9L426.1 890.6M406.8 897.0L410.1 894.6M410.1 894.6L413.5 892.2M397.5 896.5L400.8 894.2M381.5 900.2L384.8 898.2M384.8 898.2L388.2 896.1M368.8 901.2L372.2 899.5M372.2 899.5L375.5 897.6M346.1 906.2L349.4 904.8M349.4 904.8L352.8 903.4M352.8 903.4L356.1 901.9M356.1 901.9L359.5 900.3M323.4 909.1L326.7 908.0M326.7 908.0L330.1 906.9M330.1 906.9L333.4 905.8M325.9 913.2L323.4 909.1M329.3 912.2L326.7 908.0M332.7 911.1L330.1 906.9M336.0 910.0L333.4 905.8M339.4 908.8L336.8 904.6M342.7 907.5L340.1 903.4M346.1 906.2L343.5 902.1M349.4 904.8L346.8 900.7M362.1 904.6L359.5 900.3M365.4 902.9L362.9 898.7M368.8 901.2L366.2 897.0M378.1 902.1L375.5 897.6M381.5 900.2L378.9 895.7M394.1 898.7L391.5 894.0M406.8 897.0L404.2 891.9M416.1 897.7L413.5 892.2M419.4 895.3L416.8 889.8M432.1 894.6L429.5 888.4M435.4 892.7L432.8 886.5" stroke="#7698d6" stroke-width="0.6" fill="none"/>
<path d="M426.1 890.6L429.5 888.4M429.5 888.4L432.8 886.5M413.5 892.2L416.8 889.8M400.8 894.2L404.2 891.9M404.2 891.9L407.5 889.6M388.2 896.1L391.5 894.0M391.5 894.0L394.9 891.8M375.5 897.6L378.9 895.7M378.9 895.7L382.2 893.8M359.5 900.3L362.9 898.7M362.9 898.7L366.2 897.0M366.2 897.0L369.6 895.2M333.4 905.8L336.8 904.6M336.8 904.6L340.1 903.4M340.1 903.4L343.5 902.1M343.5 902.1L346.8 900.7M346.8 900.7L350.2 899.3M350.2 899.3L353.6 897.8M323.4 909.1L320.8 905.1M326.7 908.0L324.1 904.1M330.1 906.9L327.5 903.0M333.4 905.8L330.8 901.9M336.8 904.6L334.2 900.7M340.1 903.4L337.6 899.4M343.5 902.1L340.9 898.1M352.8 903.4L350.2 899.3M356.1 901.9L353.6 897.8M359.5 900.3L356.9 896.2M362.9 898.7L360.3 894.6M372.2 899.5L369.6 895.2M375.5 897.6L372.9 893.4M378.9 895.7L376.3 891.6M384.8 898.2L382.2 893.8M388.2 896.1L385.6 891.8M397.5 896.5L394.9 891.8M400.8 894.2L398.2 889.6M410.1 894.6L407.5 889.6M413.5 892.2L410.9 887.3M422.8 892.9L420.2 887.5M426.1 890.6L423.5 885.3M438.8 891.0L436.2 884.9M442.1 889.7L439.5 883.6" stroke="#7b94d1" stroke-width="0.6" fill="none"/>
<path d="M432.8 886.5L436.2 884.9M436.2 884.9L439.5 883.6M416.8 889.8L420.2 887.5M420.2 887.5L423.5 885.3M407.5 889.6L410.9 887.3M394.9 891.8L398.2 889.6M398.2 889.6L401.6 887.4M382.2 893.8L385.6 891.8M385.6 891.8L388.9 889.7M369.6 895.2L372.9 893.4M372.9 893.4L376.3 891.6M376.3 891.6L379.6 889.7M353.6 897.8L356.9 896.2M356.9 896.2L360.3 894.6M360.3 894.6L363.6 893.0M363.6 893.0L367.0 891.3M320.8 905.1L324.1 904.1M324.1 904.1L327.5 903.0M327.5 903.0L330.8 901.9M330.8 901.9L334.2 900.7M334.2 900.7L337.6 899.4M337.6 899.4L340.9 898.1M340.9 898.1L344.3 896.8M344.3 896.8L347.6 895.4M320.8 905.1L318.2 901.3M324.1 904.1L321.5 900.3M327.5 903.0L324.9 899.2M330.8 901.9L328.3 898.1M334.2 900.7L331.6 896.9M346.8 900.7L344.3 896.8M350.2 899.3L347.6 895.4M353.6 897.8L351.0 893.9M356.9 896.2L354.3 892.4M366.2 897.0L363.6 893.0M369.6 895.2L367.0 891.3M372.9 893.4L370.3 889.5M382.2 893.8L379.6 889.7M385.6 891.8L383.0 887.7M391.5 894.0L388.9 889.7M394.9 891.8L392.3 887.6M404.2 891.9L401.6 887.4M407.5 889.6L404.9 885.2M416.8 889.8L414.2 885.0M429.5 888.4L426.9 883.2M432.8 886.5L430.3 881.4" stroke="#7e90cc" stroke-width="0.6" fill="none"/>
<path d="M423.5 885.3L426.9 883.2M426.9 883.2L430.3 881.4M430.3 881.4L433.6 879.8M410.9 887.3L414.2 885.0M414.2 885.0L417.6 882.8M401.6 887.4L404.9 885.2M404.9 885.2L408.3 882.9M388.9 889.7L392.3 887.6M392.3 887.6L395.6 885.5M379.6 889.7L383.0 887.7M383.0 887.7L386.3 885.7M367.0 891.3L370.3 889.5M370.3 889.5L373.7 887.7M347.6 895.4L351.0 893.9M351.0 893.9L354.3 892.4M354.3 892.4L357.7 890.8M357.7 890.8L361.0 889.2M318.2 901.3L321.5 900.3M321.5 900.3L324.9 899.2M324.9 899.2L328.3 898.1M328.3 898.1L331.6 896.9M331.6 896.9L335.0 895.7M335.0 895.7L338.3 894.4M338.3 894.4L341.7 893.1M318.2 901.3L315.6 897.7M321.5 900.3L319.0 896.6M324.9 899.2L322.3 895.6M328.3 898.1L325.7 894.5M337.6 899.4L335.0 895.7M340.9 898.1L338.3 894.4M344.3 896.8L341.7 893.1M347.6 895.4L345.0 891.7M351.0 893.9L348.4 890.2M354.3 892.4L351.7 888.8M360.3 894.6L357.7 890.8M363.6 893.0L361.0 889.2M367.0 891.3L364.4 887.6M376.3 891.6L373.7 887.7M379.6 889.7L377.1 885.9M388.9 889.7L386.3 885.7M392.3 887.6L389.7 883.7M398.2 889.6L395.6 885.5M401.6 887.4L399.0 883.3M410.9 887.3L408.3 882.9M420.2 887.5L417.6 882.8M423.5 885.3L421.0 880.6M436.2 884.9L433.6 879.8M439.5 883.6L437.0 878.5" stroke="#828cc7" stroke-width="0.6" fill="none"/>
<path d="M433.6 879.8L437.0 878.5M417.6 882.8L421.0 880.6M421.0 880.6L424.3 878.7M408.3 882.9L411.7 880.7M395.6 885.5L399.0 883.3M399.0 883.3L402.4 881.1M386.3 885.7L389.7 883.7M389.7 883.7L393.1 881.6M373.7 887.7L377.1 885.9M377.1 885.9L380.4 884.0M380.4 884.0L383.8 882.0M361.0 889.2L364.4 887.6M364.4 887.6L367.8 885.8M367.8 885.8L371.1 884.1M341.7 893.1L345.0 891.7M345.0 891.7L348.4 890.2M348.4 890.2L351.7 888.8M351.7 888.8L355.1 887.2M355.1 887.2L358.5 885.7M315.6 897.7L319.0 896.6M319.0 896.6L322.3 895.6M322.3 895.6L325.7 894.5M325.7 894.5L329.0 893.3M329.0 893.3L332.4 892.1M332.4 892.1L335.7 890.8M335.7 890.8L339.1 889.5M315.6 897.7L313.0 894.2M319.0 896.6L316.4 893.2M331.6 896.9L329.0 893.3M335.0 895.7L332.4 892.1M338.3 894.4L335.7 890.8M341.7 893.1L339.1 889.5M345.0 891.7L342.4 888.1M348.4 890.2L345.8 886.7M357.7 890.8L355.1 887.2M361.0 889.2L358.5 885.7M364.4 887.6L361.8 884.0M370.3 889.5L367.8 885.8M373.7 887.7L371.1 884.1M377.1 885.9L374.5 882.3M383.0 887.7L380.4 884.0M386.3 885.7L383.8 882.0M395.6 885.5L393.1 881.6M399.0 883.3L396.4 879.6M404.9 885.2L402.4 881.1M408.3 882.9L405.7 879.0M414.2 885.0L411.7 880.7M417.6 882.8L415.0 878.6M426.9 883.2L424.3 878.7M430.3 881.4L427.7 876.9M433.6 879.8L431.0 875.4" stroke="#8687c2" stroke-width="0.6" fill="none"/>
<path d="M424.3 878.7L427.7 876.9M427.7 876.9L431.0 875.4M431.0 875.4L434.4 874.1M411.7 880.7L415.0 878.6M415.0 878.6L418.4 876.6M402.4 881.1L405.7 879.0M405.7 879.0L409.1 876.9M393.1 881.6L396.4 879.6M396.4 879.6L399.8 877.5M383.8 882.0L387.1 880.1M387.1 880.1L390.5 878.1M371.1 884.1L374.5 882.3M374.5 882.3L377.8 880.5M358.5 885.7L361.8 884.0M361.8 884.0L365.2 882.4M365.2 882.4L368.5 880.7M339.1 889.5L342.4 888.1M342.4 888.1L345.8 886.7M345.8 886.7L349.2 885.3M349.2 885.3L352.5 883.8M352.5 883.8L355.9 882.2M313.0 894.2L316.4 893.2M316.4 893.2L319.7 892.1M319.7 892.1L323.1 891.0M323.1 891.0L326.4 889.8M326.4 889.8L329.8 888.6M329.8 888.6L333.1 887.4M333.1 887.4L336.5 886.1M313.0 894.2L310.4 890.8M316.4 893.2L313.8 889.8M322.3 895.6L319.7 892.1M325.7 894.5L323.1 891.0M329.0 893.3L326.4 889.8M332.4 892.1L329.8 888.6M335.7 890.8L333.1 887.4M339.1 889.5L336.5 886.1M342.4 888.1L339.9 884.8M345.8 886.7L343.2 883.4M351.7 888.8L349.2 885.3M355.1 887.2L352.5 883.8M358.5 885.7L355.9 882.2M361.8 884.0L359.2 880.7M367.8 885.8L365.2 882.4M371.1 884.1L368.5 880.7M374.5 882.3L371.9 878.9M380.4 884.0L377.8 880.5M383.8 882.0L381.2 878.6M389.7 883.7L387.1 880.1M393.1 881.6L390.5 878.1M402.4 881.1L399.8 877.5M411.7 880.7L409.1 876.9M415.0 878.6L412.4 874.8M421.0 880.6L418.4 876.6M424.3 878.7L421.7 874.7M437.0 878.5L434.4 874.1" stroke="#9083ba" stroke-width="0.6" fill="none"/>
<path d="M418.4 876.6L421.7 874.7M421.7 874.7L425.1 873.0M425.1 873.0L428.4 871.5M428.4 871.5L431.8 870.3M409.1 876.9L412.4 874.8M412.4 874.8L415.8 872.9M399.8 877.5L403.1 875.4M403.1 875.4L406.5 873.4M390.5 878.1L393.8 876.1M393.8 876.1L397.2 874.1M377.8 880.5L381.2 878.6M381.2 878.6L384.5 876.7M384.5 876.7L387.9 874.8M368.5 880.7L371.9 878.9M371.9 878.9L375.2 877.1M375.2 877.1L378.6 875.3M355.9 882.2L359.2 880.7M359.2 880.7L362.6 879.0M362.6 879.0L365.9 877.4M336.5 886.1L339.9 884.8M339.9 884.8L343.2 883.4M343.2 883.4L346.6 882.0M346.6 882.0L349.9 880.5M349.9 880.5L353.3 879.0M310.4 890.8L313.8 889.8M313.8 889.8L317.1 888.7M317.1 888.7L320.5 887.6M320.5 887.6L323.8 886.5M323.8 886.5L327.2 885.3M327.2 885.3L330.6 884.1M330.6 884.1L333.9 882.8M310.4 890.8L307.8 887.5M313.8 889.8L311.2 886.5M319.7 892.1L317.1 888.7M317.1 888.7L314.6 885.5M323.1 891.0L320.5 887.6M326.4 889.8L323.8 886.5M329.8 888.6L327.2 885.3M333.1 887.4L330.6 884.1M336.5 886.1L333.9 882.8M339.9 884.8L337.3 881.5M343.2 883.4L340.6 880.1M349.2 885.3L346.6 882.0M352.5 883.8L349.9 880.5M355.9 882.2L353.3 879.0M359.2 880.7L356.6 877.5M365.2 882.4L362.6 879.0M368.5 880.7L365.9 877.4M371.9 878.9L369.3 875.7M377.8 880.5L375.2 877.1M381.2 878.6L378.6 875.3M387.1 880.1L384.5 876.7M390.5 878.1L387.9 874.8M396.4 879.6L393.8 876.1M399.8 877.5L397.2 874.1M405.7 879.0L403.1 875.4M409.1 876.9L406.5 873.4M418.4 876.6L415.8 872.9M421.7 874.7L419.1 871.1M427.7 876.9L425.1 873.0M431.0 875.4L428.4 871.5M434.4 874.1L431.8 870.3" stroke="#9a7fb3" stroke-width="0.6" fill="none"/>
<path d="M415.8 872.9L419.1 871.1M419.1 871.1L422.5 869.5M422.5 869.5L425.8 868.0M425.8 868.0L429.2 866.8M406.5 873.4L409.8 871.4M409.8 871.4L413.2 869.6M397.2 874.1L400.5 872.1M400.5 872.1L403.9 870.2M387.9 874.8L391.2 872.8M391.2 872.8L394.6 870.9M378.6 875.3L381.9 873.5M381.9 873.5L385.3 871.6M365.9 877.4L369.3 875.7M369.3 875.7L372.6 874.0M372.6 874.0L376.0 872.2M353.3 879.0L356.6 877.5M356.6 877.5L360.0 875.9M360.0 875.9L363.3 874.3M333.9 882.8L337.3 881.5M337.3 881.5L340.6 880.1M340.6 880.1L344.0 878.7M344.0 878.7L347.3 877.3M347.3 877.3L350.7 875.9M307.8 887.5L311.2 886.5M311.2 886.5L314.6 885.5M314.6 885.5L317.9 884.4M317.9 884.4L321.3 883.2M321.3 883.2L324.6 882.1M324.6 882.1L328.0 880.9M328.0 880.9L331.3 879.6M331.3 879.6L334.7 878.3M307.8 887.5L305.3 884.4M311.2 886.5L308.6 883.4M314.6 885.5L312.0 882.3M320.5 887.6L317.9 884.4M317.9 884.4L315.3 881.2M323.8 886.5L321.3 883.2M327.2 885.3L324.6 882.1M330.6 884.1L328.0 880.9M333.9 882.8L331.3 879.6M337.3 881.5L334.7 878.3M340.6 880.1L338.0 877.0M346.6 882.0L344.0 878.7M344.0 878.7L341.4 875.6M349.9 880.5L347.3 877.3M353.3 879.0L350.7 875.9M356.6 877.5L354.0 874.4M362.6 879.0L360.0 875.9M360.0 875.9L357.4 872.8M365.9 877.4L363.3 874.3M369.3 875.7L366.7 872.6M375.2 877.1L372.6 874.0M378.6 875.3L376.0 872.2M384.5 876.7L381.9 873.5M381.9 873.5L379.4 870.5M387.9 874.8L385.3 871.6M393.8 876.1L391.2 872.8M391.2 872.8L388.7 869.8M397.2 874.1L394.6 870.9M403.1 875.4L400.5 872.1M400.5 872.1L398.0 869.0M406.5 873.4L403.9 870.2M412.4 874.8L409.8 871.4M409.8 871.4L407.3 868.3M415.8 872.9L413.2 869.6M419.1 871.1L416.5 867.8M425.1 873.0L422.5 869.5M428.4 871.5L425.8 868.0M431.8 870.3L429.2 866.8" stroke="#a57bab" stroke-width="0.6" fill="none"/>
<path d="M413.2 869.6L416.5 867.8M416.5 867.8L419.9 866.3M419.9 866.3L423.3 864.9M423.3 864.9L426.6 863.7M403.9 870.2L407.3 868.3M407.3 868.3L410.6 866.5M410.6 866.5L414.0 864.8M394.6 870.9L398.0 869.0M398.0 869.0L401.3 867.2M385.3 871.6L388.7 869.8M388.7 869.8L392.0 868.0M392.0 868.0L395.4 866.1M376.0 872.2L379.4 870.5M379.4 870.5L382.7 868.7M382.7 868.7L386.1 866.9M363.3 874.3L366.7 872.6M366.7 872.6L370.1 871.0M370.1 871.0L373.4 869.3M373.4 869.3L376.8 867.6M350.7 875.9L354.0 874.4M354.0 874.4L357.4 872.8M357.4 872.8L360.8 871.3M360.8 871.3L364.1 869.7M334.7 878.3L338.0 877.0M338.0 877.0L341.4 875.6M341.4 875.6L344.8 874.3M344.8 874.3L348.1 872.8M348.1 872.8L351.5 871.4M305.3 884.4L308.6 883.4M308.6 883.4L312.0 882.3M312.0 882.3L315.3 881.2M315.3 881.2L318.7 880.1M318.7 880.1L322.0 878.9M322.0 878.9L325.4 877.8M325.4 877.8L328.7 876.5M328.7 876.5L332.1 875.3M332.1 875.3L335.5 874.0M305.3 884.4L302.7 881.3M308.6 883.4L306.0 880.3M312.0 882.3L309.4 879.2M315.3 881.2L312.7 878.2M321.3 883.2L318.7 880.1M318.7 880.1L316.1 877.0M324.6 882.1L322.0 878.9M322.0 878.9L319.4 875.9M328.0 880.9L325.4 877.8M331.3 879.6L328.7 876.5M334.7 878.3L332.1 875.3M338.0 877.0L335.5 874.0M341.4 875.6L338.8 872.6M347.3 877.3L344.8 874.3M344.8 874.3L342.2 871.3M350.7 875.9L348.1 872.8M354.0 874.4L351.5 871.4M357.4 872.8L354.8 869.9M363.3 874.3L360.8 871.3M366.7 872.6L364.1 869.7M372.6 874.0L370.1 871.0M370.1 871.0L367.5 868.1M376.0 872.2L373.4 869.3M379.4 870.5L376.8 867.6M385.3 871.6L382.7 868.7M388.7 869.8L386.1 866.9M394.6 870.9L392.0 868.0M398.0 869.0L395.4 866.1M403.9 870.2L401.3 867.2M407.3 868.3L404.7 865.4M413.2 869.6L410.6 866.5M416.5 867.8L414.0 864.8M422.5 869.5L419.9 866.3M425.8 868.0L423.3 864.9M429.2 866.8L426.6 863.7" stroke="#ae76a3" stroke-width="0.6" fill="none"/>
<path d="M414.0 864.8L417.3 863.3M417.3 863.3L420.7 861.9M420.7 861.9L424.0 860.8M401.3 867.2L404.7 865.4M404.7 865.4L408.0 863.6M408.0 863.6L411.4 862.0M411.4 862.0L414.7 860.5M395.4 866.1L398.7 864.3M398.7 864.3L402.1 862.6M386.1 866.9L389.4 865.1M389.4 865.1L392.8 863.4M376.8 867.6L380.1 865.9M380.1 865.9L383.5 864.2M364.1 869.7L367.5 868.1M367.5 868.1L370.8 866.5M370.8 866.5L374.2 864.8M351.5 871.4L354.8 869.9M354.8 869.9L358.2 868.4M358.2 868.4L361.5 866.9M361.5 866.9L364.9 865.3M335.5 874.0L338.8 872.6M338.8 872.6L342.2 871.3M342.2 871.3L345.5 869.9M345.5 869.9L348.9 868.5M348.9 868.5L352.2 867.1M302.7 881.3L306.0 880.3M306.0 880.3L309.4 879.2M309.4 879.2L312.7 878.2M312.7 878.2L316.1 877.0M316.1 877.0L319.4 875.9M319.4 875.9L322.8 874.7M322.8 874.7L326.2 873.5M326.2 873.5L329.5 872.3M329.5 872.3L332.9 871.0M332.9 871.0L336.2 869.7M300.1 878.3L303.4 877.3M302.7 881.3L300.1 878.3M306.0 880.3L303.4 877.3M309.4 879.2L306.8 876.2M312.7 878.2L310.1 875.2M316.1 877.0L313.5 874.1M319.4 875.9L316.9 872.9M325.4 877.8L322.8 874.7M322.8 874.7L320.2 871.8M328.7 876.5L326.2 873.5M326.2 873.5L323.6 870.6M332.1 875.3L329.5 872.3M335.5 874.0L332.9 871.0M338.8 872.6L336.2 869.7M342.2 871.3L339.6 868.4M348.1 872.8L345.5 869.9M345.5 869.9L342.9 867.1M351.5 871.4L348.9 868.5M354.8 869.9L352.2 867.1M360.8 871.3L358.2 868.4M358.2 868.4L355.6 865.6M364.1 869.7L361.5 866.9M367.5 868.1L364.9 865.3M373.4 869.3L370.8 866.5M370.8 866.5L368.2 863.7M376.8 867.6L374.2 864.8M382.7 868.7L380.1 865.9M380.1 865.9L377.5 863.2M386.1 866.9L383.5 864.2M392.0 868.0L389.4 865.1M389.4 865.1L386.8 862.4M395.4 866.1L392.8 863.4M401.3 867.2L398.7 864.3M398.7 864.3L396.1 861.7M404.7 865.4L402.1 862.6M410.6 866.5L408.0 863.6M408.0 863.6L405.4 860.9M414.0 864.8L411.4 862.0M419.9 866.3L417.3 863.3M417.3 863.3L414.7 860.5M423.3 864.9L420.7 861.9M420.7 861.9L418.1 859.2M426.6 863.7L424.0 860.8M424.0 860.8L421.4 858.1" stroke="#b8739a" stroke-width="0.6" fill="none"/>
<path d="M414.7 860.5L418.1 859.2M418.1 859.2L421.4 858.1M402.1 862.6L405.4 860.9M405.4 860.9L408.8 859.4M408.8 859.4L412.1 858.0M412.1 858.0L415.5 856.7M415.5 856.7L418.9 855.5M392.8 863.4L396.1 861.7M396.1 861.7L399.5 860.0M399.5 860.0L402.8 858.4M402.8 858.4L406.2 856.9M383.5 864.2L386.8 862.4M386.8 862.4L390.2 860.8M390.2 860.8L393.5 859.1M393.5 859.1L396.9 857.5M374.2 864.8L377.5 863.2M377.5 863.2L380.9 861.5M380.9 861.5L384.3 859.9M384.3 859.9L387.6 858.2M364.9 865.3L368.2 863.7M368.2 863.7L371.6 862.1M371.6 862.1L375.0 860.6M375.0 860.6L378.3 859.0M352.2 867.1L355.6 865.6M355.6 865.6L358.9 864.1M358.9 864.1L362.3 862.6M362.3 862.6L365.7 861.1M336.2 869.7L339.6 868.4M339.6 868.4L342.9 867.1M342.9 867.1L346.3 865.7M346.3 865.7L349.6 864.3M349.6 864.3L353.0 862.9M353.0 862.9L356.4 861.4M303.4 877.3L306.8 876.2M306.8 876.2L310.1 875.2M310.1 875.2L313.5 874.1M313.5 874.1L316.9 872.9M316.9 872.9L320.2 871.8M320.2 871.8L323.6 870.6M323.6 870.6L326.9 869.4M326.9 869.4L330.3 868.1M330.3 868.1L333.6 866.9M333.6 866.9L337.0 865.6M337.0 865.6L340.3 864.3M297.5 875.3L300.8 874.3M300.8 874.3L304.2 873.3M304.2 873.3L307.6 872.2M307.6 872.2L310.9 871.1M310.9 871.1L314.3 870.0M314.3 870.0L317.6 868.9M300.1 878.3L297.5 875.3M303.4 877.3L300.8 874.3M306.8 876.2L304.2 873.3M310.1 875.2L307.6 872.2M313.5 874.1L310.9 871.1M316.9 872.9L314.3 870.0M320.2 871.8L317.6 868.9M323.6 870.6L321.0 867.7M329.5 872.3L326.9 869.4M326.9 869.4L324.3 866.5M332.9 871.0L330.3 868.1M330.3 868.1L327.7 865.3M336.2 869.7L333.6 866.9M339.6 868.4L337.0 865.6M342.9 867.1L340.3 864.3M348.9 868.5L346.3 865.7M346.3 865.7L343.7 862.9M352.2 867.1L349.6 864.3M349.6 864.3L347.1 861.6M355.6 865.6L353.0 862.9M361.5 866.9L358.9 864.1M358.9 864.1L356.4 861.4M364.9 865.3L362.3 862.6M362.3 862.6L359.7 860.0M368.2 863.7L365.7 861.1M374.2 864.8L371.6 862.1M371.6 862.1L369.0 859.6M377.5 863.2L375.0 860.6M383.5 864.2L380.9 861.5M380.9 861.5L378.3 859.0M386.8 862.4L384.3 859.9M392.8 863.4L390.2 860.8M390.2 860.8L387.6 858.2M396.1 861.7L393.5 859.1M402.1 862.6L399.5 860.0M399.5 860.0L396.9 857.5M405.4 860.9L402.8 858.4M411.4 862.0L408.8 859.4M408.8 859.4L406.2 856.9M414.7 860.5L412.1 858.0M412.1 858.0L409.6 855.5M418.1 859.2L415.5 856.7M421.4 858.1L418.9 855.5" stroke="#c17091" stroke-width="0.6" fill="none"/>
<path d="M406.2 856.9L409.6 855.5M409.6 855.5L412.9 854.2M412.9 854.2L416.3 853.1M396.9 857.5L400.3 856.0M400.3 856.0L403.6 854.5M403.6 854.5L407.0 853.1M407.0 853.1L410.3 851.9M410.3 851.9L413.7 850.8M387.6 858.2L391.0 856.7M391.0 856.7L394.3 855.1M394.3 855.1L397.7 853.6M397.7 853.6L401.0 852.2M378.3 859.0L381.7 857.4M381.7 857.4L385.0 855.8M385.0 855.8L388.4 854.3M365.7 861.1L369.0 859.6M369.0 859.6L372.4 858.0M372.4 858.0L375.7 856.5M375.7 856.5L379.1 855.0M356.4 861.4L359.7 860.0M359.7 860.0L363.1 858.5M363.1 858.5L366.4 857.1M366.4 857.1L369.8 855.6M340.3 864.3L343.7 862.9M343.7 862.9L347.1 861.6M347.1 861.6L350.4 860.2M350.4 860.2L353.8 858.8M353.8 858.8L357.1 857.4M357.1 857.4L360.5 856.0M317.6 868.9L321.0 867.7M321.0 867.7L324.3 866.5M324.3 866.5L327.7 865.3M327.7 865.3L331.0 864.1M331.0 864.1L334.4 862.8M334.4 862.8L337.8 861.6M337.8 861.6L341.1 860.3M341.1 860.3L344.5 859.0M294.9 872.4L298.3 871.4M298.3 871.4L301.6 870.4M301.6 870.4L305.0 869.3M305.0 869.3L308.3 868.3M308.3 868.3L311.7 867.2M311.7 867.2L315.0 866.0M315.0 866.0L318.4 864.9M318.4 864.9L321.8 863.7M321.8 863.7L325.1 862.6M297.5 875.3L294.9 872.4M294.9 872.4L292.3 869.6M300.8 874.3L298.3 871.4M298.3 871.4L295.7 868.6M304.2 873.3L301.6 870.4M301.6 870.4L299.0 867.5M307.6 872.2L305.0 869.3M305.0 869.3L302.4 866.5M310.9 871.1L308.3 868.3M314.3 870.0L311.7 867.2M317.6 868.9L315.0 866.0M321.0 867.7L318.4 864.9M324.3 866.5L321.8 863.7M327.7 865.3L325.1 862.6M333.6 866.9L331.0 864.1M331.0 864.1L328.5 861.4M337.0 865.6L334.4 862.8M334.4 862.8L331.8 860.1M340.3 864.3L337.8 861.6M337.8 861.6L335.2 858.9M343.7 862.9L341.1 860.3M347.1 861.6L344.5 859.0M353.0 862.9L350.4 860.2M350.4 860.2L347.8 857.6M356.4 861.4L353.8 858.8M353.8 858.8L351.2 856.3M359.7 860.0L357.1 857.4M365.7 861.1L363.1 858.5M363.1 858.5L360.5 856.0M369.0 859.6L366.4 857.1M366.4 857.1L363.8 854.6M375.0 860.6L372.4 858.0M372.4 858.0L369.8 855.6M378.3 859.0L375.7 856.5M375.7 856.5L373.1 854.1M384.3 859.9L381.7 857.4M381.7 857.4L379.1 855.0M387.6 858.2L385.0 855.8M385.0 855.8L382.4 853.5M393.5 859.1L391.0 856.7M391.0 856.7L388.4 854.3M396.9 857.5L394.3 855.1M394.3 855.1L391.7 852.8M402.8 858.4L400.3 856.0M400.3 856.0L397.7 853.6M406.2 856.9L403.6 854.5M403.6 854.5L401.0 852.2M409.6 855.5L407.0 853.1M415.5 856.7L412.9 854.2M412.9 854.2L410.3 851.9M418.9 855.5L416.3 853.1M416.3 853.1L413.7 850.8" stroke="#ca6c88" stroke-width="0.6" fill="none"/>
<path d="M401.0 852.2L404.4 850.9M404.4 850.9L407.7 849.6M407.7 849.6L411.1 848.5M388.4 854.3L391.7 852.8M391.7 852.8L395.1 851.3M395.1 851.3L398.4 850.0M398.4 850.0L401.8 848.7M401.8 848.7L405.2 847.5M405.2 847.5L408.5 846.4M379.1 855.0L382.4 853.5M382.4 853.5L385.8 852.0M385.8 852.0L389.1 850.5M389.1 850.5L392.5 849.1M392.5 849.1L395.9 847.8M369.8 855.6L373.1 854.1M373.1 854.1L376.5 852.6M376.5 852.6L379.8 851.2M379.8 851.2L383.2 849.7M383.2 849.7L386.6 848.3M360.5 856.0L363.8 854.6M363.8 854.6L367.2 853.2M367.2 853.2L370.5 851.8M370.5 851.8L373.9 850.3M373.9 850.3L377.3 848.9M344.5 859.0L347.8 857.6M347.8 857.6L351.2 856.3M351.2 856.3L354.5 854.9M354.5 854.9L357.9 853.6M357.9 853.6L361.3 852.2M361.3 852.2L364.6 850.8M325.1 862.6L328.5 861.4M328.5 861.4L331.8 860.1M331.8 860.1L335.2 858.9M335.2 858.9L338.5 857.6M338.5 857.6L341.9 856.4M341.9 856.4L345.2 855.1M345.2 855.1L348.6 853.8M348.6 853.8L352.0 852.5M292.3 869.6L295.7 868.6M295.7 868.6L299.0 867.5M299.0 867.5L302.4 866.5M302.4 866.5L305.7 865.4M305.7 865.4L309.1 864.3M309.1 864.3L312.5 863.2M312.5 863.2L315.8 862.1M315.8 862.1L319.2 861.0M319.2 861.0L322.5 859.8M322.5 859.8L325.9 858.7M325.9 858.7L329.2 857.5M329.2 857.5L332.6 856.3M332.6 856.3L335.9 855.1M292.3 869.6L289.7 866.8M295.7 868.6L293.1 865.7M299.0 867.5L296.4 864.7M302.4 866.5L299.8 863.7M308.3 868.3L305.7 865.4M305.7 865.4L303.2 862.6M311.7 867.2L309.1 864.3M309.1 864.3L306.5 861.6M315.0 866.0L312.5 863.2M312.5 863.2L309.9 860.5M318.4 864.9L315.8 862.1M315.8 862.1L313.2 859.4M321.8 863.7L319.2 861.0M319.2 861.0L316.6 858.3M325.1 862.6L322.5 859.8M322.5 859.8L319.9 857.1M328.5 861.4L325.9 858.7M331.8 860.1L329.2 857.5M335.2 858.9L332.6 856.3M341.1 860.3L338.5 857.6M338.5 857.6L335.9 855.1M344.5 859.0L341.9 856.4M341.9 856.4L339.3 853.8M347.8 857.6L345.2 855.1M345.2 855.1L342.7 852.6M351.2 856.3L348.6 853.8M357.1 857.4L354.5 854.9M354.5 854.9L352.0 852.5M360.5 856.0L357.9 853.6M357.9 853.6L355.3 851.2M363.8 854.6L361.3 852.2M369.8 855.6L367.2 853.2M367.2 853.2L364.6 850.8M373.1 854.1L370.5 851.8M370.5 851.8L368.0 849.5M379.1 855.0L376.5 852.6M376.5 852.6L373.9 850.3M382.4 853.5L379.8 851.2M379.8 851.2L377.3 848.9M388.4 854.3L385.8 852.0M385.8 852.0L383.2 849.7M391.7 852.8L389.1 850.5M389.1 850.5L386.6 848.3M397.7 853.6L395.1 851.3M395.1 851.3L392.5 849.1M392.5 849.1L389.9 847.0M401.0 852.2L398.4 850.0M398.4 850.0L395.9 847.8M407.0 853.1L404.4 850.9M404.4 850.9L401.8 848.7M401.8 848.7L399.2 846.5M410.3 851.9L407.7 849.6M407.7 849.6L405.2 847.5M405.2 847.5L402.6 845.4M413.7 850.8L411.1 848.5M411.1 848.5L408.5 846.4" stroke="#d3687f" stroke-width="0.6" fill="none"/>
<path d="M395.9 847.8L399.2 846.5M399.2 846.5L402.6 845.4M402.6 845.4L405.9 844.3M386.6 848.3L389.9 847.0M389.9 847.0L393.3 845.7M393.3 845.7L396.6 844.5M396.6 844.5L400.0 843.3M400.0 843.3L403.3 842.2M377.3 848.9L380.6 847.6M380.6 847.6L384.0 846.2M384.0 846.2L387.3 844.9M387.3 844.9L390.7 843.6M390.7 843.6L394.0 842.4M394.0 842.4L397.4 841.3M397.4 841.3L400.7 840.2M364.6 850.8L368.0 849.5M368.0 849.5L371.3 848.1M371.3 848.1L374.7 846.7M374.7 846.7L378.0 845.4M378.0 845.4L381.4 844.1M381.4 844.1L384.7 842.8M352.0 852.5L355.3 851.2M355.3 851.2L358.7 849.9M358.7 849.9L362.0 848.5M362.0 848.5L365.4 847.2M365.4 847.2L368.7 845.9M368.7 845.9L372.1 844.6M372.1 844.6L375.4 843.3M335.9 855.1L339.3 853.8M339.3 853.8L342.7 852.6M342.7 852.6L346.0 851.3M346.0 851.3L349.4 850.1M349.4 850.1L352.7 848.8M352.7 848.8L356.1 847.5M356.1 847.5L359.4 846.3M359.4 846.3L362.8 845.0M289.7 866.8L293.1 865.7M293.1 865.7L296.4 864.7M296.4 864.7L299.8 863.7M299.8 863.7L303.2 862.6M303.2 862.6L306.5 861.6M306.5 861.6L309.9 860.5M309.9 860.5L313.2 859.4M313.2 859.4L316.6 858.3M316.6 858.3L319.9 857.1M319.9 857.1L323.3 856.0M323.3 856.0L326.6 854.9M326.6 854.9L330.0 853.7M330.0 853.7L333.4 852.5M333.4 852.5L336.7 851.3M336.7 851.3L340.1 850.1M340.1 850.1L343.4 848.9M343.4 848.9L346.8 847.7M287.1 864.0L290.5 863.0M290.5 863.0L293.9 861.9M293.9 861.9L297.2 860.9M297.2 860.9L300.6 859.9M300.6 859.9L303.9 858.8M303.9 858.8L307.3 857.8M307.3 857.8L310.6 856.7M310.6 856.7L314.0 855.6M314.0 855.6L317.3 854.5M289.7 866.8L287.1 864.0M293.1 865.7L290.5 863.0M296.4 864.7L293.9 861.9M299.8 863.7L297.2 860.9M303.2 862.6L300.6 859.9M306.5 861.6L303.9 858.8M309.9 860.5L307.3 857.8M313.2 859.4L310.6 856.7M316.6 858.3L314.0 855.6M319.9 857.1L317.3 854.5M325.9 858.7L323.3 856.0M323.3 856.0L320.7 853.4M329.2 857.5L326.6 854.9M326.6 854.9L324.1 852.3M332.6 856.3L330.0 853.7M330.0 853.7L327.4 851.1M335.9 855.1L333.4 852.5M333.4 852.5L330.8 850.0M339.3 853.8L336.7 851.3M342.7 852.6L340.1 850.1M348.6 853.8L346.0 851.3M346.0 851.3L343.4 848.9M352.0 852.5L349.4 850.1M349.4 850.1L346.8 847.7M355.3 851.2L352.7 848.8M352.7 848.8L350.1 846.5M361.3 852.2L358.7 849.9M358.7 849.9L356.1 847.5M364.6 850.8L362.0 848.5M362.0 848.5L359.4 846.3M368.0 849.5L365.4 847.2M365.4 847.2L362.8 845.0M373.9 850.3L371.3 848.1M371.3 848.1L368.7 845.9M368.7 845.9L366.1 843.7M377.3 848.9L374.7 846.7M374.7 846.7L372.1 844.6M383.2 849.7L380.6 847.6M380.6 847.6L378.0 845.4M378.0 845.4L375.4 843.3M386.6 848.3L384.0 846.2M384.0 846.2L381.4 844.1M381.4 844.1L378.8 842.0M389.9 847.0L387.3 844.9M387.3 844.9L384.7 842.8M395.9 847.8L393.3 845.7M393.3 845.7L390.7 843.6M390.7 843.6L388.1 841.6M399.2 846.5L396.6 844.5M396.6 844.5L394.0 842.4M394.0 842.4L391.5 840.4M402.6 845.4L400.0 843.3M400.0 843.3L397.4 841.3M408.5 846.4L405.9 844.3M405.9 844.3L403.3 842.2M403.3 842.2L400.7 840.2" stroke="#d8677a" stroke-width="0.6" fill="none"/>
<path d="M384.7 842.8L388.1 841.6M388.1 841.6L391.5 840.4M391.5 840.4L394.8 839.3M394.8 839.3L398.2 838.2M375.4 843.3L378.8 842.0M378.8 842.0L382.2 840.8M382.2 840.8L385.5 839.6M385.5 839.6L388.9 838.4M388.9 838.4L392.2 837.3M392.2 837.3L395.6 836.3M362.8 845.0L366.1 843.7M366.1 843.7L369.5 842.5M369.5 842.5L372.9 841.2M372.9 841.2L376.2 840.0M376.2 840.0L379.6 838.8M379.6 838.8L382.9 837.6M382.9 837.6L386.3 836.5M386.3 836.5L389.6 835.4M389.6 835.4L393.0 834.4M346.8 847.7L350.1 846.5M350.1 846.5L353.5 845.3M353.5 845.3L356.8 844.0M356.8 844.0L360.2 842.8M360.2 842.8L363.6 841.6M363.6 841.6L366.9 840.4M366.9 840.4L370.3 839.2M370.3 839.2L373.6 838.0M373.6 838.0L377.0 836.8M377.0 836.8L380.3 835.7M317.3 854.5L320.7 853.4M320.7 853.4L324.1 852.3M324.1 852.3L327.4 851.1M327.4 851.1L330.8 850.0M330.8 850.0L334.1 848.8M334.1 848.8L337.5 847.7M337.5 847.7L340.8 846.5M340.8 846.5L344.2 845.3M344.2 845.3L347.5 844.2M347.5 844.2L350.9 843.0M350.9 843.0L354.3 841.8M354.3 841.8L357.6 840.6M357.6 840.6L361.0 839.5M284.6 861.2L287.9 860.2M287.9 860.2L291.3 859.2M291.3 859.2L294.6 858.2M294.6 858.2L298.0 857.1M298.0 857.1L301.3 856.1M301.3 856.1L304.7 855.1M304.7 855.1L308.0 854.0M308.0 854.0L311.4 852.9M311.4 852.9L314.8 851.9M314.8 851.9L318.1 850.8M318.1 850.8L321.5 849.7M321.5 849.7L324.8 848.6M324.8 848.6L328.2 847.5M328.2 847.5L331.5 846.4M331.5 846.4L334.9 845.3M334.9 845.3L338.3 844.1M287.1 864.0L284.6 861.2M284.6 861.2L282.0 858.5M290.5 863.0L287.9 860.2M287.9 860.2L285.3 857.5M293.9 861.9L291.3 859.2M291.3 859.2L288.7 856.5M297.2 860.9L294.6 858.2M294.6 858.2L292.0 855.4M300.6 859.9L298.0 857.1M298.0 857.1L295.4 854.4M303.9 858.8L301.3 856.1M301.3 856.1L298.8 853.4M307.3 857.8L304.7 855.1M304.7 855.1L302.1 852.4M310.6 856.7L308.0 854.0M308.0 854.0L305.5 851.3M314.0 855.6L311.4 852.9M311.4 852.9L308.8 850.3M317.3 854.5L314.8 851.9M314.8 851.9L312.2 849.2M320.7 853.4L318.1 850.8M318.1 850.8L315.5 848.2M324.1 852.3L321.5 849.7M327.4 851.1L324.8 848.6M330.8 850.0L328.2 847.5M336.7 851.3L334.1 848.8M334.1 848.8L331.5 846.4M340.1 850.1L337.5 847.7M337.5 847.7L334.9 845.3M343.4 848.9L340.8 846.5M340.8 846.5L338.3 844.1M346.8 847.7L344.2 845.3M344.2 845.3L341.6 843.0M350.1 846.5L347.5 844.2M347.5 844.2L345.0 841.9M356.1 847.5L353.5 845.3M353.5 845.3L350.9 843.0M350.9 843.0L348.3 840.7M359.4 846.3L356.8 844.0M356.8 844.0L354.3 841.8M362.8 845.0L360.2 842.8M360.2 842.8L357.6 840.6M366.1 843.7L363.6 841.6M363.6 841.6L361.0 839.5M372.1 844.6L369.5 842.5M369.5 842.5L366.9 840.4M366.9 840.4L364.3 838.3M375.4 843.3L372.9 841.2M372.9 841.2L370.3 839.2M370.3 839.2L367.7 837.1M378.8 842.0L376.2 840.0M376.2 840.0L373.6 838.0M384.7 842.8L382.2 840.8M382.2 840.8L379.6 838.8M379.6 838.8L377.0 836.8M388.1 841.6L385.5 839.6M385.5 839.6L382.9 837.6M382.9 837.6L380.3 835.7M391.5 840.4L388.9 838.4M388.9 838.4L386.3 836.5M386.3 836.5L383.7 834.6M397.4 841.3L394.8 839.3M394.8 839.3L392.2 837.3M392.2 837.3L389.6 835.4M389.6 835.4L387.0 833.5M400.7 840.2L398.2 838.2M398.2 838.2L395.6 836.3M395.6 836.3L393.0 834.4M393.0 834.4L390.4 832.5" stroke="#df6575" stroke-width="0.6" fill="none"/>
<path d="M380.3 835.7L383.7 834.6M383.7 834.6L387.0 833.5M387.0 833.5L390.4 832.5M361.0 839.5L364.3 838.3M364.3 838.3L367.7 837.1M367.7 837.1L371.0 836.0M371.0 836.0L374.4 834.9M374.4 834.9L377.7 833.7M377.7 833.7L381.1 832.7M381.1 832.7L384.5 831.6M384.5 831.6L387.8 830.6M338.3 844.1L341.6 843.0M341.6 843.0L345.0 841.9M345.0 841.9L348.3 840.7M348.3 840.7L351.7 839.6M351.7 839.6L355.0 838.5M355.0 838.5L358.4 837.4M358.4 837.4L361.7 836.2M361.7 836.2L365.1 835.1M365.1 835.1L368.5 834.0M368.5 834.0L371.8 832.9M371.8 832.9L375.2 831.8M375.2 831.8L378.5 830.8M378.5 830.8L381.9 829.7M381.9 829.7L385.2 828.7M282.0 858.5L285.3 857.5M285.3 857.5L288.7 856.5M288.7 856.5L292.0 855.4M292.0 855.4L295.4 854.4M295.4 854.4L298.8 853.4M298.8 853.4L302.1 852.4M302.1 852.4L305.5 851.3M305.5 851.3L308.8 850.3M308.8 850.3L312.2 849.2M312.2 849.2L315.5 848.2M315.5 848.2L318.9 847.1M318.9 847.1L322.2 846.1M322.2 846.1L325.6 845.0M325.6 845.0L329.0 843.9M329.0 843.9L332.3 842.9M332.3 842.9L335.7 841.8M335.7 841.8L339.0 840.7M339.0 840.7L342.4 839.6M342.4 839.6L345.7 838.5M345.7 838.5L349.1 837.4M349.1 837.4L352.4 836.3M352.4 836.3L355.8 835.3M355.8 835.3L359.2 834.2M359.2 834.2L362.5 833.1M362.5 833.1L365.9 832.0M365.9 832.0L369.2 831.0M369.2 831.0L372.6 829.9M372.6 829.9L375.9 828.9M375.9 828.9L379.3 827.9M379.3 827.9L382.6 826.8M279.4 855.7L282.7 854.7M282.7 854.7L286.1 853.7M286.1 853.7L289.5 852.7M289.5 852.7L292.8 851.7M292.8 851.7L296.2 850.7M296.2 850.7L299.5 849.7M299.5 849.7L302.9 848.7M302.9 848.7L306.2 847.7M306.2 847.7L309.6 846.6M309.6 846.6L312.9 845.6M312.9 845.6L316.3 844.6M316.3 844.6L319.7 843.6M319.7 843.6L323.0 842.5M323.0 842.5L326.4 841.5M326.4 841.5L329.7 840.5M329.7 840.5L333.1 839.4M282.0 858.5L279.4 855.7M285.3 857.5L282.7 854.7M288.7 856.5L286.1 853.7M292.0 855.4L289.5 852.7M295.4 854.4L292.8 851.7M298.8 853.4L296.2 850.7M302.1 852.4L299.5 849.7M305.5 851.3L302.9 848.7M308.8 850.3L306.2 847.7M312.2 849.2L309.6 846.6M315.5 848.2L312.9 845.6M321.5 849.7L318.9 847.1M318.9 847.1L316.3 844.6M324.8 848.6L322.2 846.1M322.2 846.1L319.7 843.6M328.2 847.5L325.6 845.0M325.6 845.0L323.0 842.5M331.5 846.4L329.0 843.9M329.0 843.9L326.4 841.5M334.9 845.3L332.3 842.9M332.3 842.9L329.7 840.5M338.3 844.1L335.7 841.8M335.7 841.8L333.1 839.4M341.6 843.0L339.0 840.7M339.0 840.7L336.4 838.4M345.0 841.9L342.4 839.6M342.4 839.6L339.8 837.3M348.3 840.7L345.7 838.5M345.7 838.5L343.1 836.3M354.3 841.8L351.7 839.6M351.7 839.6L349.1 837.4M349.1 837.4L346.5 835.3M357.6 840.6L355.0 838.5M355.0 838.5L352.4 836.3M352.4 836.3L349.9 834.2M361.0 839.5L358.4 837.4M358.4 837.4L355.8 835.3M355.8 835.3L353.2 833.2M364.3 838.3L361.7 836.2M361.7 836.2L359.2 834.2M359.2 834.2L356.6 832.1M367.7 837.1L365.1 835.1M365.1 835.1L362.5 833.1M362.5 833.1L359.9 831.1M373.6 838.0L371.0 836.0M371.0 836.0L368.5 834.0M368.5 834.0L365.9 832.0M377.0 836.8L374.4 834.9M374.4 834.9L371.8 832.9M371.8 832.9L369.2 831.0M380.3 835.7L377.7 833.7M377.7 833.7L375.2 831.8M375.2 831.8L372.6 829.9M383.7 834.6L381.1 832.7M381.1 832.7L378.5 830.8M378.5 830.8L375.9 828.9M387.0 833.5L384.5 831.6M384.5 831.6L381.9 829.7M381.9 829.7L379.3 827.9M390.4 832.5L387.8 830.6M387.8 830.6L385.2 828.7M385.2 828.7L382.6 826.8" stroke="#e56370" stroke-width="0.6" fill="none"/>
<path d="M333.1 839.4L336.4 838.4M336.4 838.4L339.8 837.3M339.8 837.3L343.1 836.3M343.1 836.3L346.5 835.3M346.5 835.3L349.9 834.2M349.9 834.2L353.2 833.2M353.2 833.2L356.6 832.1M356.6 832.1L359.9 831.1M359.9 831.1L363.3 830.1M363.3 830.1L366.6 829.0M366.6 829.0L370.0 828.0M370.0 828.0L373.3 827.0M373.3 827.0L376.7 826.0M376.7 826.0L380.1 825.0M276.8 853.0L280.2 852.0M280.2 852.0L283.5 851.0M283.5 851.0L286.9 850.0M286.9 850.0L290.2 849.0M290.2 849.0L293.6 848.0M293.6 848.0L296.9 847.0M296.9 847.0L300.3 846.0M300.3 846.0L303.6 845.0M303.6 845.0L307.0 844.0M307.0 844.0L310.4 843.0M310.4 843.0L313.7 842.0M313.7 842.0L317.1 841.1M317.1 841.1L320.4 840.1M320.4 840.1L323.8 839.1M323.8 839.1L327.1 838.1M327.1 838.1L330.5 837.1M330.5 837.1L333.8 836.1M333.8 836.1L337.2 835.1M337.2 835.1L340.6 834.1M340.6 834.1L343.9 833.1M343.9 833.1L347.3 832.1M347.3 832.1L350.6 831.1M350.6 831.1L354.0 830.1M354.0 830.1L357.3 829.1M357.3 829.1L360.7 828.1M360.7 828.1L364.0 827.1M364.0 827.1L367.4 826.1M367.4 826.1L370.8 825.1M370.8 825.1L374.1 824.1M374.1 824.1L377.5 823.1M279.4 855.7L276.8 853.0M282.7 854.7L280.2 852.0M286.1 853.7L283.5 851.0M289.5 852.7L286.9 850.0M292.8 851.7L290.2 849.0M296.2 850.7L293.6 848.0M299.5 849.7L296.9 847.0M302.9 848.7L300.3 846.0M306.2 847.7L303.6 845.0M309.6 846.6L307.0 844.0M312.9 845.6L310.4 843.0M316.3 844.6L313.7 842.0M319.7 843.6L317.1 841.1M323.0 842.5L320.4 840.1M326.4 841.5L323.8 839.1M329.7 840.5L327.1 838.1M333.1 839.4L330.5 837.1M336.4 838.4L333.8 836.1M339.8 837.3L337.2 835.1M343.1 836.3L340.6 834.1M346.5 835.3L343.9 833.1M349.9 834.2L347.3 832.1M353.2 833.2L350.6 831.1M356.6 832.1L354.0 830.1M359.9 831.1L357.3 829.1M365.9 832.0L363.3 830.1M363.3 830.1L360.7 828.1M369.2 831.0L366.6 829.0M366.6 829.0L364.0 827.1M372.6 829.9L370.0 828.0M370.0 828.0L367.4 826.1M375.9 828.9L373.3 827.0M373.3 827.0L370.8 825.1M379.3 827.9L376.7 826.0M376.7 826.0L374.1 824.1M382.6 826.8L380.1 825.0M380.1 825.0L377.5 823.1" stroke="#eb626b" stroke-width="0.6" fill="none"/>
<line x1="276.8" y1="936.6" x2="276.8" y2="853" stroke="#7A7A7A" stroke-width="0.9" stroke-linecap="butt"/>
<line x1="354.4" y1="975.5" x2="276.8" y2="936.6" stroke="#7A7A7A" stroke-width="0.9" stroke-linecap="butt"/>
<line x1="354.4" y1="975.5" x2="456.2" y2="945.3" stroke="#7A7A7A" stroke-width="0.9" stroke-linecap="butt"/>
<line x1="276.8" y1="936.6" x2="274.8" y2="936.6" stroke="#7A7A7A" stroke-width="0.8" stroke-linecap="butt"/>
<text x="271.3" y="938.7" font-size="10.5" fill="#2b2b2b" font-weight="normal" font-style="normal" text-anchor="end" >0</text>
<line x1="276.8" y1="908.73" x2="274.8" y2="908.73" stroke="#7A7A7A" stroke-width="0.8" stroke-linecap="butt"/>
<text x="271.3" y="910.83" font-size="10.5" fill="#2b2b2b" font-weight="normal" font-style="normal" text-anchor="end" >30</text>
<line x1="276.8" y1="880.87" x2="274.8" y2="880.87" stroke="#7A7A7A" stroke-width="0.8" stroke-linecap="butt"/>
<text x="271.3" y="882.97" font-size="10.5" fill="#2b2b2b" font-weight="normal" font-style="normal" text-anchor="end" >60</text>
<line x1="276.8" y1="853" x2="274.8" y2="853" stroke="#7A7A7A" stroke-width="0.8" stroke-linecap="butt"/>
<text x="271.3" y="855.1" font-size="10.5" fill="#2b2b2b" font-weight="normal" font-style="normal" text-anchor="end" >90</text>
<line x1="328.53" y1="962.53" x2="330.43" y2="961.93" stroke="#7A7A7A" stroke-width="0.8" stroke-linecap="butt"/>
<line x1="388.33" y1="965.43" x2="386.83" y2="964.63" stroke="#7A7A7A" stroke-width="0.8" stroke-linecap="butt"/>
<line x1="302.67" y1="949.57" x2="304.57" y2="948.97" stroke="#7A7A7A" stroke-width="0.8" stroke-linecap="butt"/>
<line x1="422.27" y1="955.37" x2="420.77" y2="954.57" stroke="#7A7A7A" stroke-width="0.8" stroke-linecap="butt"/>
<text x="265" y="949.3" font-size="10.5" fill="#2b2b2b" font-weight="normal" font-style="normal" text-anchor="middle" >90</text>
<text x="290.9" y="962.4" font-size="10.5" fill="#2b2b2b" font-weight="normal" font-style="normal" text-anchor="middle" >60</text>
<text x="316.8" y="975.2" font-size="10.5" fill="#2b2b2b" font-weight="normal" font-style="normal" text-anchor="middle" >30</text>
<text x="363.5" y="989.1" font-size="10.5" fill="#2b2b2b" font-weight="normal" font-style="normal" text-anchor="middle" >0</text>
<text x="400" y="978.9" font-size="10.5" fill="#2b2b2b" font-weight="normal" font-style="normal" text-anchor="middle" >30</text>
<text x="433.7" y="969.3" font-size="10.5" fill="#2b2b2b" font-weight="normal" font-style="normal" text-anchor="middle" >60</text>
<text x="467.7" y="959.6" font-size="10.5" fill="#2b2b2b" font-weight="normal" font-style="normal" text-anchor="middle" >90</text>
<text x="272.35" y="984.7" font-size="11.59" fill="#2b2b2b" font-weight="normal" font-style="italic" textLength="7.8" lengthAdjust="spacingAndGlyphs" >ϕ</text>
<text x="285.78" y="984.86" font-size="10.84" fill="#2b2b2b" font-weight="normal" font-style="normal" textLength="15.73" lengthAdjust="spacingAndGlyphs" >(°)</text>
<text x="416.64" y="984.9" font-size="10.49" fill="#2b2b2b" font-weight="normal" font-style="italic" textLength="7.28" lengthAdjust="spacingAndGlyphs" >θ</text>
<text x="429.78" y="984.71" font-size="11.06" fill="#2b2b2b" font-weight="normal" font-style="normal" textLength="14.15" lengthAdjust="spacingAndGlyphs" >(°)</text>
<text x="-905.8" y="254.8" font-size="11" fill="#2b2b2b" textLength="22.2" lengthAdjust="spacingAndGlyphs" transform="rotate(-90)"><tspan font-style="italic">β</tspan>  (°)</text>
<defs><linearGradient id="cb1" x1="0" y1="0" x2="0" y2="1"><stop offset="0" stop-color="#e21e2c"/><stop offset="0.1" stop-color="#c02848"/><stop offset="0.2" stop-color="#8c3c7c"/><stop offset="0.3" stop-color="#5254a8"/><stop offset="0.4" stop-color="#3c6cc4"/><stop offset="0.55" stop-color="#3480b8"/><stop offset="0.7" stop-color="#3292a4"/><stop offset="0.85" stop-color="#38a080"/><stop offset="1" stop-color="#40a850"/></linearGradient></defs>
<rect x="476.2" y="828.2" width="10.4" height="153" fill="url(#cb1)"/>
<text x="489.4" y="832.7" font-size="10.5" fill="#2b2b2b" font-weight="normal" font-style="normal" text-anchor="start" >90</text>
<text x="489.4" y="883.9" font-size="10.5" fill="#2b2b2b" font-weight="normal" font-style="normal" text-anchor="start" >60</text>
<text x="489.4" y="935.1" font-size="10.5" fill="#2b2b2b" font-weight="normal" font-style="normal" text-anchor="start" >30</text>
<text x="489.4" y="986.3" font-size="10.5" fill="#2b2b2b" font-weight="normal" font-style="normal" text-anchor="start" >0</text>
<line x1="568.43" y1="928.57" x2="568.43" y2="842.27" stroke="#E4E4E4" stroke-width="0.8" stroke-linecap="butt"/>
<line x1="694.17" y1="934.63" x2="694.17" y2="848.34" stroke="#E4E4E4" stroke-width="0.8" stroke-linecap="butt"/>
<line x1="586.37" y1="965.03" x2="694.17" y2="934.63" stroke="#E4E4E4" stroke-width="0.8" stroke-linecap="butt"/>
<line x1="649.23" y1="968.07" x2="568.43" y2="928.57" stroke="#E4E4E4" stroke-width="0.8" stroke-linecap="butt"/>
<line x1="604.37" y1="918.43" x2="604.37" y2="832.14" stroke="#E4E4E4" stroke-width="0.8" stroke-linecap="butt"/>
<line x1="667.23" y1="921.47" x2="667.23" y2="835.17" stroke="#E4E4E4" stroke-width="0.8" stroke-linecap="butt"/>
<line x1="559.43" y1="951.87" x2="667.23" y2="921.47" stroke="#E4E4E4" stroke-width="0.8" stroke-linecap="butt"/>
<line x1="685.17" y1="957.93" x2="604.37" y2="918.43" stroke="#E4E4E4" stroke-width="0.8" stroke-linecap="butt"/>
<line x1="532.5" y1="926.61" x2="640.3" y2="896.21" stroke="#E4E4E4" stroke-width="0.8" stroke-linecap="butt"/>
<line x1="721.1" y1="935.71" x2="640.3" y2="896.21" stroke="#E4E4E4" stroke-width="0.8" stroke-linecap="butt"/>
<line x1="532.5" y1="889.51" x2="640.3" y2="859.11" stroke="#E4E4E4" stroke-width="0.8" stroke-linecap="butt"/>
<line x1="721.1" y1="898.61" x2="640.3" y2="859.11" stroke="#E4E4E4" stroke-width="0.8" stroke-linecap="butt"/>
<line x1="640.3" y1="908.3" x2="640.3" y2="822.01" stroke="#E4E4E4" stroke-width="0.8" stroke-linecap="butt"/>
<line x1="721.1" y1="947.8" x2="721.1" y2="861.51" stroke="#E4E4E4" stroke-width="0.8" stroke-linecap="butt"/>
<line x1="532.5" y1="852.41" x2="640.3" y2="822.01" stroke="#E4E4E4" stroke-width="0.8" stroke-linecap="butt"/>
<line x1="721.1" y1="861.51" x2="640.3" y2="822.01" stroke="#E4E4E4" stroke-width="0.8" stroke-linecap="butt"/>
<line x1="532.5" y1="938.7" x2="640.3" y2="908.3" stroke="#E4E4E4" stroke-width="0.8" stroke-linecap="butt"/>
<line x1="721.1" y1="947.8" x2="640.3" y2="908.3" stroke="#E4E4E4" stroke-width="0.8" stroke-linecap="butt"/>
<polygon points="610.61,944.99 614.2,944.03 617.79,943.2 621.39,942.49 624.98,941.91 628.57,941.43 632.17,941.08 635.76,940.84 639.35,940.7 642.95,940.67 646.54,940.74 650.13,940.9 653.73,941.15 657.32,941.47 660.91,941.87 664.51,942.33 668.1,942.84 671.69,943.39 675.29,943.96 678.88,944.54 682.47,945.12 686.07,945.67 689.66,946.16 693.25,946.59 696.85,946.91 700.44,947.1 704.03,947.13 707.63,946.97 711.22,946.59 714.81,945.96 714.81,945.96 712.12,943.39 709.43,940.11 706.73,936.27 704.04,932.02 701.35,927.48 698.65,922.74 695.96,917.89 693.27,912.98 690.57,908.06 687.88,903.17 685.19,898.33 682.49,893.58 679.8,888.94 677.11,884.42 674.41,880.04 671.72,875.82 669.03,871.76 666.33,867.89 663.64,864.2 660.95,860.72 658.25,857.44 655.56,854.38 652.87,851.53 650.17,848.91 647.48,846.53 644.79,844.37 642.09,842.46 639.4,840.78 636.71,839.34 636.71,839.34 633.11,840.36 629.52,841.37 625.93,842.38 622.33,843.4 618.74,844.41 615.15,845.42 611.55,846.44 607.96,847.45 604.37,848.46 600.77,849.48 597.18,850.49 593.59,851.5 589.99,852.52 586.4,853.53 582.81,854.54 579.21,855.56 575.62,856.57 572.03,857.58 568.43,858.6 564.84,859.61 561.25,860.62 557.65,861.64 554.06,862.65 550.47,863.66 546.87,864.68 543.28,865.69 539.69,866.7 536.09,867.72 532.5,868.73 532.5,868.73 535.19,870.13 537.89,871.7 540.58,873.43 543.27,875.32 545.97,877.38 548.66,879.59 551.35,881.95 554.05,884.45 556.74,887.09 559.43,889.86 562.13,892.75 564.82,895.74 567.51,898.82 570.21,901.99 572.9,905.22 575.59,908.5 578.29,911.8 580.98,915.12 583.67,918.42 586.37,921.69 589.06,924.89 591.75,928.01 594.45,931.01 597.14,933.86 599.83,936.53 602.53,939.01 605.22,941.26 607.91,943.25 610.61,944.99" fill="#fff" stroke="none" stroke-width="0" stroke-linejoin="round"/>
<path d="M711.2 946.6L714.8 946.0" stroke="#79c284" stroke-width="0.6" fill="none"/>
<path d="M704.0 947.1L707.6 947.0M707.6 947.0L711.2 946.6M704.9 944.4L708.5 944.0M708.5 944.0L712.1 943.4M707.6 947.0L704.9 944.4M711.2 946.6L708.5 944.0M714.8 946.0L712.1 943.4" stroke="#79c18a" stroke-width="0.6" fill="none"/>
<path d="M696.8 946.9L700.4 947.1M700.4 947.1L704.0 947.1M697.7 944.7L701.3 944.7M701.3 944.7L704.9 944.4M705.8 940.8L709.4 940.1M700.4 947.1L697.7 944.7M704.0 947.1L701.3 944.7M704.9 944.4L702.2 941.2M708.5 944.0L705.8 940.8M712.1 943.4L709.4 940.1" stroke="#77c090" stroke-width="0.6" fill="none"/>
<path d="M693.3 946.6L696.8 946.9M694.2 944.5L697.7 944.7M695.1 941.6L698.6 941.5M698.6 941.5L702.2 941.2M702.2 941.2L705.8 940.8M696.8 946.9L694.2 944.5M697.7 944.7L695.1 941.6M701.3 944.7L698.6 941.5M702.2 941.2L699.5 937.5M705.8 940.8L703.1 937.0M709.4 940.1L706.7 936.3" stroke="#76bf95" stroke-width="0.6" fill="none"/>
<path d="M689.7 946.2L693.3 946.6M687.0 943.9L690.6 944.3M690.6 944.3L694.2 944.5M691.5 941.5L695.1 941.6M696.0 937.8L699.5 937.5M699.5 937.5L703.1 937.0M703.1 937.0L706.7 936.3M693.3 946.6L690.6 944.3M694.2 944.5L691.5 941.5M695.1 941.6L692.4 938.0M698.6 941.5L696.0 937.8" stroke="#76bf9b" stroke-width="0.6" fill="none"/>
<path d="M686.1 945.7L689.7 946.2M683.4 943.4L687.0 943.9M684.3 941.0L687.9 941.3M687.9 941.3L691.5 941.5M688.8 938.0L692.4 938.0M692.4 938.0L696.0 937.8M700.4 932.8L704.0 932.0M686.1 945.7L683.4 943.4M689.7 946.2L687.0 943.9M687.0 943.9L684.3 941.0M690.6 944.3L687.9 941.3M691.5 941.5L688.8 938.0M696.0 937.8L693.3 933.7M699.5 937.5L696.9 933.3M703.1 937.0L700.4 932.8M706.7 936.3L704.0 932.0" stroke="#74bda0" stroke-width="0.6" fill="none"/>
<path d="M682.5 945.1L686.1 945.7M679.8 942.9L683.4 943.4M680.7 940.7L684.3 941.0M685.2 937.9L688.8 938.0M689.7 934.0L693.3 933.7M693.3 933.7L696.9 933.3M696.9 933.3L700.4 932.8M682.5 945.1L679.8 942.9M683.4 943.4L680.7 940.7M684.3 941.0L681.6 937.7M687.9 941.3L685.2 937.9M688.8 938.0L686.1 934.1M692.4 938.0L689.7 934.0M700.4 932.8L697.8 928.2M704.0 932.0L701.3 927.5" stroke="#74bca6" stroke-width="0.6" fill="none"/>
<path d="M675.3 944.0L678.9 944.5M678.9 944.5L682.5 945.1M676.2 942.4L679.8 942.9M677.1 940.3L680.7 940.7M678.0 937.4L681.6 937.7M681.6 937.7L685.2 937.9M682.5 934.1L686.1 934.1M686.1 934.1L689.7 934.0M694.2 928.9L697.8 928.2M697.8 928.2L701.3 927.5M678.9 944.5L676.2 942.4M679.8 942.9L677.1 940.3M680.7 940.7L678.0 937.4M685.2 937.9L682.5 934.1M689.7 934.0L687.0 929.7M693.3 933.7L690.6 929.3M696.9 933.3L694.2 928.9" stroke="#73bbaa" stroke-width="0.6" fill="none"/>
<path d="M671.7 943.4L675.3 944.0M672.6 941.9L676.2 942.4M673.5 939.8L677.1 940.3M674.4 937.1L678.0 937.4M678.9 934.0L682.5 934.1M687.0 929.7L690.6 929.3M690.6 929.3L694.2 928.9M675.3 944.0L672.6 941.9M676.2 942.4L673.5 939.8M677.1 940.3L674.4 937.1M678.0 937.4L675.3 933.8M681.6 937.7L678.9 934.0M682.5 934.1L679.8 930.0M686.1 934.1L683.4 929.9M697.8 928.2L695.1 923.5M701.3 927.5L698.7 922.7" stroke="#72b9ae" stroke-width="0.6" fill="none"/>
<path d="M668.1 942.8L671.7 943.4M669.0 941.4L672.6 941.9M669.9 939.3L673.5 939.8M670.8 936.8L674.4 937.1M671.7 933.6L675.3 933.8M675.3 933.8L678.9 934.0M679.8 930.0L683.4 929.9M683.4 929.9L687.0 929.7M691.5 924.2L695.1 923.5M695.1 923.5L698.7 922.7M671.7 943.4L669.0 941.4M672.6 941.9L669.9 939.3M673.5 939.8L670.8 936.8M674.4 937.1L671.7 933.6M678.9 934.0L676.2 930.0M687.0 929.7L684.3 925.1M690.6 929.3L687.9 924.7M694.2 928.9L691.5 924.2" stroke="#72b8b3" stroke-width="0.6" fill="none"/>
<path d="M664.5 942.3L668.1 942.8M665.4 940.8L669.0 941.4M662.7 938.4L666.3 938.9M666.3 938.9L669.9 939.3M663.6 936.0L667.2 936.4M667.2 936.4L670.8 936.8M668.1 933.3L671.7 933.6M672.6 929.9L676.2 930.0M676.2 930.0L679.8 930.0M680.7 925.4L684.3 925.1M684.3 925.1L687.9 924.7M687.9 924.7L691.5 924.2M668.1 942.8L665.4 940.8M665.4 940.8L662.7 938.4M669.0 941.4L666.3 938.9M666.3 938.9L663.6 936.0M669.9 939.3L667.2 936.4M670.8 936.8L668.1 933.3M671.7 933.6L669.0 929.8M675.3 933.8L672.6 929.9M679.8 930.0L677.1 925.6M683.4 929.9L680.7 925.4M695.1 923.5L692.4 918.7M698.7 922.7L696.0 917.9" stroke="#71b6b7" stroke-width="0.6" fill="none"/>
<path d="M660.9 941.9L664.5 942.3M658.2 939.9L661.8 940.4M661.8 940.4L665.4 940.8M659.1 938.0L662.7 938.4M660.0 935.6L663.6 936.0M664.5 933.1L668.1 933.3M669.0 929.8L672.6 929.9M673.5 925.7L677.1 925.6M677.1 925.6L680.7 925.4M688.8 919.4L692.4 918.7M692.4 918.7L696.0 917.9M664.5 942.3L661.8 940.4M661.8 940.4L659.1 938.0M662.7 938.4L660.0 935.6M663.6 936.0L660.9 932.8M667.2 936.4L664.5 933.1M668.1 933.3L665.4 929.6M672.6 929.9L669.9 925.8M676.2 930.0L673.5 925.7M684.3 925.1L681.6 920.5M687.9 924.7L685.2 920.0M691.5 924.2L688.8 919.4" stroke="#70b4bb" stroke-width="0.6" fill="none"/>
<path d="M657.3 941.5L660.9 941.9M654.6 939.6L658.2 939.9M655.5 937.6L659.1 938.0M656.4 935.3L660.0 935.6M657.3 932.5L660.9 932.8M660.9 932.8L664.5 933.1M661.8 929.4L665.4 929.6M665.4 929.6L669.0 929.8M666.3 925.7L669.9 925.8M669.9 925.8L673.5 925.7M678.0 920.8L681.6 920.5M681.6 920.5L685.2 920.0M685.2 920.0L688.8 919.4M657.3 941.5L654.6 939.6M660.9 941.9L658.2 939.9M658.2 939.9L655.5 937.6M659.1 938.0L656.4 935.3M660.0 935.6L657.3 932.5M664.5 933.1L661.8 929.4M669.0 929.8L666.3 925.7M673.5 925.7L670.8 921.3M677.1 925.6L674.4 921.1M680.7 925.4L678.0 920.8M692.4 918.7L689.7 913.8M696.0 917.9L693.3 913.0" stroke="#70b3bf" stroke-width="0.6" fill="none"/>
<path d="M650.1 940.9L653.7 941.1M653.7 941.1L657.3 941.5M651.0 939.3L654.6 939.6M651.9 937.3L655.5 937.6M652.8 935.0L656.4 935.3M653.7 932.2L657.3 932.5M658.2 929.3L661.8 929.4M662.7 925.7L666.3 925.7M670.8 921.3L674.4 921.1M674.4 921.1L678.0 920.8M689.7 913.8L693.3 913.0M653.7 941.1L651.0 939.3M654.6 939.6L651.9 937.3M655.5 937.6L652.8 935.0M656.4 935.3L653.7 932.2M657.3 932.5L654.6 929.1M660.9 932.8L658.2 929.3M661.8 929.4L659.1 925.6M665.4 929.6L662.7 925.7M669.9 925.8L667.2 921.5M678.0 920.8L675.3 916.2M681.6 920.5L678.9 915.7M685.2 920.0L682.5 915.2M688.8 919.4L686.1 914.6" stroke="#70b1c1" stroke-width="0.6" fill="none"/>
<path d="M646.5 940.7L650.1 940.9M643.8 938.9L647.4 939.0M647.4 939.0L651.0 939.3M644.7 936.9L648.3 937.0M648.3 937.0L651.9 937.3M645.6 934.5L649.2 934.7M649.2 934.7L652.8 935.0M650.1 932.0L653.7 932.2M651.0 928.9L654.6 929.1M654.6 929.1L658.2 929.3M655.5 925.5L659.1 925.6M659.1 925.6L662.7 925.7M663.6 921.5L667.2 921.5M667.2 921.5L670.8 921.3M675.3 916.2L678.9 915.7M678.9 915.7L682.5 915.2M682.5 915.2L686.1 914.6M686.1 914.6L689.7 913.8M650.1 940.9L647.4 939.0M647.4 939.0L644.7 936.9M651.0 939.3L648.3 937.0M648.3 937.0L645.6 934.5M651.9 937.3L649.2 934.7M649.2 934.7L646.5 931.8M652.8 935.0L650.1 932.0M653.7 932.2L651.0 928.9M658.2 929.3L655.5 925.5M662.7 925.7L660.0 921.6M666.3 925.7L663.6 921.5M670.8 921.3L668.1 916.8M674.4 921.1L671.7 916.5M689.7 913.8L687.0 908.9M693.3 913.0L690.6 908.1" stroke="#70aec4" stroke-width="0.6" fill="none"/>
<path d="M639.4 940.7L642.9 940.7M642.9 940.7L646.5 940.7M640.3 938.9L643.8 938.9M641.2 936.8L644.7 936.9M642.1 934.4L645.6 934.5M643.0 931.6L646.5 931.8M646.5 931.8L650.1 932.0M647.4 928.7L651.0 928.9M651.9 925.4L655.5 925.5M656.4 921.6L660.0 921.6M660.0 921.6L663.6 921.5M664.5 917.1L668.1 916.8M668.1 916.8L671.7 916.5M671.7 916.5L675.3 916.2M687.0 908.9L690.6 908.1M642.9 940.7L640.3 938.9M646.5 940.7L643.8 938.9M643.8 938.9L641.2 936.8M644.7 936.9L642.1 934.4M645.6 934.5L643.0 931.6M646.5 931.8L643.9 928.6M650.1 932.0L647.4 928.7M651.0 928.9L648.3 925.3M654.6 929.1L651.9 925.4M655.5 925.5L652.8 921.6M659.1 925.6L656.4 921.6M663.6 921.5L660.9 917.2M667.2 921.5L664.5 917.1M675.3 916.2L672.6 911.5M678.9 915.7L676.2 911.0M682.5 915.2L679.8 910.4M686.1 914.6L683.4 909.7" stroke="#70acc6" stroke-width="0.6" fill="none"/>
<path d="M632.2 941.1L635.8 940.8M635.8 940.8L639.4 940.7M633.1 939.1L636.7 938.9M636.7 938.9L640.3 938.9M634.0 936.8L637.6 936.7M637.6 936.7L641.2 936.8M634.9 934.3L638.5 934.3M638.5 934.3L642.1 934.4M635.8 931.6L639.4 931.6M639.4 931.6L643.0 931.6M640.3 928.6L643.9 928.6M643.9 928.6L647.4 928.7M644.8 925.3L648.3 925.3M648.3 925.3L651.9 925.4M649.2 921.6L652.8 921.6M652.8 921.6L656.4 921.6M657.3 917.4L660.9 917.2M660.9 917.2L664.5 917.1M672.6 911.5L676.2 911.0M676.2 911.0L679.8 910.4M679.8 910.4L683.4 909.7M683.4 909.7L687.0 908.9M635.8 940.8L633.1 939.1M639.4 940.7L636.7 938.9M636.7 938.9L634.0 936.8M640.3 938.9L637.6 936.7M637.6 936.7L634.9 934.3M641.2 936.8L638.5 934.3M638.5 934.3L635.8 931.6M642.1 934.4L639.4 931.6M643.0 931.6L640.3 928.6M647.4 928.7L644.8 925.3M651.9 925.4L649.2 921.6M656.4 921.6L653.7 917.5M660.0 921.6L657.3 917.4M668.1 916.8L665.4 912.3M671.7 916.5L669.0 911.9M690.6 908.1L687.9 903.2" stroke="#70aac8" stroke-width="0.6" fill="none"/>
<path d="M621.4 942.5L625.0 941.9M625.0 941.9L628.6 941.4M628.6 941.4L632.2 941.1M622.3 940.2L625.9 939.7M625.9 939.7L629.5 939.3M629.5 939.3L633.1 939.1M626.8 937.3L630.4 937.0M630.4 937.0L634.0 936.8M627.7 934.6L631.3 934.4M631.3 934.4L634.9 934.3M632.2 931.6L635.8 931.6M633.1 928.6L636.7 928.6M636.7 928.6L640.3 928.6M637.6 925.3L641.2 925.3M641.2 925.3L644.8 925.3M645.7 921.6L649.2 921.6M650.1 917.6L653.7 917.5M653.7 917.5L657.3 917.4M661.8 912.6L665.4 912.3M665.4 912.3L669.0 911.9M669.0 911.9L672.6 911.5M625.0 941.9L622.3 940.2M628.6 941.4L625.9 939.7M632.2 941.1L629.5 939.3M629.5 939.3L626.8 937.3M633.1 939.1L630.4 937.0M630.4 937.0L627.7 934.6M634.0 936.8L631.3 934.4M631.3 934.4L628.6 931.8M634.9 934.3L632.2 931.6M635.8 931.6L633.1 928.6M639.4 931.6L636.7 928.6M640.3 928.6L637.6 925.3M643.9 928.6L641.2 925.3M644.8 925.3L642.1 921.7M648.3 925.3L645.7 921.6M649.2 921.6L646.6 917.7M652.8 921.6L650.1 917.6M660.9 917.2L658.2 912.9M664.5 917.1L661.8 912.6M672.6 911.5L669.9 906.8M676.2 911.0L673.5 906.2M679.8 910.4L677.1 905.6M683.4 909.7L680.7 904.8M687.0 908.9L684.3 904.0" stroke="#71a8cb" stroke-width="0.6" fill="none"/>
<path d="M610.6 945.0L614.2 944.0M614.2 944.0L617.8 943.2M617.8 943.2L621.4 942.5M607.9 943.3L611.5 942.3M611.5 942.3L615.1 941.5M615.1 941.5L618.7 940.8M618.7 940.8L622.3 940.2M608.8 940.3L612.4 939.5M612.4 939.5L616.0 938.7M616.0 938.7L619.6 938.1M619.6 938.1L623.2 937.6M623.2 937.6L626.8 937.3M616.9 935.9L620.5 935.3M620.5 935.3L624.1 934.9M624.1 934.9L627.7 934.6M621.4 932.4L625.0 932.0M625.0 932.0L628.6 931.8M628.6 931.8L632.2 931.6M625.9 928.9L629.5 928.7M629.5 928.7L633.1 928.6M634.0 925.3L637.6 925.3M638.5 921.7L642.1 921.7M642.1 921.7L645.7 921.6M646.6 917.7L650.1 917.6M654.6 913.1L658.2 912.9M658.2 912.9L661.8 912.6M666.3 907.3L669.9 906.8M669.9 906.8L673.5 906.2M673.5 906.2L677.1 905.6M677.1 905.6L680.7 904.8M680.7 904.8L684.3 904.0M684.3 904.0L687.9 903.2M610.6 945.0L607.9 943.3M607.9 943.3L605.2 941.3M614.2 944.0L611.5 942.3M611.5 942.3L608.8 940.3M617.8 943.2L615.1 941.5M615.1 941.5L612.4 939.5M621.4 942.5L618.7 940.8M618.7 940.8L616.0 938.7M622.3 940.2L619.6 938.1M619.6 938.1L616.9 935.9M625.9 939.7L623.2 937.6M623.2 937.6L620.5 935.3M626.8 937.3L624.1 934.9M624.1 934.9L621.4 932.4M627.7 934.6L625.0 932.0M628.6 931.8L625.9 928.9M632.2 931.6L629.5 928.7M633.1 928.6L630.4 925.4M636.7 928.6L634.0 925.3M637.6 925.3L634.9 921.8M641.2 925.3L638.5 921.7M645.7 921.6L643.0 917.8M653.7 917.5L651.0 913.3M657.3 917.4L654.6 913.1M661.8 912.6L659.1 908.1M665.4 912.3L662.7 907.7M669.0 911.9L666.3 907.3" stroke="#71a6cd" stroke-width="0.6" fill="none"/>
<path d="M605.2 941.3L608.8 940.3M602.5 939.0L606.1 938.1M606.1 938.1L609.7 937.2M609.7 937.2L613.3 936.5M613.3 936.5L616.9 935.9M610.6 934.0L614.2 933.3M614.2 933.3L617.8 932.8M617.8 932.8L621.4 932.4M618.7 929.6L622.3 929.2M622.3 929.2L625.9 928.9M626.8 925.6L630.4 925.4M630.4 925.4L634.0 925.3M631.3 921.9L634.9 921.8M634.9 921.8L638.5 921.7M639.4 917.9L643.0 917.8M643.0 917.8L646.6 917.7M647.5 913.5L651.0 913.3M651.0 913.3L654.6 913.1M659.1 908.1L662.7 907.7M662.7 907.7L666.3 907.3M605.2 941.3L602.5 939.0M602.5 939.0L599.8 936.5M608.8 940.3L606.1 938.1M606.1 938.1L603.4 935.6M612.4 939.5L609.7 937.2M609.7 937.2L607.0 934.7M616.0 938.7L613.3 936.5M613.3 936.5L610.6 934.0M616.9 935.9L614.2 933.3M620.5 935.3L617.8 932.8M617.8 932.8L615.1 930.1M621.4 932.4L618.7 929.6M625.0 932.0L622.3 929.2M625.9 928.9L623.2 925.9M629.5 928.7L626.8 925.6M630.4 925.4L627.7 922.1M634.0 925.3L631.3 921.9M638.5 921.7L635.8 918.0M642.1 921.7L639.4 917.9M646.6 917.7L643.9 913.7M650.1 917.6L647.5 913.5M654.6 913.1L651.9 908.8M658.2 912.9L655.5 908.5M669.9 906.8L667.2 902.1M673.5 906.2L670.8 901.5M677.1 905.6L674.4 900.8M680.7 904.8L678.0 900.1M684.3 904.0L681.6 899.2M687.9 903.2L685.2 898.3" stroke="#72a4cf" stroke-width="0.6" fill="none"/>
<path d="M599.8 936.5L603.4 935.6M603.4 935.6L607.0 934.7M607.0 934.7L610.6 934.0M600.7 932.9L604.3 932.0M604.3 932.0L607.9 931.3M607.9 931.3L611.5 930.6M611.5 930.6L615.1 930.1M615.1 930.1L618.7 929.6M616.0 926.6L619.6 926.2M619.6 926.2L623.2 925.9M623.2 925.9L626.8 925.6M624.1 922.4L627.7 922.1M627.7 922.1L631.3 921.9M632.2 918.2L635.8 918.0M635.8 918.0L639.4 917.9M640.3 913.9L643.9 913.7M643.9 913.7L647.5 913.5M648.4 909.1L651.9 908.8M651.9 908.8L655.5 908.5M655.5 908.5L659.1 908.1M663.6 902.7L667.2 902.1M667.2 902.1L670.8 901.5M670.8 901.5L674.4 900.8M674.4 900.8L678.0 900.1M678.0 900.1L681.6 899.2M681.6 899.2L685.2 898.3M599.8 936.5L597.1 933.9M603.4 935.6L600.7 932.9M607.0 934.7L604.3 932.0M610.6 934.0L607.9 931.3M614.2 933.3L611.5 930.6M615.1 930.1L612.4 927.1M618.7 929.6L616.0 926.6M622.3 929.2L619.6 926.2M623.2 925.9L620.5 922.7M626.8 925.6L624.1 922.4M631.3 921.9L628.6 918.4M634.9 921.8L632.2 918.2M639.4 917.9L636.7 914.1M643.0 917.8L640.3 913.9M647.5 913.5L644.8 909.4M651.0 913.3L648.4 909.1M659.1 908.1L656.4 903.7M662.7 907.7L660.0 903.2M666.3 907.3L663.6 902.7" stroke="#73a1d0" stroke-width="0.6" fill="none"/>
<path d="M597.1 933.9L600.7 932.9M594.4 931.0L598.0 930.0M598.0 930.0L601.6 929.2M601.6 929.2L605.2 928.4M605.2 928.4L608.8 927.7M608.8 927.7L612.4 927.1M612.4 927.1L616.0 926.6M613.3 923.5L616.9 923.1M616.9 923.1L620.5 922.7M620.5 922.7L624.1 922.4M621.4 919.0L625.0 918.7M625.0 918.7L628.6 918.4M628.6 918.4L632.2 918.2M629.5 914.5L633.1 914.3M633.1 914.3L636.7 914.1M636.7 914.1L640.3 913.9M641.2 909.6L644.8 909.4M644.8 909.4L648.4 909.1M652.8 904.1L656.4 903.7M656.4 903.7L660.0 903.2M660.0 903.2L663.6 902.7M597.1 933.9L594.4 931.0M600.7 932.9L598.0 930.0M604.3 932.0L601.6 929.2M607.9 931.3L605.2 928.4M611.5 930.6L608.8 927.7M612.4 927.1L609.7 924.1M616.0 926.6L613.3 923.5M619.6 926.2L616.9 923.1M620.5 922.7L617.8 919.4M624.1 922.4L621.4 919.0M627.7 922.1L625.0 918.7M628.6 918.4L625.9 914.8M632.2 918.2L629.5 914.5M635.8 918.0L633.1 914.3M636.7 914.1L634.0 910.2M640.3 913.9L637.6 909.9M643.9 913.7L641.2 909.6M648.4 909.1L645.7 904.9M651.9 908.8L649.3 904.5M655.5 908.5L652.8 904.1M663.6 902.7L660.9 898.1M667.2 902.1L664.5 897.5M670.8 901.5L668.1 896.9M674.4 900.8L671.7 896.1M678.0 900.1L675.3 895.3M681.6 899.2L678.9 894.5M685.2 898.3L682.5 893.6" stroke="#749fd2" stroke-width="0.6" fill="none"/>
<path d="M591.8 928.0L595.3 927.0M595.3 927.0L598.9 926.2M598.9 926.2L602.5 925.4M602.5 925.4L606.1 924.7M606.1 924.7L609.7 924.1M609.7 924.1L613.3 923.5M610.6 920.3L614.2 919.8M614.2 919.8L617.8 919.4M617.8 919.4L621.4 919.0M622.3 915.1L625.9 914.8M625.9 914.8L629.5 914.5M630.4 910.5L634.0 910.2M634.0 910.2L637.6 909.9M637.6 909.9L641.2 909.6M642.1 905.2L645.7 904.9M645.7 904.9L649.3 904.5M649.3 904.5L652.8 904.1M660.9 898.1L664.5 897.5M664.5 897.5L668.1 896.9M668.1 896.9L671.7 896.1M671.7 896.1L675.3 895.3M675.3 895.3L678.9 894.5M678.9 894.5L682.5 893.6M594.4 931.0L591.8 928.0M598.0 930.0L595.3 927.0M601.6 929.2L598.9 926.2M605.2 928.4L602.5 925.4M608.8 927.7L606.1 924.7M609.7 924.1L607.0 920.9M613.3 923.5L610.6 920.3M616.9 923.1L614.2 919.8M621.4 919.0L618.7 915.5M625.0 918.7L622.3 915.1M629.5 914.5L626.8 910.8M633.1 914.3L630.4 910.5M641.2 909.6L638.5 905.6M644.8 909.4L642.1 905.2M652.8 904.1L650.2 899.8M656.4 903.7L653.7 899.3M660.0 903.2L657.3 898.7M682.5 893.6L679.8 888.9" stroke="#749dd3" stroke-width="0.6" fill="none"/>
<path d="M589.1 924.9L592.7 923.9M592.7 923.9L596.2 923.0M596.2 923.0L599.8 922.2M599.8 922.2L603.4 921.5M603.4 921.5L607.0 920.9M607.0 920.9L610.6 920.3M611.5 916.4L615.1 915.9M615.1 915.9L618.7 915.5M618.7 915.5L622.3 915.1M623.2 911.2L626.8 910.8M626.8 910.8L630.4 910.5M634.9 905.9L638.5 905.6M638.5 905.6L642.1 905.2M646.6 900.2L650.2 899.8M650.2 899.8L653.7 899.3M653.7 899.3L657.3 898.7M657.3 898.7L660.9 898.1M676.2 889.9L679.8 888.9M591.8 928.0L589.1 924.9M595.3 927.0L592.7 923.9M598.9 926.2L596.2 923.0M602.5 925.4L599.8 922.2M606.1 924.7L603.4 921.5M607.0 920.9L604.3 917.6M610.6 920.3L607.9 917.0M614.2 919.8L611.5 916.4M617.8 919.4L615.1 915.9M622.3 915.1L619.6 911.6M625.9 914.8L623.2 911.2M630.4 910.5L627.7 906.7M634.0 910.2L631.3 906.3M637.6 909.9L634.9 905.9M642.1 905.2L639.4 901.1M645.7 904.9L643.0 900.7M649.3 904.5L646.6 900.2M660.9 898.1L658.2 893.7M664.5 897.5L661.8 893.0M668.1 896.9L665.4 892.3M671.7 896.1L669.0 891.6M675.3 895.3L672.6 890.7M678.9 894.5L676.2 889.9" stroke="#769ad4" stroke-width="0.6" fill="none"/>
<path d="M593.6 919.8L597.1 919.0M597.1 919.0L600.7 918.2M600.7 918.2L604.3 917.6M604.3 917.6L607.9 917.0M607.9 917.0L611.5 916.4M612.4 912.5L616.0 912.0M616.0 912.0L619.6 911.6M619.6 911.6L623.2 911.2M624.1 907.1L627.7 906.7M627.7 906.7L631.3 906.3M631.3 906.3L634.9 905.9M635.8 901.5L639.4 901.1M639.4 901.1L643.0 900.7M643.0 900.7L646.6 900.2M654.6 894.3L658.2 893.7M658.2 893.7L661.8 893.0M661.8 893.0L665.4 892.3M665.4 892.3L669.0 891.6M669.0 891.6L672.6 890.7M672.6 890.7L676.2 889.9M589.1 924.9L586.4 921.7M592.7 923.9L590.0 920.7M596.2 923.0L593.6 919.8M599.8 922.2L597.1 919.0M603.4 921.5L600.7 918.2M607.9 917.0L605.2 913.6M611.5 916.4L608.8 913.0M615.1 915.9L612.4 912.5M618.7 915.5L616.0 912.0M619.6 911.6L616.9 907.9M623.2 911.2L620.5 907.5M626.8 910.8L624.1 907.1M631.3 906.3L628.6 902.4M634.9 905.9L632.2 902.0M638.5 905.6L635.8 901.5M646.6 900.2L643.9 896.0M650.2 899.8L647.5 895.5M653.7 899.3L651.1 894.9M657.3 898.7L654.6 894.3M676.2 889.9L673.5 885.4M679.8 888.9L677.1 884.4" stroke="#7698d6" stroke-width="0.6" fill="none"/>
<path d="M586.4 921.7L590.0 920.7M590.0 920.7L593.6 919.8M594.5 915.7L598.0 914.9M598.0 914.9L601.6 914.2M601.6 914.2L605.2 913.6M605.2 913.6L608.8 913.0M608.8 913.0L612.4 912.5M613.3 908.4L616.9 907.9M616.9 907.9L620.5 907.5M620.5 907.5L624.1 907.1M625.0 902.9L628.6 902.4M628.6 902.4L632.2 902.0M632.2 902.0L635.8 901.5M640.3 896.6L643.9 896.0M643.9 896.0L647.5 895.5M647.5 895.5L651.1 894.9M651.1 894.9L654.6 894.3M666.3 887.1L669.9 886.2M669.9 886.2L673.5 885.4M673.5 885.4L677.1 884.4M586.4 921.7L583.7 918.4M590.0 920.7L587.3 917.4M593.6 919.8L590.9 916.5M597.1 919.0L594.5 915.7M600.7 918.2L598.0 914.9M604.3 917.6L601.6 914.2M608.8 913.0L606.1 909.5M612.4 912.5L609.7 908.9M616.0 912.0L613.3 908.4M624.1 907.1L621.4 903.3M627.7 906.7L625.0 902.9M635.8 901.5L633.1 897.6M639.4 901.1L636.7 897.1M643.0 900.7L640.3 896.6M654.6 894.3L652.0 890.0M658.2 893.7L655.5 889.4M661.8 893.0L659.1 888.6M665.4 892.3L662.7 887.9M669.0 891.6L666.3 887.1M672.6 890.7L669.9 886.2" stroke="#7b94d1" stroke-width="0.6" fill="none"/>
<path d="M583.7 918.4L587.3 917.4M587.3 917.4L590.9 916.5M590.9 916.5L594.5 915.7M595.4 911.6L598.9 910.8M598.9 910.8L602.5 910.1M602.5 910.1L606.1 909.5M606.1 909.5L609.7 908.9M609.7 908.9L613.3 908.4M614.2 904.3L617.8 903.8M617.8 903.8L621.4 903.3M621.4 903.3L625.0 902.9M629.5 898.1L633.1 897.6M633.1 897.6L636.7 897.1M636.7 897.1L640.3 896.6M644.8 891.3L648.4 890.7M648.4 890.7L652.0 890.0M652.0 890.0L655.5 889.4M655.5 889.4L659.1 888.6M659.1 888.6L662.7 887.9M662.7 887.9L666.3 887.1M583.7 918.4L581.0 915.1M587.3 917.4L584.6 914.1M590.9 916.5L588.2 913.2M594.5 915.7L591.8 912.4M598.0 914.9L595.4 911.6M601.6 914.2L598.9 910.8M605.2 913.6L602.5 910.1M609.7 908.9L607.0 905.4M613.3 908.4L610.6 904.8M616.9 907.9L614.2 904.3M620.5 907.5L617.8 903.8M625.0 902.9L622.3 899.1M628.6 902.4L625.9 898.6M632.2 902.0L629.5 898.1M640.3 896.6L637.6 892.5M643.9 896.0L641.2 891.9M647.5 895.5L644.8 891.3M651.1 894.9L648.4 890.7M666.3 887.1L663.6 882.8M669.9 886.2L667.2 881.9M673.5 885.4L670.8 881.0M677.1 884.4L674.4 880.0" stroke="#7e90cc" stroke-width="0.6" fill="none"/>
<path d="M581.0 915.1L584.6 914.1M584.6 914.1L588.2 913.2M588.2 913.2L591.8 912.4M591.8 912.4L595.4 911.6M599.8 906.7L603.4 906.1M603.4 906.1L607.0 905.4M607.0 905.4L610.6 904.8M610.6 904.8L614.2 904.3M615.1 900.1L618.7 899.6M618.7 899.6L622.3 899.1M622.3 899.1L625.9 898.6M625.9 898.6L629.5 898.1M630.4 893.6L634.0 893.1M634.0 893.1L637.6 892.5M637.6 892.5L641.2 891.9M641.2 891.9L644.8 891.3M656.4 884.4L660.0 883.6M660.0 883.6L663.6 882.8M663.6 882.8L667.2 881.9M667.2 881.9L670.8 881.0M670.8 881.0L674.4 880.0M581.0 915.1L578.3 911.8M584.6 914.1L581.9 910.8M588.2 913.2L585.5 909.9M591.8 912.4L589.1 909.0M595.4 911.6L592.7 908.2M598.9 910.8L596.3 907.4M602.5 910.1L599.8 906.7M606.1 909.5L603.4 906.1M610.6 904.8L607.9 901.3M614.2 904.3L611.5 900.7M617.8 903.8L615.1 900.1M621.4 903.3L618.7 899.6M625.9 898.6L623.2 894.8M629.5 898.1L626.8 894.2M633.1 897.6L630.4 893.6M636.7 897.1L634.0 893.1M644.8 891.3L642.1 887.2M648.4 890.7L645.7 886.6M652.0 890.0L649.3 885.9M655.5 889.4L652.9 885.1M659.1 888.6L656.4 884.4M662.7 887.9L660.0 883.6" stroke="#828cc7" stroke-width="0.6" fill="none"/>
<path d="M578.3 911.8L581.9 910.8M581.9 910.8L585.5 909.9M585.5 909.9L589.1 909.0M589.1 909.0L592.7 908.2M592.7 908.2L596.3 907.4M596.3 907.4L599.8 906.7M600.7 902.6L604.3 901.9M604.3 901.9L607.9 901.3M607.9 901.3L611.5 900.7M611.5 900.7L615.1 900.1M619.6 895.3L623.2 894.8M623.2 894.8L626.8 894.2M626.8 894.2L630.4 893.6M638.5 887.9L642.1 887.2M642.1 887.2L645.7 886.6M645.7 886.6L649.3 885.9M649.3 885.9L652.9 885.1M652.9 885.1L656.4 884.4M589.1 909.0L586.4 905.7M592.7 908.2L590.0 904.8M596.3 907.4L593.6 904.0M599.8 906.7L597.2 903.3M603.4 906.1L600.7 902.6M607.0 905.4L604.3 901.9M611.5 900.7L608.8 897.1M615.1 900.1L612.4 896.5M618.7 899.6L616.0 895.9M622.3 899.1L619.6 895.3M630.4 893.6L627.7 889.8M634.0 893.1L631.3 889.2M637.6 892.5L634.9 888.5M641.2 891.9L638.5 887.9M652.9 885.1L650.2 881.1M656.4 884.4L653.8 880.3M660.0 883.6L657.3 879.4M663.6 882.8L660.9 878.6M667.2 881.9L664.5 877.7M670.8 881.0L668.1 876.8M674.4 880.0L671.7 875.8" stroke="#8687c2" stroke-width="0.6" fill="none"/>
<path d="M575.6 908.5L579.2 907.5M579.2 907.5L582.8 906.6M582.8 906.6L586.4 905.7M586.4 905.7L590.0 904.8M590.0 904.8L593.6 904.0M593.6 904.0L597.2 903.3M597.2 903.3L600.7 902.6M601.6 898.5L605.2 897.8M605.2 897.8L608.8 897.1M608.8 897.1L612.4 896.5M612.4 896.5L616.0 895.9M616.0 895.9L619.6 895.3M620.5 891.1L624.1 890.4M624.1 890.4L627.7 889.8M627.7 889.8L631.3 889.2M631.3 889.2L634.9 888.5M634.9 888.5L638.5 887.9M643.0 882.6L646.6 881.8M646.6 881.8L650.2 881.1M650.2 881.1L653.8 880.3M653.8 880.3L657.3 879.4M657.3 879.4L660.9 878.6M660.9 878.6L664.5 877.7M664.5 877.7L668.1 876.8M668.1 876.8L671.7 875.8M578.3 911.8L575.6 908.5M581.9 910.8L579.2 907.5M585.5 909.9L582.8 906.6M593.6 904.0L590.9 900.7M597.2 903.3L594.5 899.9M600.7 902.6L598.1 899.2M604.3 901.9L601.6 898.5M607.9 901.3L605.2 897.8M616.0 895.9L613.3 892.3M619.6 895.3L616.9 891.7M623.2 894.8L620.5 891.1M626.8 894.2L624.1 890.4M634.9 888.5L632.2 884.7M638.5 887.9L635.8 884.0M642.1 887.2L639.4 883.3M645.7 886.6L643.0 882.6M649.3 885.9L646.6 881.8" stroke="#9083ba" stroke-width="0.6" fill="none"/>
<path d="M572.9 905.2L576.5 904.2M576.5 904.2L580.1 903.3M580.1 903.3L583.7 902.4M583.7 902.4L587.3 901.5M587.3 901.5L590.9 900.7M590.9 900.7L594.5 899.9M594.5 899.9L598.1 899.2M598.1 899.2L601.6 898.5M602.5 894.3L606.1 893.7M606.1 893.7L609.7 893.0M609.7 893.0L613.3 892.3M613.3 892.3L616.9 891.7M616.9 891.7L620.5 891.1M625.0 886.1L628.6 885.4M628.6 885.4L632.2 884.7M632.2 884.7L635.8 884.0M635.8 884.0L639.4 883.3M639.4 883.3L643.0 882.6M658.2 874.6L661.8 873.7M661.8 873.7L665.4 872.7M665.4 872.7L669.0 871.8M575.6 908.5L572.9 905.2M579.2 907.5L576.5 904.2M582.8 906.6L580.1 903.3M586.4 905.7L583.7 902.4M590.0 904.8L587.3 901.5M594.5 899.9L591.8 896.6M598.1 899.2L595.4 895.8M601.6 898.5L599.0 895.1M605.2 897.8L602.5 894.3M608.8 897.1L606.1 893.7M612.4 896.5L609.7 893.0M616.9 891.7L614.2 888.1M620.5 891.1L617.8 887.4M624.1 890.4L621.4 886.8M627.7 889.8L625.0 886.1M631.3 889.2L628.6 885.4M639.4 883.3L636.7 879.5M643.0 882.6L640.3 878.7M646.6 881.8L643.9 877.9M650.2 881.1L647.5 877.1M653.8 880.3L651.1 876.3M657.3 879.4L654.7 875.5M660.9 878.6L658.2 874.6M664.5 877.7L661.8 873.7M668.1 876.8L665.4 872.7M671.7 875.8L669.0 871.8" stroke="#9a7fb3" stroke-width="0.6" fill="none"/>
<path d="M570.2 902.0L573.8 901.0M573.8 901.0L577.4 900.0M577.4 900.0L581.0 899.1M581.0 899.1L584.6 898.2M584.6 898.2L588.2 897.4M588.2 897.4L591.8 896.6M591.8 896.6L595.4 895.8M595.4 895.8L599.0 895.1M599.0 895.1L602.5 894.3M603.4 890.2L607.0 889.5M607.0 889.5L610.6 888.8M610.6 888.8L614.2 888.1M614.2 888.1L617.8 887.4M617.8 887.4L621.4 886.8M621.4 886.8L625.0 886.1M629.5 881.0L633.1 880.3M633.1 880.3L636.7 879.5M636.7 879.5L640.3 878.7M640.3 878.7L643.9 877.9M643.9 877.9L647.5 877.1M647.5 877.1L651.1 876.3M651.1 876.3L654.7 875.5M654.7 875.5L658.2 874.6M572.9 905.2L570.2 902.0M576.5 904.2L573.8 901.0M580.1 903.3L577.4 900.0M583.7 902.4L581.0 899.1M587.3 901.5L584.6 898.2M590.9 900.7L588.2 897.4M595.4 895.8L592.7 892.5M599.0 895.1L596.3 891.7M602.5 894.3L599.9 891.0M606.1 893.7L603.4 890.2M609.7 893.0L607.0 889.5M613.3 892.3L610.6 888.8M617.8 887.4L615.1 883.9M621.4 886.8L618.7 883.2M625.0 886.1L622.3 882.5M628.6 885.4L625.9 881.7M632.2 884.7L629.5 881.0M635.8 884.0L633.1 880.3M647.5 877.1L644.8 873.4M651.1 876.3L648.4 872.5M654.7 875.5L652.0 871.6M658.2 874.6L655.6 870.7M661.8 873.7L659.1 869.8M665.4 872.7L662.7 868.9M669.0 871.8L666.3 867.9" stroke="#a57bab" stroke-width="0.6" fill="none"/>
<path d="M567.5 898.8L571.1 897.8M571.1 897.8L574.7 896.9M574.7 896.9L578.3 895.9M578.3 895.9L581.9 895.0M581.9 895.0L585.5 894.2M585.5 894.2L589.1 893.3M589.1 893.3L592.7 892.5M592.7 892.5L596.3 891.7M596.3 891.7L599.9 891.0M599.9 891.0L603.4 890.2M607.9 885.4L611.5 884.7M611.5 884.7L615.1 883.9M615.1 883.9L618.7 883.2M618.7 883.2L622.3 882.5M622.3 882.5L625.9 881.7M625.9 881.7L629.5 881.0M634.0 875.9L637.6 875.1M637.6 875.1L641.2 874.2M641.2 874.2L644.8 873.4M644.8 873.4L648.4 872.5M648.4 872.5L652.0 871.6M652.0 871.6L655.6 870.7M655.6 870.7L659.1 869.8M659.1 869.8L662.7 868.9M662.7 868.9L666.3 867.9M570.2 902.0L567.5 898.8M573.8 901.0L571.1 897.8M577.4 900.0L574.7 896.9M581.0 899.1L578.3 895.9M584.6 898.2L581.9 895.0M588.2 897.4L585.5 894.2M591.8 896.6L589.1 893.3M596.3 891.7L593.6 888.5M599.9 891.0L597.2 887.7M603.4 890.2L600.8 886.9M607.0 889.5L604.3 886.2M610.6 888.8L607.9 885.4M614.2 888.1L611.5 884.7M622.3 882.5L619.6 879.0M625.9 881.7L623.2 878.2M629.5 881.0L626.8 877.5M633.1 880.3L630.4 876.7M636.7 879.5L634.0 875.9M640.3 878.7L637.6 875.1M643.9 877.9L641.2 874.2" stroke="#ae76a3" stroke-width="0.6" fill="none"/>
<path d="M564.8 895.7L568.4 894.7M568.4 894.7L572.0 893.8M572.0 893.8L575.6 892.8M575.6 892.8L579.2 891.9M579.2 891.9L582.8 891.0M582.8 891.0L586.4 890.2M586.4 890.2L590.0 889.3M590.0 889.3L593.6 888.5M593.6 888.5L597.2 887.7M597.2 887.7L600.8 886.9M600.8 886.9L604.3 886.2M604.3 886.2L607.9 885.4M608.8 881.3L612.4 880.6M612.4 880.6L616.0 879.8M616.0 879.8L619.6 879.0M619.6 879.0L623.2 878.2M623.2 878.2L626.8 877.5M626.8 877.5L630.4 876.7M630.4 876.7L634.0 875.9M642.1 869.8L645.7 868.9M645.7 868.9L649.3 868.0M649.3 868.0L652.9 867.1M652.9 867.1L656.5 866.1M656.5 866.1L660.0 865.2M660.0 865.2L663.6 864.2M567.5 898.8L564.8 895.7M571.1 897.8L568.4 894.7M574.7 896.9L572.0 893.8M578.3 895.9L575.6 892.8M581.9 895.0L579.2 891.9M585.5 894.2L582.8 891.0M589.1 893.3L586.4 890.2M592.7 892.5L590.0 889.3M597.2 887.7L594.5 884.5M600.8 886.9L598.1 883.7M604.3 886.2L601.7 882.9M607.9 885.4L605.2 882.1M611.5 884.7L608.8 881.3M615.1 883.9L612.4 880.6M618.7 883.2L616.0 879.8M623.2 878.2L620.5 874.9M626.8 877.5L624.1 874.1M630.4 876.7L627.7 873.2M634.0 875.9L631.3 872.4M637.6 875.1L634.9 871.5M641.2 874.2L638.5 870.7M644.8 873.4L642.1 869.8M648.4 872.5L645.7 868.9M652.0 871.6L649.3 868.0M655.6 870.7L652.9 867.1M659.1 869.8L656.5 866.1M662.7 868.9L660.0 865.2M666.3 867.9L663.6 864.2" stroke="#b8739a" stroke-width="0.6" fill="none"/>
<path d="M562.1 892.7L565.7 891.7M565.7 891.7L569.3 890.8M569.3 890.8L572.9 889.8M572.9 889.8L576.5 888.9M576.5 888.9L580.1 888.0M580.1 888.0L583.7 887.1M583.7 887.1L587.3 886.2M587.3 886.2L590.9 885.4M590.9 885.4L594.5 884.5M594.5 884.5L598.1 883.7M598.1 883.7L601.7 882.9M601.7 882.9L605.2 882.1M605.2 882.1L608.8 881.3M606.1 878.1L609.7 877.3M609.7 877.3L613.3 876.5M613.3 876.5L616.9 875.7M616.9 875.7L620.5 874.9M620.5 874.9L624.1 874.1M624.1 874.1L627.7 873.2M627.7 873.2L631.3 872.4M631.3 872.4L634.9 871.5M634.9 871.5L638.5 870.7M638.5 870.7L642.1 869.8M657.4 861.7L660.9 860.7M564.8 895.7L562.1 892.7M568.4 894.7L565.7 891.7M572.0 893.8L569.3 890.8M575.6 892.8L572.9 889.8M579.2 891.9L576.5 888.9M582.8 891.0L580.1 888.0M586.4 890.2L583.7 887.1M590.0 889.3L587.3 886.2M593.6 888.5L590.9 885.4M594.5 884.5L591.8 881.5M598.1 883.7L595.4 880.6M601.7 882.9L599.0 879.8M605.2 882.1L602.6 879.0M608.8 881.3L606.1 878.1M612.4 880.6L609.7 877.3M616.0 879.8L613.3 876.5M619.6 879.0L616.9 875.7M627.7 873.2L625.0 870.0M631.3 872.4L628.6 869.1M634.9 871.5L632.2 868.2M638.5 870.7L635.8 867.3M642.1 869.8L639.4 866.4M645.7 868.9L643.0 865.5M649.3 868.0L646.6 864.6M652.9 867.1L650.2 863.6M656.5 866.1L653.8 862.7M660.0 865.2L657.4 861.7M663.6 864.2L660.9 860.7" stroke="#c17091" stroke-width="0.6" fill="none"/>
<path d="M559.4 889.9L563.0 888.9M563.0 888.9L566.6 887.9M566.6 887.9L570.2 886.9M570.2 886.9L573.8 886.0M573.8 886.0L577.4 885.0M577.4 885.0L581.0 884.1M581.0 884.1L584.6 883.2M584.6 883.2L588.2 882.4M588.2 882.4L591.8 881.5M591.8 881.5L595.4 880.6M595.4 880.6L599.0 879.8M599.0 879.8L602.6 879.0M602.6 879.0L606.1 878.1M603.5 875.1L607.0 874.2M607.0 874.2L610.6 873.4M610.6 873.4L614.2 872.5M614.2 872.5L617.8 871.7M617.8 871.7L621.4 870.8M621.4 870.8L625.0 870.0M625.0 870.0L628.6 869.1M628.6 869.1L632.2 868.2M632.2 868.2L635.8 867.3M635.8 867.3L639.4 866.4M639.4 866.4L643.0 865.5M643.0 865.5L646.6 864.6M646.6 864.6L650.2 863.6M650.2 863.6L653.8 862.7M653.8 862.7L657.4 861.7M562.1 892.7L559.4 889.9M565.7 891.7L563.0 888.9M569.3 890.8L566.6 887.9M572.9 889.8L570.2 886.9M576.5 888.9L573.8 886.0M580.1 888.0L577.4 885.0M583.7 887.1L581.0 884.1M587.3 886.2L584.6 883.2M590.9 885.4L588.2 882.4M588.2 882.4L585.5 879.5M591.8 881.5L589.1 878.6M595.4 880.6L592.7 877.7M599.0 879.8L596.3 876.8M602.6 879.0L599.9 876.0M606.1 878.1L603.5 875.1M609.7 877.3L607.0 874.2M613.3 876.5L610.6 873.4M616.9 875.7L614.2 872.5M620.5 874.9L617.8 871.7M624.1 874.1L621.4 870.8M628.6 869.1L625.9 866.0M632.2 868.2L629.5 865.1M635.8 867.3L633.1 864.1M639.4 866.4L636.7 863.2M643.0 865.5L640.3 862.3M646.6 864.6L643.9 861.3M650.2 863.6L647.5 860.4M653.8 862.7L651.1 859.4M657.4 861.7L654.7 858.4M660.9 860.7L658.3 857.4" stroke="#ca6c88" stroke-width="0.6" fill="none"/>
<path d="M556.7 887.1L560.3 886.1M560.3 886.1L563.9 885.1M563.9 885.1L567.5 884.1M567.5 884.1L571.1 883.2M571.1 883.2L574.7 882.2M574.7 882.2L578.3 881.3M578.3 881.3L581.9 880.4M581.9 880.4L585.5 879.5M585.5 879.5L589.1 878.6M589.1 878.6L592.7 877.7M592.7 877.7L596.3 876.8M596.3 876.8L599.9 876.0M599.9 876.0L603.5 875.1M597.2 873.1L600.8 872.2M600.8 872.2L604.4 871.3M604.4 871.3L607.9 870.4M607.9 870.4L611.5 869.5M611.5 869.5L615.1 868.7M615.1 868.7L618.7 867.8M618.7 867.8L622.3 866.9M622.3 866.9L625.9 866.0M625.9 866.0L629.5 865.1M629.5 865.1L633.1 864.1M633.1 864.1L636.7 863.2M636.7 863.2L640.3 862.3M640.3 862.3L643.9 861.3M643.9 861.3L647.5 860.4M647.5 860.4L651.1 859.4M651.1 859.4L654.7 858.4M654.7 858.4L658.3 857.4M559.4 889.9L556.7 887.1M563.0 888.9L560.3 886.1M566.6 887.9L563.9 885.1M570.2 886.9L567.5 884.1M573.8 886.0L571.1 883.2M577.4 885.0L574.7 882.2M581.0 884.1L578.3 881.3M578.3 881.3L575.6 878.6M584.6 883.2L581.9 880.4M581.9 880.4L579.2 877.7M585.5 879.5L582.8 876.7M589.1 878.6L586.4 875.8M592.7 877.7L590.0 874.9M596.3 876.8L593.6 874.0M599.9 876.0L597.2 873.1M603.5 875.1L600.8 872.2M607.0 874.2L604.4 871.3M610.6 873.4L607.9 870.4M614.2 872.5L611.5 869.5M617.8 871.7L615.1 868.7M621.4 870.8L618.7 867.8M625.0 870.0L622.3 866.9M622.3 866.9L619.6 864.0M625.9 866.0L623.2 863.0M629.5 865.1L626.8 862.1M633.1 864.1L630.4 861.2M636.7 863.2L634.0 860.2M640.3 862.3L637.6 859.3M643.9 861.3L641.2 858.3M647.5 860.4L644.8 857.3M651.1 859.4L648.4 856.4M654.7 858.4L652.0 855.4M658.3 857.4L655.6 854.4" stroke="#d3687f" stroke-width="0.6" fill="none"/>
<path d="M554.0 884.5L557.6 883.4M557.6 883.4L561.2 882.5M561.2 882.5L564.8 881.5M564.8 881.5L568.4 880.5M568.4 880.5L572.0 879.5M572.0 879.5L575.6 878.6M575.6 878.6L579.2 877.7M579.2 877.7L582.8 876.7M582.8 876.7L586.4 875.8M586.4 875.8L590.0 874.9M590.0 874.9L593.6 874.0M593.6 874.0L597.2 873.1M580.1 874.1L583.7 873.2M583.7 873.2L587.3 872.3M587.3 872.3L590.9 871.3M590.9 871.3L594.5 870.4M594.5 870.4L598.1 869.5M598.1 869.5L601.7 868.6M601.7 868.6L605.3 867.7M605.3 867.7L608.8 866.7M608.8 866.7L612.4 865.8M612.4 865.8L616.0 864.9M616.0 864.9L619.6 864.0M619.6 864.0L623.2 863.0M623.2 863.0L626.8 862.1M626.8 862.1L630.4 861.2M630.4 861.2L634.0 860.2M634.0 860.2L637.6 859.3M637.6 859.3L641.2 858.3M641.2 858.3L644.8 857.3M644.8 857.3L648.4 856.4M648.4 856.4L652.0 855.4M652.0 855.4L655.6 854.4M556.7 887.1L554.0 884.5M554.0 884.5L551.4 882.0M560.3 886.1L557.6 883.4M557.6 883.4L554.9 880.9M563.9 885.1L561.2 882.5M561.2 882.5L558.5 879.9M567.5 884.1L564.8 881.5M564.8 881.5L562.1 879.0M571.1 883.2L568.4 880.5M568.4 880.5L565.7 878.0M574.7 882.2L572.0 879.5M572.0 879.5L569.3 877.0M575.6 878.6L572.9 876.0M579.2 877.7L576.5 875.1M582.8 876.7L580.1 874.1M586.4 875.8L583.7 873.2M590.0 874.9L587.3 872.3M593.6 874.0L590.9 871.3M597.2 873.1L594.5 870.4M600.8 872.2L598.1 869.5M604.4 871.3L601.7 868.6M607.9 870.4L605.3 867.7M611.5 869.5L608.8 866.7M608.8 866.7L606.2 864.1M615.1 868.7L612.4 865.8M612.4 865.8L609.7 863.2M618.7 867.8L616.0 864.9M616.0 864.9L613.3 862.2M619.6 864.0L616.9 861.3M623.2 863.0L620.5 860.3M626.8 862.1L624.1 859.4M630.4 861.2L627.7 858.4M634.0 860.2L631.3 857.4M637.6 859.3L634.9 856.5M641.2 858.3L638.5 855.5M644.8 857.3L642.1 854.5M648.4 856.4L645.7 853.5M652.0 855.4L649.3 852.5M655.6 854.4L652.9 851.5" stroke="#d8677a" stroke-width="0.6" fill="none"/>
<path d="M551.4 882.0L554.9 880.9M554.9 880.9L558.5 879.9M558.5 879.9L562.1 879.0M562.1 879.0L565.7 878.0M565.7 878.0L569.3 877.0M569.3 877.0L572.9 876.0M572.9 876.0L576.5 875.1M576.5 875.1L580.1 874.1M548.7 879.6L552.3 878.6M552.3 878.6L555.8 877.6M555.8 877.6L559.4 876.6M559.4 876.6L563.0 875.6M563.0 875.6L566.6 874.6M566.6 874.6L570.2 873.6M570.2 873.6L573.8 872.7M573.8 872.7L577.4 871.7M577.4 871.7L581.0 870.7M581.0 870.7L584.6 869.8M584.6 869.8L588.2 868.8M588.2 868.8L591.8 867.9M591.8 867.9L595.4 866.9M595.4 866.9L599.0 866.0M599.0 866.0L602.6 865.1M602.6 865.1L606.2 864.1M606.2 864.1L609.7 863.2M609.7 863.2L613.3 862.2M613.3 862.2L616.9 861.3M616.9 861.3L620.5 860.3M620.5 860.3L624.1 859.4M624.1 859.4L627.7 858.4M627.7 858.4L631.3 857.4M631.3 857.4L634.9 856.5M634.9 856.5L638.5 855.5M638.5 855.5L642.1 854.5M642.1 854.5L645.7 853.5M645.7 853.5L649.3 852.5M649.3 852.5L652.9 851.5M603.5 861.7L607.1 860.7M607.1 860.7L610.6 859.7M610.6 859.7L614.2 858.8M614.2 858.8L617.8 857.8M617.8 857.8L621.4 856.8M621.4 856.8L625.0 855.9M625.0 855.9L628.6 854.9M628.6 854.9L632.2 853.9M632.2 853.9L635.8 852.9M635.8 852.9L639.4 851.9M639.4 851.9L643.0 850.9M643.0 850.9L646.6 849.9M646.6 849.9L650.2 848.9M551.4 882.0L548.7 879.6M554.9 880.9L552.3 878.6M558.5 879.9L555.8 877.6M562.1 879.0L559.4 876.6M565.7 878.0L563.0 875.6M569.3 877.0L566.6 874.6M566.6 874.6L563.9 872.4M572.9 876.0L570.2 873.6M570.2 873.6L567.5 871.4M576.5 875.1L573.8 872.7M573.8 872.7L571.1 870.4M580.1 874.1L577.4 871.7M577.4 871.7L574.7 869.4M583.7 873.2L581.0 870.7M581.0 870.7L578.3 868.4M587.3 872.3L584.6 869.8M584.6 869.8L581.9 867.5M590.9 871.3L588.2 868.8M588.2 868.8L585.5 866.5M594.5 870.4L591.8 867.9M591.8 867.9L589.1 865.5M598.1 869.5L595.4 866.9M595.4 866.9L592.7 864.6M601.7 868.6L599.0 866.0M599.0 866.0L596.3 863.6M605.3 867.7L602.6 865.1M602.6 865.1L599.9 862.6M606.2 864.1L603.5 861.7M609.7 863.2L607.1 860.7M613.3 862.2L610.6 859.7M616.9 861.3L614.2 858.8M620.5 860.3L617.8 857.8M624.1 859.4L621.4 856.8M627.7 858.4L625.0 855.9M631.3 857.4L628.6 854.9M634.9 856.5L632.2 853.9M638.5 855.5L635.8 852.9M642.1 854.5L639.4 851.9M645.7 853.5L643.0 850.9M649.3 852.5L646.6 849.9M652.9 851.5L650.2 848.9" stroke="#df6575" stroke-width="0.6" fill="none"/>
<path d="M546.0 877.4L549.6 876.4M549.6 876.4L553.2 875.4M553.2 875.4L556.7 874.4M556.7 874.4L560.3 873.4M560.3 873.4L563.9 872.4M563.9 872.4L567.5 871.4M567.5 871.4L571.1 870.4M571.1 870.4L574.7 869.4M574.7 869.4L578.3 868.4M578.3 868.4L581.9 867.5M581.9 867.5L585.5 866.5M585.5 866.5L589.1 865.5M589.1 865.5L592.7 864.6M592.7 864.6L596.3 863.6M596.3 863.6L599.9 862.6M599.9 862.6L603.5 861.7M543.3 875.3L546.9 874.3M546.9 874.3L550.5 873.3M550.5 873.3L554.1 872.3M554.1 872.3L557.6 871.3M557.6 871.3L561.2 870.3M561.2 870.3L564.8 869.3M564.8 869.3L568.4 868.3M568.4 868.3L572.0 867.3M572.0 867.3L575.6 866.3M575.6 866.3L579.2 865.3M579.2 865.3L582.8 864.4M582.8 864.4L586.4 863.4M586.4 863.4L590.0 862.4M590.0 862.4L593.6 861.4M593.6 861.4L597.2 860.4M597.2 860.4L600.8 859.4M600.8 859.4L604.4 858.5M604.4 858.5L608.0 857.5M608.0 857.5L611.5 856.5M611.5 856.5L615.1 855.5M615.1 855.5L618.7 854.5M618.7 854.5L622.3 853.5M622.3 853.5L625.9 852.5M625.9 852.5L629.5 851.5M629.5 851.5L633.1 850.5M633.1 850.5L636.7 849.5M636.7 849.5L640.3 848.5M640.3 848.5L643.9 847.5M643.9 847.5L647.5 846.5M583.7 861.4L587.3 860.4M587.3 860.4L590.9 859.4M590.9 859.4L594.5 858.4M594.5 858.4L598.1 857.4M598.1 857.4L601.7 856.4M601.7 856.4L605.3 855.4M605.3 855.4L608.9 854.4M608.9 854.4L612.4 853.4M612.4 853.4L616.0 852.4M616.0 852.4L619.6 851.4M619.6 851.4L623.2 850.4M623.2 850.4L626.8 849.4M626.8 849.4L630.4 848.4M630.4 848.4L634.0 847.4M634.0 847.4L637.6 846.4M637.6 846.4L641.2 845.4M641.2 845.4L644.8 844.4M548.7 879.6L546.0 877.4M546.0 877.4L543.3 875.3M543.3 875.3L540.6 873.4M552.3 878.6L549.6 876.4M549.6 876.4L546.9 874.3M546.9 874.3L544.2 872.4M555.8 877.6L553.2 875.4M553.2 875.4L550.5 873.3M550.5 873.3L547.8 871.4M559.4 876.6L556.7 874.4M556.7 874.4L554.1 872.3M554.1 872.3L551.4 870.4M563.0 875.6L560.3 873.4M560.3 873.4L557.6 871.3M557.6 871.3L555.0 869.4M563.9 872.4L561.2 870.3M561.2 870.3L558.5 868.4M567.5 871.4L564.8 869.3M564.8 869.3L562.1 867.4M571.1 870.4L568.4 868.3M568.4 868.3L565.7 866.4M574.7 869.4L572.0 867.3M572.0 867.3L569.3 865.4M578.3 868.4L575.6 866.3M575.6 866.3L572.9 864.4M581.9 867.5L579.2 865.3M579.2 865.3L576.5 863.4M585.5 866.5L582.8 864.4M582.8 864.4L580.1 862.4M589.1 865.5L586.4 863.4M586.4 863.4L583.7 861.4M592.7 864.6L590.0 862.4M590.0 862.4L587.3 860.4M596.3 863.6L593.6 861.4M593.6 861.4L590.9 859.4M599.9 862.6L597.2 860.4M597.2 860.4L594.5 858.4M603.5 861.7L600.8 859.4M600.8 859.4L598.1 857.4M607.1 860.7L604.4 858.5M604.4 858.5L601.7 856.4M610.6 859.7L608.0 857.5M608.0 857.5L605.3 855.4M614.2 858.8L611.5 856.5M611.5 856.5L608.9 854.4M617.8 857.8L615.1 855.5M615.1 855.5L612.4 853.4M621.4 856.8L618.7 854.5M618.7 854.5L616.0 852.4M625.0 855.9L622.3 853.5M622.3 853.5L619.6 851.4M628.6 854.9L625.9 852.5M625.9 852.5L623.2 850.4M632.2 853.9L629.5 851.5M629.5 851.5L626.8 849.4M635.8 852.9L633.1 850.5M633.1 850.5L630.4 848.4M639.4 851.9L636.7 849.5M636.7 849.5L634.0 847.4M643.0 850.9L640.3 848.5M640.3 848.5L637.6 846.4M646.6 849.9L643.9 847.5M643.9 847.5L641.2 845.4M650.2 848.9L647.5 846.5M647.5 846.5L644.8 844.4" stroke="#e56370" stroke-width="0.6" fill="none"/>
<path d="M540.6 873.4L544.2 872.4M544.2 872.4L547.8 871.4M547.8 871.4L551.4 870.4M551.4 870.4L555.0 869.4M555.0 869.4L558.5 868.4M558.5 868.4L562.1 867.4M562.1 867.4L565.7 866.4M565.7 866.4L569.3 865.4M569.3 865.4L572.9 864.4M572.9 864.4L576.5 863.4M576.5 863.4L580.1 862.4M580.1 862.4L583.7 861.4M537.9 871.7L541.5 870.7M541.5 870.7L545.1 869.7M545.1 869.7L548.7 868.7M548.7 868.7L552.3 867.6M552.3 867.6L555.9 866.6M555.9 866.6L559.4 865.6M559.4 865.6L563.0 864.6M563.0 864.6L566.6 863.6M566.6 863.6L570.2 862.6M570.2 862.6L573.8 861.6M573.8 861.6L577.4 860.6M577.4 860.6L581.0 859.6M581.0 859.6L584.6 858.6M584.6 858.6L588.2 857.6M588.2 857.6L591.8 856.6M591.8 856.6L595.4 855.6M595.4 855.6L599.0 854.6M599.0 854.6L602.6 853.6M602.6 853.6L606.2 852.5M606.2 852.5L609.8 851.5M609.8 851.5L613.3 850.5M613.3 850.5L616.9 849.5M616.9 849.5L620.5 848.5M620.5 848.5L624.1 847.5M624.1 847.5L627.7 846.5M627.7 846.5L631.3 845.5M631.3 845.5L634.9 844.5M634.9 844.5L638.5 843.5M638.5 843.5L642.1 842.5M535.2 870.1L538.8 869.1M538.8 869.1L542.4 868.1M542.4 868.1L546.0 867.1M546.0 867.1L549.6 866.1M549.6 866.1L553.2 865.1M553.2 865.1L556.8 864.1M556.8 864.1L560.3 863.0M560.3 863.0L563.9 862.0M563.9 862.0L567.5 861.0M567.5 861.0L571.1 860.0M571.1 860.0L574.7 859.0M574.7 859.0L578.3 858.0M578.3 858.0L581.9 857.0M581.9 857.0L585.5 856.0M585.5 856.0L589.1 854.9M589.1 854.9L592.7 853.9M592.7 853.9L596.3 852.9M596.3 852.9L599.9 851.9M599.9 851.9L603.5 850.9M603.5 850.9L607.1 849.9M607.1 849.9L610.7 848.9M610.7 848.9L614.2 847.9M614.2 847.9L617.8 846.9M617.8 846.9L621.4 845.8M621.4 845.8L625.0 844.8M625.0 844.8L628.6 843.8M628.6 843.8L632.2 842.8M632.2 842.8L635.8 841.8M635.8 841.8L639.4 840.8M532.5 868.7L536.1 867.7M536.1 867.7L539.7 866.7M539.7 866.7L543.3 865.7M543.3 865.7L546.9 864.7M546.9 864.7L550.5 863.7M550.5 863.7L554.1 862.6M554.1 862.6L557.7 861.6M557.7 861.6L561.2 860.6M561.2 860.6L564.8 859.6M564.8 859.6L568.4 858.6M568.4 858.6L572.0 857.6M572.0 857.6L575.6 856.6M575.6 856.6L579.2 855.6M579.2 855.6L582.8 854.5M582.8 854.5L586.4 853.5M586.4 853.5L590.0 852.5M590.0 852.5L593.6 851.5M593.6 851.5L597.2 850.5M597.2 850.5L600.8 849.5M600.8 849.5L604.4 848.5M604.4 848.5L608.0 847.4M608.0 847.4L611.6 846.4M611.6 846.4L615.1 845.4M615.1 845.4L618.7 844.4M618.7 844.4L622.3 843.4M622.3 843.4L625.9 842.4M625.9 842.4L629.5 841.4M629.5 841.4L633.1 840.4M633.1 840.4L636.7 839.3M540.6 873.4L537.9 871.7M537.9 871.7L535.2 870.1M535.2 870.1L532.5 868.7M544.2 872.4L541.5 870.7M541.5 870.7L538.8 869.1M538.8 869.1L536.1 867.7M547.8 871.4L545.1 869.7M545.1 869.7L542.4 868.1M542.4 868.1L539.7 866.7M551.4 870.4L548.7 868.7M548.7 868.7L546.0 867.1M546.0 867.1L543.3 865.7M555.0 869.4L552.3 867.6M552.3 867.6L549.6 866.1M549.6 866.1L546.9 864.7M558.5 868.4L555.9 866.6M555.9 866.6L553.2 865.1M553.2 865.1L550.5 863.7M562.1 867.4L559.4 865.6M559.4 865.6L556.8 864.1M556.8 864.1L554.1 862.6M565.7 866.4L563.0 864.6M563.0 864.6L560.3 863.0M560.3 863.0L557.7 861.6M569.3 865.4L566.6 863.6M566.6 863.6L563.9 862.0M563.9 862.0L561.2 860.6M572.9 864.4L570.2 862.6M570.2 862.6L567.5 861.0M567.5 861.0L564.8 859.6M576.5 863.4L573.8 861.6M573.8 861.6L571.1 860.0M571.1 860.0L568.4 858.6M580.1 862.4L577.4 860.6M577.4 860.6L574.7 859.0M574.7 859.0L572.0 857.6M583.7 861.4L581.0 859.6M581.0 859.6L578.3 858.0M578.3 858.0L575.6 856.6M587.3 860.4L584.6 858.6M584.6 858.6L581.9 857.0M581.9 857.0L579.2 855.6M590.9 859.4L588.2 857.6M588.2 857.6L585.5 856.0M585.5 856.0L582.8 854.5M594.5 858.4L591.8 856.6M591.8 856.6L589.1 854.9M589.1 854.9L586.4 853.5M598.1 857.4L595.4 855.6M595.4 855.6L592.7 853.9M592.7 853.9L590.0 852.5M601.7 856.4L599.0 854.6M599.0 854.6L596.3 852.9M596.3 852.9L593.6 851.5M605.3 855.4L602.6 853.6M602.6 853.6L599.9 851.9M599.9 851.9L597.2 850.5M608.9 854.4L606.2 852.5M606.2 852.5L603.5 850.9M603.5 850.9L600.8 849.5M612.4 853.4L609.8 851.5M609.8 851.5L607.1 849.9M607.1 849.9L604.4 848.5M616.0 852.4L613.3 850.5M613.3 850.5L610.7 848.9M610.7 848.9L608.0 847.4M619.6 851.4L616.9 849.5M616.9 849.5L614.2 847.9M614.2 847.9L611.6 846.4M623.2 850.4L620.5 848.5M620.5 848.5L617.8 846.9M617.8 846.9L615.1 845.4M626.8 849.4L624.1 847.5M624.1 847.5L621.4 845.8M621.4 845.8L618.7 844.4M630.4 848.4L627.7 846.5M627.7 846.5L625.0 844.8M625.0 844.8L622.3 843.4M634.0 847.4L631.3 845.5M631.3 845.5L628.6 843.8M628.6 843.8L625.9 842.4M637.6 846.4L634.9 844.5M634.9 844.5L632.2 842.8M632.2 842.8L629.5 841.4M641.2 845.4L638.5 843.5M638.5 843.5L635.8 841.8M635.8 841.8L633.1 840.4M644.8 844.4L642.1 842.5M642.1 842.5L639.4 840.8M639.4 840.8L636.7 839.3" stroke="#eb626b" stroke-width="0.6" fill="none"/>
<line x1="532.5" y1="938.7" x2="532.5" y2="852.41" stroke="#7A7A7A" stroke-width="0.9" stroke-linecap="butt"/>
<line x1="613.3" y1="978.2" x2="532.5" y2="938.7" stroke="#7A7A7A" stroke-width="0.9" stroke-linecap="butt"/>
<line x1="613.3" y1="978.2" x2="721.1" y2="947.8" stroke="#7A7A7A" stroke-width="0.9" stroke-linecap="butt"/>
<line x1="532.5" y1="926.61" x2="530.3" y2="926.61" stroke="#7A7A7A" stroke-width="0.8" stroke-linecap="butt"/>
<text x="526.7" y="928.71" font-size="10.5" fill="#2b2b2b" font-weight="normal" font-style="normal" text-anchor="end" >1</text>
<line x1="532.5" y1="889.51" x2="530.3" y2="889.51" stroke="#7A7A7A" stroke-width="0.8" stroke-linecap="butt"/>
<text x="526.7" y="891.61" font-size="10.5" fill="#2b2b2b" font-weight="normal" font-style="normal" text-anchor="end" >2</text>
<line x1="532.5" y1="852.41" x2="530.3" y2="852.41" stroke="#7A7A7A" stroke-width="0.8" stroke-linecap="butt"/>
<text x="526.7" y="854.51" font-size="10.5" fill="#2b2b2b" font-weight="normal" font-style="normal" text-anchor="end" >3</text>
<line x1="586.37" y1="965.03" x2="588.27" y2="964.43" stroke="#7A7A7A" stroke-width="0.8" stroke-linecap="butt"/>
<line x1="649.23" y1="968.07" x2="647.73" y2="967.27" stroke="#7A7A7A" stroke-width="0.8" stroke-linecap="butt"/>
<line x1="559.43" y1="951.87" x2="561.33" y2="951.27" stroke="#7A7A7A" stroke-width="0.8" stroke-linecap="butt"/>
<line x1="685.17" y1="957.93" x2="683.67" y2="957.13" stroke="#7A7A7A" stroke-width="0.8" stroke-linecap="butt"/>
<text x="506.38" y="843.06" font-size="10.53" fill="#2b2b2b" font-weight="normal" font-style="normal" textLength="6.03" lengthAdjust="spacingAndGlyphs" >×</text>
<text x="514.23" y="842.49" font-size="10.88" fill="#2b2b2b" font-weight="normal" font-style="normal" textLength="11.27" lengthAdjust="spacingAndGlyphs" >10</text>
<text x="525.91" y="836.7" font-size="7.85" fill="#2b2b2b" font-weight="normal" font-style="normal" textLength="4.64" lengthAdjust="spacingAndGlyphs" >4</text>
<text x="520.6" y="951.6" font-size="10.5" fill="#2b2b2b" font-weight="normal" font-style="normal" text-anchor="middle" >90</text>
<text x="547.7" y="964.7" font-size="10.5" fill="#2b2b2b" font-weight="normal" font-style="normal" text-anchor="middle" >60</text>
<text x="575.3" y="977.9" font-size="10.5" fill="#2b2b2b" font-weight="normal" font-style="normal" text-anchor="middle" >30</text>
<text x="623.5" y="991.8" font-size="10.5" fill="#2b2b2b" font-weight="normal" font-style="normal" text-anchor="middle" >0</text>
<text x="661.7" y="982.2" font-size="10.5" fill="#2b2b2b" font-weight="normal" font-style="normal" text-anchor="middle" >30</text>
<text x="697.4" y="972.1" font-size="10.5" fill="#2b2b2b" font-weight="normal" font-style="normal" text-anchor="middle" >60</text>
<text x="732.6" y="962" font-size="10.5" fill="#2b2b2b" font-weight="normal" font-style="normal" text-anchor="middle" >90</text>
<text x="531.54" y="984.7" font-size="11.59" fill="#2b2b2b" font-weight="normal" font-style="italic" textLength="7.92" lengthAdjust="spacingAndGlyphs" >ϕ</text>
<text x="545.01" y="984.86" font-size="10.84" fill="#2b2b2b" font-weight="normal" font-style="normal" textLength="15.28" lengthAdjust="spacingAndGlyphs" >(°)</text>
<text x="685.86" y="990.28" font-size="11.85" fill="#2b2b2b" font-weight="normal" font-style="italic" textLength="5.94" lengthAdjust="spacingAndGlyphs" >θ</text>
<text x="698.7" y="989.56" font-size="10.84" fill="#2b2b2b" font-weight="normal" font-style="normal" textLength="13.69" lengthAdjust="spacingAndGlyphs" >(°)</text>
<text x="-926.8" y="517.4" font-size="13.2" fill="#2b2b2b" textLength="62.7" lengthAdjust="spacingAndGlyphs" transform="rotate(-90)">||<tspan font-weight="bold">M</tspan>|| (A·m<tspan font-size="8" dy="-5">-1</tspan><tspan dy="5">)</tspan></text>
<defs><linearGradient id="cb2" x1="0" y1="0" x2="0" y2="1"><stop offset="0" stop-color="#e21e2c"/><stop offset="0.1" stop-color="#c02848"/><stop offset="0.2" stop-color="#8c3c7c"/><stop offset="0.3" stop-color="#5254a8"/><stop offset="0.4" stop-color="#3c6cc4"/><stop offset="0.55" stop-color="#3480b8"/><stop offset="0.7" stop-color="#3292a4"/><stop offset="0.85" stop-color="#38a080"/><stop offset="1" stop-color="#40a850"/></linearGradient></defs>
<rect x="740.4" y="822.6" width="10.8" height="156.6" fill="url(#cb2)"/>
<text x="754.6" y="831.6" font-size="10.5" fill="#2b2b2b" font-weight="normal" font-style="normal" text-anchor="start" >2.5</text>
<text x="754.6" y="873.7" font-size="10.5" fill="#2b2b2b" font-weight="normal" font-style="normal" text-anchor="start" >2</text>
<text x="754.6" y="915.7" font-size="10.5" fill="#2b2b2b" font-weight="normal" font-style="normal" text-anchor="start" >1.5</text>
<text x="754.6" y="957.7" font-size="10.5" fill="#2b2b2b" font-weight="normal" font-style="normal" text-anchor="start" >1</text>
<text x="752.11" y="819.98" font-size="10.76" fill="#2b2b2b" font-weight="normal" font-style="normal" textLength="4.98" lengthAdjust="spacingAndGlyphs" >×</text>
<text x="756.81" y="818.71" font-size="9.32" fill="#2b2b2b" font-weight="normal" font-style="normal" textLength="10.04" lengthAdjust="spacingAndGlyphs" >10</text>
<text x="767.32" y="813.5" font-size="6.54" fill="#2b2b2b" font-weight="normal" font-style="normal" textLength="4.41" lengthAdjust="spacingAndGlyphs" >4</text>
</svg></body></html>
